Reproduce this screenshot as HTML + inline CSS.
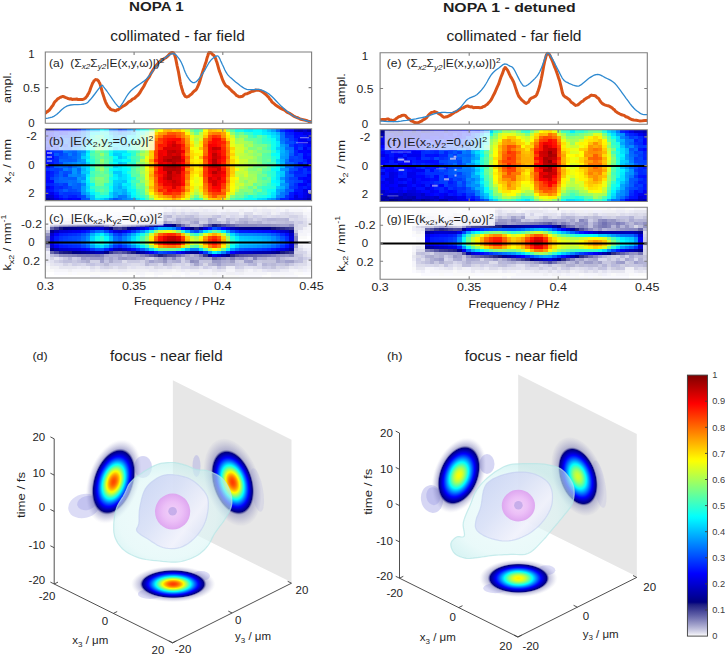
<!DOCTYPE html>
<html><head><meta charset="utf-8"><style>
html,body{margin:0;padding:0;background:#fff;width:725px;height:655px;overflow:hidden}
svg{display:block;font-family:"Liberation Sans", sans-serif}
</style></head><body>
<svg width="725" height="655" viewBox="0 0 725 655">
<defs><radialGradient id="pinkG" cx="0.5" cy="0.5" r="0.5"><stop offset="0" stop-color="#f2d2f9"/><stop offset="0.55" stop-color="#ecbdf7"/><stop offset="0.88" stop-color="#e2aaf2"/><stop offset="1" stop-color="#dca4ef"/></radialGradient><linearGradient id="midG" x1="0" y1="0.1" x2="1" y2="0.9"><stop offset="0" stop-color="#c6d0f3"/><stop offset="0.4" stop-color="#d9dff7"/><stop offset="0.72" stop-color="#f2f1fc"/><stop offset="1" stop-color="#d3daf4"/></linearGradient><radialGradient id="cloudG" cx="0.45" cy="0.55" r="0.55"><stop offset="0" stop-color="#e8fafa"/><stop offset="0.75" stop-color="#dcf6f6"/><stop offset="1" stop-color="#c4eeee"/></radialGradient><radialGradient id="bg1" cx="0.5" cy="0.5" r="0.5"><stop offset="0.000" stop-color="#ff4800" stop-opacity="1.00"/><stop offset="0.013" stop-color="#ff4800" stop-opacity="1.00"/><stop offset="0.025" stop-color="#ff4a00" stop-opacity="1.00"/><stop offset="0.037" stop-color="#ff4d00" stop-opacity="1.00"/><stop offset="0.050" stop-color="#ff5100" stop-opacity="1.00"/><stop offset="0.062" stop-color="#ff5700" stop-opacity="1.00"/><stop offset="0.075" stop-color="#ff5d00" stop-opacity="1.00"/><stop offset="0.087" stop-color="#ff6400" stop-opacity="1.00"/><stop offset="0.100" stop-color="#ff6d00" stop-opacity="1.00"/><stop offset="0.113" stop-color="#ff7700" stop-opacity="1.00"/><stop offset="0.125" stop-color="#ff8100" stop-opacity="1.00"/><stop offset="0.138" stop-color="#ff8d00" stop-opacity="1.00"/><stop offset="0.150" stop-color="#ff9a00" stop-opacity="1.00"/><stop offset="0.163" stop-color="#ffa700" stop-opacity="1.00"/><stop offset="0.175" stop-color="#ffb500" stop-opacity="1.00"/><stop offset="0.188" stop-color="#ffc400" stop-opacity="1.00"/><stop offset="0.200" stop-color="#ffd400" stop-opacity="1.00"/><stop offset="0.212" stop-color="#ffe500" stop-opacity="1.00"/><stop offset="0.225" stop-color="#fff600" stop-opacity="1.00"/><stop offset="0.237" stop-color="#f6ff09" stop-opacity="1.00"/><stop offset="0.250" stop-color="#e4ff1b" stop-opacity="1.00"/><stop offset="0.263" stop-color="#d1ff2e" stop-opacity="1.00"/><stop offset="0.275" stop-color="#beff41" stop-opacity="1.00"/><stop offset="0.287" stop-color="#aaff55" stop-opacity="1.00"/><stop offset="0.300" stop-color="#96ff69" stop-opacity="1.00"/><stop offset="0.312" stop-color="#82ff7d" stop-opacity="1.00"/><stop offset="0.325" stop-color="#6eff91" stop-opacity="1.00"/><stop offset="0.338" stop-color="#59ffa6" stop-opacity="1.00"/><stop offset="0.350" stop-color="#45ffba" stop-opacity="1.00"/><stop offset="0.362" stop-color="#30ffcf" stop-opacity="1.00"/><stop offset="0.375" stop-color="#1cffe3" stop-opacity="1.00"/><stop offset="0.388" stop-color="#07fff8" stop-opacity="1.00"/><stop offset="0.400" stop-color="#00f2ff" stop-opacity="1.00"/><stop offset="0.412" stop-color="#00ddff" stop-opacity="1.00"/><stop offset="0.425" stop-color="#00c9ff" stop-opacity="1.00"/><stop offset="0.438" stop-color="#00b6ff" stop-opacity="1.00"/><stop offset="0.450" stop-color="#00a2ff" stop-opacity="1.00"/><stop offset="0.463" stop-color="#008fff" stop-opacity="1.00"/><stop offset="0.475" stop-color="#007cff" stop-opacity="1.00"/><stop offset="0.487" stop-color="#0069ff" stop-opacity="1.00"/><stop offset="0.500" stop-color="#0057ff" stop-opacity="1.00"/><stop offset="0.512" stop-color="#0046ff" stop-opacity="1.00"/><stop offset="0.525" stop-color="#0034ff" stop-opacity="1.00"/><stop offset="0.537" stop-color="#0024ff" stop-opacity="1.00"/><stop offset="0.550" stop-color="#0013ff" stop-opacity="1.00"/><stop offset="0.562" stop-color="#0004ff" stop-opacity="1.00"/><stop offset="0.575" stop-color="#0000f3" stop-opacity="1.00"/><stop offset="0.588" stop-color="#0000e5" stop-opacity="1.00"/><stop offset="0.600" stop-color="#0000d6" stop-opacity="1.00"/><stop offset="0.613" stop-color="#0000c9" stop-opacity="1.00"/><stop offset="0.625" stop-color="#0000bb" stop-opacity="1.00"/><stop offset="0.637" stop-color="#0000af" stop-opacity="1.00"/><stop offset="0.650" stop-color="#0000a3" stop-opacity="1.00"/><stop offset="0.662" stop-color="#000097" stop-opacity="1.00"/><stop offset="0.675" stop-color="#00008c" stop-opacity="1.00"/><stop offset="0.688" stop-color="#000081" stop-opacity="1.00"/><stop offset="0.700" stop-color="#212184" stop-opacity="0.91"/><stop offset="0.713" stop-color="#373790" stop-opacity="0.79"/><stop offset="0.725" stop-color="#4d4d9d" stop-opacity="0.68"/><stop offset="0.738" stop-color="#6464a9" stop-opacity="0.57"/><stop offset="0.750" stop-color="#7171b1" stop-opacity="0.48"/><stop offset="0.762" stop-color="#7171b1" stop-opacity="0.45"/><stop offset="0.775" stop-color="#7171b1" stop-opacity="0.41"/><stop offset="0.787" stop-color="#7171b1" stop-opacity="0.37"/><stop offset="0.800" stop-color="#7171b1" stop-opacity="0.33"/><stop offset="0.812" stop-color="#7171b1" stop-opacity="0.30"/><stop offset="0.825" stop-color="#7171b1" stop-opacity="0.26"/><stop offset="0.838" stop-color="#7171b1" stop-opacity="0.23"/><stop offset="0.850" stop-color="#7171b1" stop-opacity="0.20"/><stop offset="0.863" stop-color="#7171b1" stop-opacity="0.17"/><stop offset="0.875" stop-color="#7171b1" stop-opacity="0.14"/><stop offset="0.887" stop-color="#7171b1" stop-opacity="0.11"/><stop offset="0.900" stop-color="#7171b1" stop-opacity="0.08"/><stop offset="0.912" stop-color="#7171b1" stop-opacity="0.06"/><stop offset="0.925" stop-color="#7171b1" stop-opacity="0.03"/><stop offset="0.938" stop-color="#7171b1" stop-opacity="0.02"/><stop offset="0.950" stop-color="#7171b1" stop-opacity="0.00"/><stop offset="0.963" stop-color="#7171b1" stop-opacity="0.00"/><stop offset="0.975" stop-color="#7171b1" stop-opacity="0.00"/><stop offset="0.988" stop-color="#7171b1" stop-opacity="0.00"/><stop offset="1.000" stop-color="#7171b1" stop-opacity="0.00"/></radialGradient><radialGradient id="bg2" cx="0.5" cy="0.5" r="0.5"><stop offset="0.000" stop-color="#ff3c00" stop-opacity="1.00"/><stop offset="0.013" stop-color="#ff3d00" stop-opacity="1.00"/><stop offset="0.025" stop-color="#ff3e00" stop-opacity="1.00"/><stop offset="0.037" stop-color="#ff4200" stop-opacity="1.00"/><stop offset="0.050" stop-color="#ff4600" stop-opacity="1.00"/><stop offset="0.062" stop-color="#ff4b00" stop-opacity="1.00"/><stop offset="0.075" stop-color="#ff5200" stop-opacity="1.00"/><stop offset="0.087" stop-color="#ff5900" stop-opacity="1.00"/><stop offset="0.100" stop-color="#ff6200" stop-opacity="1.00"/><stop offset="0.113" stop-color="#ff6c00" stop-opacity="1.00"/><stop offset="0.125" stop-color="#ff7700" stop-opacity="1.00"/><stop offset="0.138" stop-color="#ff8200" stop-opacity="1.00"/><stop offset="0.150" stop-color="#ff8f00" stop-opacity="1.00"/><stop offset="0.163" stop-color="#ff9d00" stop-opacity="1.00"/><stop offset="0.175" stop-color="#ffac00" stop-opacity="1.00"/><stop offset="0.188" stop-color="#ffbb00" stop-opacity="1.00"/><stop offset="0.200" stop-color="#ffcb00" stop-opacity="1.00"/><stop offset="0.212" stop-color="#ffdc00" stop-opacity="1.00"/><stop offset="0.225" stop-color="#ffed00" stop-opacity="1.00"/><stop offset="0.237" stop-color="#feff01" stop-opacity="1.00"/><stop offset="0.250" stop-color="#ecff13" stop-opacity="1.00"/><stop offset="0.263" stop-color="#d9ff26" stop-opacity="1.00"/><stop offset="0.275" stop-color="#c5ff3a" stop-opacity="1.00"/><stop offset="0.287" stop-color="#b1ff4e" stop-opacity="1.00"/><stop offset="0.300" stop-color="#9dff62" stop-opacity="1.00"/><stop offset="0.312" stop-color="#88ff77" stop-opacity="1.00"/><stop offset="0.325" stop-color="#74ff8b" stop-opacity="1.00"/><stop offset="0.338" stop-color="#5fffa0" stop-opacity="1.00"/><stop offset="0.350" stop-color="#4affb5" stop-opacity="1.00"/><stop offset="0.362" stop-color="#35ffca" stop-opacity="1.00"/><stop offset="0.375" stop-color="#20ffdf" stop-opacity="1.00"/><stop offset="0.388" stop-color="#0cfff3" stop-opacity="1.00"/><stop offset="0.400" stop-color="#00f6ff" stop-opacity="1.00"/><stop offset="0.412" stop-color="#00e1ff" stop-opacity="1.00"/><stop offset="0.425" stop-color="#00cdff" stop-opacity="1.00"/><stop offset="0.438" stop-color="#00b9ff" stop-opacity="1.00"/><stop offset="0.450" stop-color="#00a5ff" stop-opacity="1.00"/><stop offset="0.463" stop-color="#0092ff" stop-opacity="1.00"/><stop offset="0.475" stop-color="#007eff" stop-opacity="1.00"/><stop offset="0.487" stop-color="#006cff" stop-opacity="1.00"/><stop offset="0.500" stop-color="#0059ff" stop-opacity="1.00"/><stop offset="0.512" stop-color="#0048ff" stop-opacity="1.00"/><stop offset="0.525" stop-color="#0036ff" stop-opacity="1.00"/><stop offset="0.537" stop-color="#0025ff" stop-opacity="1.00"/><stop offset="0.550" stop-color="#0015ff" stop-opacity="1.00"/><stop offset="0.562" stop-color="#0005ff" stop-opacity="1.00"/><stop offset="0.575" stop-color="#0000f4" stop-opacity="1.00"/><stop offset="0.588" stop-color="#0000e5" stop-opacity="1.00"/><stop offset="0.600" stop-color="#0000d7" stop-opacity="1.00"/><stop offset="0.613" stop-color="#0000c9" stop-opacity="1.00"/><stop offset="0.625" stop-color="#0000bc" stop-opacity="1.00"/><stop offset="0.637" stop-color="#0000af" stop-opacity="1.00"/><stop offset="0.650" stop-color="#0000a3" stop-opacity="1.00"/><stop offset="0.662" stop-color="#000097" stop-opacity="1.00"/><stop offset="0.675" stop-color="#00008c" stop-opacity="1.00"/><stop offset="0.688" stop-color="#000081" stop-opacity="1.00"/><stop offset="0.700" stop-color="#212184" stop-opacity="0.90"/><stop offset="0.713" stop-color="#373790" stop-opacity="0.77"/><stop offset="0.725" stop-color="#4d4d9d" stop-opacity="0.65"/><stop offset="0.738" stop-color="#6464a9" stop-opacity="0.52"/><stop offset="0.750" stop-color="#7171b1" stop-opacity="0.44"/><stop offset="0.762" stop-color="#7171b1" stop-opacity="0.41"/><stop offset="0.775" stop-color="#7171b1" stop-opacity="0.39"/><stop offset="0.787" stop-color="#7171b1" stop-opacity="0.37"/><stop offset="0.800" stop-color="#7171b1" stop-opacity="0.34"/><stop offset="0.812" stop-color="#7171b1" stop-opacity="0.32"/><stop offset="0.825" stop-color="#7171b1" stop-opacity="0.30"/><stop offset="0.838" stop-color="#7171b1" stop-opacity="0.27"/><stop offset="0.850" stop-color="#7171b1" stop-opacity="0.25"/><stop offset="0.863" stop-color="#7171b1" stop-opacity="0.23"/><stop offset="0.875" stop-color="#7171b1" stop-opacity="0.21"/><stop offset="0.887" stop-color="#7171b1" stop-opacity="0.19"/><stop offset="0.900" stop-color="#7171b1" stop-opacity="0.17"/><stop offset="0.912" stop-color="#7171b1" stop-opacity="0.15"/><stop offset="0.925" stop-color="#7171b1" stop-opacity="0.13"/><stop offset="0.938" stop-color="#7171b1" stop-opacity="0.11"/><stop offset="0.950" stop-color="#7171b1" stop-opacity="0.09"/><stop offset="0.963" stop-color="#7171b1" stop-opacity="0.07"/><stop offset="0.975" stop-color="#7171b1" stop-opacity="0.06"/><stop offset="0.988" stop-color="#7171b1" stop-opacity="0.04"/><stop offset="1.000" stop-color="#7171b1" stop-opacity="0.03"/></radialGradient><radialGradient id="bg3" cx="0.5" cy="0.5" r="0.5"><stop offset="0.000" stop-color="#ff3c00" stop-opacity="1.00"/><stop offset="0.013" stop-color="#ff3d00" stop-opacity="1.00"/><stop offset="0.025" stop-color="#ff3e00" stop-opacity="1.00"/><stop offset="0.037" stop-color="#ff4200" stop-opacity="1.00"/><stop offset="0.050" stop-color="#ff4600" stop-opacity="1.00"/><stop offset="0.062" stop-color="#ff4b00" stop-opacity="1.00"/><stop offset="0.075" stop-color="#ff5200" stop-opacity="1.00"/><stop offset="0.087" stop-color="#ff5900" stop-opacity="1.00"/><stop offset="0.100" stop-color="#ff6200" stop-opacity="1.00"/><stop offset="0.113" stop-color="#ff6c00" stop-opacity="1.00"/><stop offset="0.125" stop-color="#ff7700" stop-opacity="1.00"/><stop offset="0.138" stop-color="#ff8200" stop-opacity="1.00"/><stop offset="0.150" stop-color="#ff8f00" stop-opacity="1.00"/><stop offset="0.163" stop-color="#ff9d00" stop-opacity="1.00"/><stop offset="0.175" stop-color="#ffac00" stop-opacity="1.00"/><stop offset="0.188" stop-color="#ffbb00" stop-opacity="1.00"/><stop offset="0.200" stop-color="#ffcb00" stop-opacity="1.00"/><stop offset="0.212" stop-color="#ffdc00" stop-opacity="1.00"/><stop offset="0.225" stop-color="#ffed00" stop-opacity="1.00"/><stop offset="0.237" stop-color="#feff01" stop-opacity="1.00"/><stop offset="0.250" stop-color="#ecff13" stop-opacity="1.00"/><stop offset="0.263" stop-color="#d9ff26" stop-opacity="1.00"/><stop offset="0.275" stop-color="#c5ff3a" stop-opacity="1.00"/><stop offset="0.287" stop-color="#b1ff4e" stop-opacity="1.00"/><stop offset="0.300" stop-color="#9dff62" stop-opacity="1.00"/><stop offset="0.312" stop-color="#88ff77" stop-opacity="1.00"/><stop offset="0.325" stop-color="#74ff8b" stop-opacity="1.00"/><stop offset="0.338" stop-color="#5fffa0" stop-opacity="1.00"/><stop offset="0.350" stop-color="#4affb5" stop-opacity="1.00"/><stop offset="0.362" stop-color="#35ffca" stop-opacity="1.00"/><stop offset="0.375" stop-color="#20ffdf" stop-opacity="1.00"/><stop offset="0.388" stop-color="#0cfff3" stop-opacity="1.00"/><stop offset="0.400" stop-color="#00f6ff" stop-opacity="1.00"/><stop offset="0.412" stop-color="#00e1ff" stop-opacity="1.00"/><stop offset="0.425" stop-color="#00cdff" stop-opacity="1.00"/><stop offset="0.438" stop-color="#00b9ff" stop-opacity="1.00"/><stop offset="0.450" stop-color="#00a5ff" stop-opacity="1.00"/><stop offset="0.463" stop-color="#0092ff" stop-opacity="1.00"/><stop offset="0.475" stop-color="#007eff" stop-opacity="1.00"/><stop offset="0.487" stop-color="#006cff" stop-opacity="1.00"/><stop offset="0.500" stop-color="#0059ff" stop-opacity="1.00"/><stop offset="0.512" stop-color="#0048ff" stop-opacity="1.00"/><stop offset="0.525" stop-color="#0036ff" stop-opacity="1.00"/><stop offset="0.537" stop-color="#0025ff" stop-opacity="1.00"/><stop offset="0.550" stop-color="#0015ff" stop-opacity="1.00"/><stop offset="0.562" stop-color="#0005ff" stop-opacity="1.00"/><stop offset="0.575" stop-color="#0000f4" stop-opacity="1.00"/><stop offset="0.588" stop-color="#0000e5" stop-opacity="1.00"/><stop offset="0.600" stop-color="#0000d7" stop-opacity="1.00"/><stop offset="0.613" stop-color="#0000c9" stop-opacity="1.00"/><stop offset="0.625" stop-color="#0000bc" stop-opacity="1.00"/><stop offset="0.637" stop-color="#0000af" stop-opacity="1.00"/><stop offset="0.650" stop-color="#0000a3" stop-opacity="1.00"/><stop offset="0.662" stop-color="#000097" stop-opacity="1.00"/><stop offset="0.675" stop-color="#00008c" stop-opacity="1.00"/><stop offset="0.688" stop-color="#000081" stop-opacity="1.00"/><stop offset="0.700" stop-color="#212184" stop-opacity="0.90"/><stop offset="0.713" stop-color="#373790" stop-opacity="0.77"/><stop offset="0.725" stop-color="#4d4d9d" stop-opacity="0.65"/><stop offset="0.738" stop-color="#6464a9" stop-opacity="0.52"/><stop offset="0.750" stop-color="#7171b1" stop-opacity="0.44"/><stop offset="0.762" stop-color="#7171b1" stop-opacity="0.40"/><stop offset="0.775" stop-color="#7171b1" stop-opacity="0.37"/><stop offset="0.787" stop-color="#7171b1" stop-opacity="0.33"/><stop offset="0.800" stop-color="#7171b1" stop-opacity="0.30"/><stop offset="0.812" stop-color="#7171b1" stop-opacity="0.27"/><stop offset="0.825" stop-color="#7171b1" stop-opacity="0.24"/><stop offset="0.838" stop-color="#7171b1" stop-opacity="0.21"/><stop offset="0.850" stop-color="#7171b1" stop-opacity="0.18"/><stop offset="0.863" stop-color="#7171b1" stop-opacity="0.15"/><stop offset="0.875" stop-color="#7171b1" stop-opacity="0.12"/><stop offset="0.887" stop-color="#7171b1" stop-opacity="0.10"/><stop offset="0.900" stop-color="#7171b1" stop-opacity="0.07"/><stop offset="0.912" stop-color="#7171b1" stop-opacity="0.05"/><stop offset="0.925" stop-color="#7171b1" stop-opacity="0.03"/><stop offset="0.938" stop-color="#7171b1" stop-opacity="0.01"/><stop offset="0.950" stop-color="#7171b1" stop-opacity="0.00"/><stop offset="0.963" stop-color="#7171b1" stop-opacity="0.00"/><stop offset="0.975" stop-color="#7171b1" stop-opacity="0.00"/><stop offset="0.988" stop-color="#7171b1" stop-opacity="0.00"/><stop offset="1.000" stop-color="#7171b1" stop-opacity="0.00"/></radialGradient><radialGradient id="bg4" cx="0.5" cy="0.5" r="0.5"><stop offset="0.000" stop-color="#fbff04" stop-opacity="1.00"/><stop offset="0.013" stop-color="#faff05" stop-opacity="1.00"/><stop offset="0.025" stop-color="#f9ff06" stop-opacity="1.00"/><stop offset="0.037" stop-color="#f7ff08" stop-opacity="1.00"/><stop offset="0.050" stop-color="#f4ff0b" stop-opacity="1.00"/><stop offset="0.062" stop-color="#f0ff0f" stop-opacity="1.00"/><stop offset="0.075" stop-color="#ecff13" stop-opacity="1.00"/><stop offset="0.087" stop-color="#e6ff19" stop-opacity="1.00"/><stop offset="0.100" stop-color="#e0ff1f" stop-opacity="1.00"/><stop offset="0.113" stop-color="#d9ff26" stop-opacity="1.00"/><stop offset="0.125" stop-color="#d1ff2e" stop-opacity="1.00"/><stop offset="0.138" stop-color="#c9ff36" stop-opacity="1.00"/><stop offset="0.150" stop-color="#c0ff3f" stop-opacity="1.00"/><stop offset="0.163" stop-color="#b6ff49" stop-opacity="1.00"/><stop offset="0.175" stop-color="#acff53" stop-opacity="1.00"/><stop offset="0.188" stop-color="#a1ff5e" stop-opacity="1.00"/><stop offset="0.200" stop-color="#95ff6a" stop-opacity="1.00"/><stop offset="0.212" stop-color="#89ff76" stop-opacity="1.00"/><stop offset="0.225" stop-color="#7dff82" stop-opacity="1.00"/><stop offset="0.237" stop-color="#70ff8f" stop-opacity="1.00"/><stop offset="0.250" stop-color="#62ff9d" stop-opacity="1.00"/><stop offset="0.263" stop-color="#55ffaa" stop-opacity="1.00"/><stop offset="0.275" stop-color="#46ffb9" stop-opacity="1.00"/><stop offset="0.287" stop-color="#38ffc7" stop-opacity="1.00"/><stop offset="0.300" stop-color="#29ffd6" stop-opacity="1.00"/><stop offset="0.312" stop-color="#1affe5" stop-opacity="1.00"/><stop offset="0.325" stop-color="#0bfff4" stop-opacity="1.00"/><stop offset="0.338" stop-color="#00faff" stop-opacity="1.00"/><stop offset="0.350" stop-color="#00ebff" stop-opacity="1.00"/><stop offset="0.362" stop-color="#00dbff" stop-opacity="1.00"/><stop offset="0.375" stop-color="#00ccff" stop-opacity="1.00"/><stop offset="0.388" stop-color="#00bcff" stop-opacity="1.00"/><stop offset="0.400" stop-color="#00adff" stop-opacity="1.00"/><stop offset="0.412" stop-color="#009dff" stop-opacity="1.00"/><stop offset="0.425" stop-color="#008eff" stop-opacity="1.00"/><stop offset="0.438" stop-color="#007eff" stop-opacity="1.00"/><stop offset="0.450" stop-color="#006fff" stop-opacity="1.00"/><stop offset="0.463" stop-color="#0060ff" stop-opacity="1.00"/><stop offset="0.475" stop-color="#0051ff" stop-opacity="1.00"/><stop offset="0.487" stop-color="#0042ff" stop-opacity="1.00"/><stop offset="0.500" stop-color="#0034ff" stop-opacity="1.00"/><stop offset="0.512" stop-color="#0026ff" stop-opacity="1.00"/><stop offset="0.525" stop-color="#0018ff" stop-opacity="1.00"/><stop offset="0.537" stop-color="#000aff" stop-opacity="1.00"/><stop offset="0.550" stop-color="#0000fc" stop-opacity="1.00"/><stop offset="0.562" stop-color="#0000ef" stop-opacity="1.00"/><stop offset="0.575" stop-color="#0000e2" stop-opacity="1.00"/><stop offset="0.588" stop-color="#0000d6" stop-opacity="1.00"/><stop offset="0.600" stop-color="#0000ca" stop-opacity="1.00"/><stop offset="0.613" stop-color="#0000bf" stop-opacity="1.00"/><stop offset="0.625" stop-color="#0000b3" stop-opacity="1.00"/><stop offset="0.637" stop-color="#0000a9" stop-opacity="1.00"/><stop offset="0.650" stop-color="#00009e" stop-opacity="1.00"/><stop offset="0.662" stop-color="#000094" stop-opacity="1.00"/><stop offset="0.675" stop-color="#00008a" stop-opacity="1.00"/><stop offset="0.688" stop-color="#000081" stop-opacity="1.00"/><stop offset="0.700" stop-color="#212184" stop-opacity="0.91"/><stop offset="0.713" stop-color="#373790" stop-opacity="0.79"/><stop offset="0.725" stop-color="#4d4d9d" stop-opacity="0.68"/><stop offset="0.738" stop-color="#6464a9" stop-opacity="0.57"/><stop offset="0.750" stop-color="#7171b1" stop-opacity="0.48"/><stop offset="0.762" stop-color="#7171b1" stop-opacity="0.45"/><stop offset="0.775" stop-color="#7171b1" stop-opacity="0.41"/><stop offset="0.787" stop-color="#7171b1" stop-opacity="0.37"/><stop offset="0.800" stop-color="#7171b1" stop-opacity="0.33"/><stop offset="0.812" stop-color="#7171b1" stop-opacity="0.30"/><stop offset="0.825" stop-color="#7171b1" stop-opacity="0.26"/><stop offset="0.838" stop-color="#7171b1" stop-opacity="0.23"/><stop offset="0.850" stop-color="#7171b1" stop-opacity="0.20"/><stop offset="0.863" stop-color="#7171b1" stop-opacity="0.17"/><stop offset="0.875" stop-color="#7171b1" stop-opacity="0.14"/><stop offset="0.887" stop-color="#7171b1" stop-opacity="0.11"/><stop offset="0.900" stop-color="#7171b1" stop-opacity="0.08"/><stop offset="0.912" stop-color="#7171b1" stop-opacity="0.06"/><stop offset="0.925" stop-color="#7171b1" stop-opacity="0.03"/><stop offset="0.938" stop-color="#7171b1" stop-opacity="0.02"/><stop offset="0.950" stop-color="#7171b1" stop-opacity="0.00"/><stop offset="0.963" stop-color="#7171b1" stop-opacity="0.00"/><stop offset="0.975" stop-color="#7171b1" stop-opacity="0.00"/><stop offset="0.988" stop-color="#7171b1" stop-opacity="0.00"/><stop offset="1.000" stop-color="#7171b1" stop-opacity="0.00"/></radialGradient><radialGradient id="bg5" cx="0.5" cy="0.5" r="0.5"><stop offset="0.000" stop-color="#d2ff2d" stop-opacity="1.00"/><stop offset="0.013" stop-color="#d1ff2e" stop-opacity="1.00"/><stop offset="0.025" stop-color="#d0ff2f" stop-opacity="1.00"/><stop offset="0.037" stop-color="#ceff31" stop-opacity="1.00"/><stop offset="0.050" stop-color="#cbff34" stop-opacity="1.00"/><stop offset="0.062" stop-color="#c8ff37" stop-opacity="1.00"/><stop offset="0.075" stop-color="#c4ff3b" stop-opacity="1.00"/><stop offset="0.087" stop-color="#bfff40" stop-opacity="1.00"/><stop offset="0.100" stop-color="#b9ff46" stop-opacity="1.00"/><stop offset="0.113" stop-color="#b3ff4c" stop-opacity="1.00"/><stop offset="0.125" stop-color="#acff53" stop-opacity="1.00"/><stop offset="0.138" stop-color="#a4ff5b" stop-opacity="1.00"/><stop offset="0.150" stop-color="#9cff63" stop-opacity="1.00"/><stop offset="0.163" stop-color="#93ff6c" stop-opacity="1.00"/><stop offset="0.175" stop-color="#89ff76" stop-opacity="1.00"/><stop offset="0.188" stop-color="#7fff80" stop-opacity="1.00"/><stop offset="0.200" stop-color="#75ff8a" stop-opacity="1.00"/><stop offset="0.212" stop-color="#69ff96" stop-opacity="1.00"/><stop offset="0.225" stop-color="#5effa1" stop-opacity="1.00"/><stop offset="0.237" stop-color="#52ffad" stop-opacity="1.00"/><stop offset="0.250" stop-color="#46ffb9" stop-opacity="1.00"/><stop offset="0.263" stop-color="#39ffc6" stop-opacity="1.00"/><stop offset="0.275" stop-color="#2cffd3" stop-opacity="1.00"/><stop offset="0.287" stop-color="#1effe1" stop-opacity="1.00"/><stop offset="0.300" stop-color="#11ffee" stop-opacity="1.00"/><stop offset="0.312" stop-color="#03fffc" stop-opacity="1.00"/><stop offset="0.325" stop-color="#00f4ff" stop-opacity="1.00"/><stop offset="0.338" stop-color="#00e5ff" stop-opacity="1.00"/><stop offset="0.350" stop-color="#00d7ff" stop-opacity="1.00"/><stop offset="0.362" stop-color="#00c8ff" stop-opacity="1.00"/><stop offset="0.375" stop-color="#00baff" stop-opacity="1.00"/><stop offset="0.388" stop-color="#00abff" stop-opacity="1.00"/><stop offset="0.400" stop-color="#009dff" stop-opacity="1.00"/><stop offset="0.412" stop-color="#008eff" stop-opacity="1.00"/><stop offset="0.425" stop-color="#0080ff" stop-opacity="1.00"/><stop offset="0.438" stop-color="#0071ff" stop-opacity="1.00"/><stop offset="0.450" stop-color="#0063ff" stop-opacity="1.00"/><stop offset="0.463" stop-color="#0055ff" stop-opacity="1.00"/><stop offset="0.475" stop-color="#0047ff" stop-opacity="1.00"/><stop offset="0.487" stop-color="#0039ff" stop-opacity="1.00"/><stop offset="0.500" stop-color="#002cff" stop-opacity="1.00"/><stop offset="0.512" stop-color="#001eff" stop-opacity="1.00"/><stop offset="0.525" stop-color="#0011ff" stop-opacity="1.00"/><stop offset="0.537" stop-color="#0004ff" stop-opacity="1.00"/><stop offset="0.550" stop-color="#0000f7" stop-opacity="1.00"/><stop offset="0.562" stop-color="#0000ea" stop-opacity="1.00"/><stop offset="0.575" stop-color="#0000de" stop-opacity="1.00"/><stop offset="0.588" stop-color="#0000d3" stop-opacity="1.00"/><stop offset="0.600" stop-color="#0000c7" stop-opacity="1.00"/><stop offset="0.613" stop-color="#0000bc" stop-opacity="1.00"/><stop offset="0.625" stop-color="#0000b1" stop-opacity="1.00"/><stop offset="0.637" stop-color="#0000a7" stop-opacity="1.00"/><stop offset="0.650" stop-color="#00009d" stop-opacity="1.00"/><stop offset="0.662" stop-color="#000093" stop-opacity="1.00"/><stop offset="0.675" stop-color="#00008a" stop-opacity="1.00"/><stop offset="0.688" stop-color="#000081" stop-opacity="1.00"/><stop offset="0.700" stop-color="#212184" stop-opacity="0.90"/><stop offset="0.713" stop-color="#373790" stop-opacity="0.77"/><stop offset="0.725" stop-color="#4d4d9d" stop-opacity="0.65"/><stop offset="0.738" stop-color="#6464a9" stop-opacity="0.52"/><stop offset="0.750" stop-color="#7171b1" stop-opacity="0.44"/><stop offset="0.762" stop-color="#7171b1" stop-opacity="0.41"/><stop offset="0.775" stop-color="#7171b1" stop-opacity="0.39"/><stop offset="0.787" stop-color="#7171b1" stop-opacity="0.37"/><stop offset="0.800" stop-color="#7171b1" stop-opacity="0.34"/><stop offset="0.812" stop-color="#7171b1" stop-opacity="0.32"/><stop offset="0.825" stop-color="#7171b1" stop-opacity="0.30"/><stop offset="0.838" stop-color="#7171b1" stop-opacity="0.27"/><stop offset="0.850" stop-color="#7171b1" stop-opacity="0.25"/><stop offset="0.863" stop-color="#7171b1" stop-opacity="0.23"/><stop offset="0.875" stop-color="#7171b1" stop-opacity="0.21"/><stop offset="0.887" stop-color="#7171b1" stop-opacity="0.19"/><stop offset="0.900" stop-color="#7171b1" stop-opacity="0.17"/><stop offset="0.912" stop-color="#7171b1" stop-opacity="0.15"/><stop offset="0.925" stop-color="#7171b1" stop-opacity="0.13"/><stop offset="0.938" stop-color="#7171b1" stop-opacity="0.11"/><stop offset="0.950" stop-color="#7171b1" stop-opacity="0.09"/><stop offset="0.963" stop-color="#7171b1" stop-opacity="0.07"/><stop offset="0.975" stop-color="#7171b1" stop-opacity="0.06"/><stop offset="0.988" stop-color="#7171b1" stop-opacity="0.04"/><stop offset="1.000" stop-color="#7171b1" stop-opacity="0.03"/></radialGradient><radialGradient id="bg6" cx="0.5" cy="0.5" r="0.5"><stop offset="0.000" stop-color="#fff200" stop-opacity="1.00"/><stop offset="0.013" stop-color="#fff200" stop-opacity="1.00"/><stop offset="0.025" stop-color="#fff400" stop-opacity="1.00"/><stop offset="0.037" stop-color="#fff600" stop-opacity="1.00"/><stop offset="0.050" stop-color="#fff900" stop-opacity="1.00"/><stop offset="0.062" stop-color="#fffd00" stop-opacity="1.00"/><stop offset="0.075" stop-color="#fdff02" stop-opacity="1.00"/><stop offset="0.087" stop-color="#f7ff08" stop-opacity="1.00"/><stop offset="0.100" stop-color="#f1ff0e" stop-opacity="1.00"/><stop offset="0.113" stop-color="#e9ff16" stop-opacity="1.00"/><stop offset="0.125" stop-color="#e2ff1d" stop-opacity="1.00"/><stop offset="0.138" stop-color="#d9ff26" stop-opacity="1.00"/><stop offset="0.150" stop-color="#cfff30" stop-opacity="1.00"/><stop offset="0.163" stop-color="#c5ff3a" stop-opacity="1.00"/><stop offset="0.175" stop-color="#bbff44" stop-opacity="1.00"/><stop offset="0.188" stop-color="#afff50" stop-opacity="1.00"/><stop offset="0.200" stop-color="#a3ff5c" stop-opacity="1.00"/><stop offset="0.212" stop-color="#97ff68" stop-opacity="1.00"/><stop offset="0.225" stop-color="#8aff75" stop-opacity="1.00"/><stop offset="0.237" stop-color="#7dff82" stop-opacity="1.00"/><stop offset="0.250" stop-color="#6fff90" stop-opacity="1.00"/><stop offset="0.263" stop-color="#60ff9f" stop-opacity="1.00"/><stop offset="0.275" stop-color="#52ffad" stop-opacity="1.00"/><stop offset="0.287" stop-color="#43ffbc" stop-opacity="1.00"/><stop offset="0.300" stop-color="#33ffcc" stop-opacity="1.00"/><stop offset="0.312" stop-color="#24ffdb" stop-opacity="1.00"/><stop offset="0.325" stop-color="#14ffeb" stop-opacity="1.00"/><stop offset="0.338" stop-color="#04fffb" stop-opacity="1.00"/><stop offset="0.350" stop-color="#00f4ff" stop-opacity="1.00"/><stop offset="0.362" stop-color="#00e4ff" stop-opacity="1.00"/><stop offset="0.375" stop-color="#00d3ff" stop-opacity="1.00"/><stop offset="0.388" stop-color="#00c3ff" stop-opacity="1.00"/><stop offset="0.400" stop-color="#00b3ff" stop-opacity="1.00"/><stop offset="0.412" stop-color="#00a3ff" stop-opacity="1.00"/><stop offset="0.425" stop-color="#0093ff" stop-opacity="1.00"/><stop offset="0.438" stop-color="#0084ff" stop-opacity="1.00"/><stop offset="0.450" stop-color="#0074ff" stop-opacity="1.00"/><stop offset="0.463" stop-color="#0064ff" stop-opacity="1.00"/><stop offset="0.475" stop-color="#0055ff" stop-opacity="1.00"/><stop offset="0.487" stop-color="#0046ff" stop-opacity="1.00"/><stop offset="0.500" stop-color="#0037ff" stop-opacity="1.00"/><stop offset="0.512" stop-color="#0029ff" stop-opacity="1.00"/><stop offset="0.525" stop-color="#001bff" stop-opacity="1.00"/><stop offset="0.537" stop-color="#000dff" stop-opacity="1.00"/><stop offset="0.550" stop-color="#0000fe" stop-opacity="1.00"/><stop offset="0.562" stop-color="#0000f1" stop-opacity="1.00"/><stop offset="0.575" stop-color="#0000e4" stop-opacity="1.00"/><stop offset="0.588" stop-color="#0000d8" stop-opacity="1.00"/><stop offset="0.600" stop-color="#0000cb" stop-opacity="1.00"/><stop offset="0.613" stop-color="#0000c0" stop-opacity="1.00"/><stop offset="0.625" stop-color="#0000b4" stop-opacity="1.00"/><stop offset="0.637" stop-color="#0000a9" stop-opacity="1.00"/><stop offset="0.650" stop-color="#00009f" stop-opacity="1.00"/><stop offset="0.662" stop-color="#000094" stop-opacity="1.00"/><stop offset="0.675" stop-color="#00008b" stop-opacity="1.00"/><stop offset="0.688" stop-color="#000081" stop-opacity="1.00"/><stop offset="0.700" stop-color="#212184" stop-opacity="0.90"/><stop offset="0.713" stop-color="#373790" stop-opacity="0.77"/><stop offset="0.725" stop-color="#4d4d9d" stop-opacity="0.65"/><stop offset="0.738" stop-color="#6464a9" stop-opacity="0.52"/><stop offset="0.750" stop-color="#7171b1" stop-opacity="0.44"/><stop offset="0.762" stop-color="#7171b1" stop-opacity="0.40"/><stop offset="0.775" stop-color="#7171b1" stop-opacity="0.37"/><stop offset="0.787" stop-color="#7171b1" stop-opacity="0.33"/><stop offset="0.800" stop-color="#7171b1" stop-opacity="0.30"/><stop offset="0.812" stop-color="#7171b1" stop-opacity="0.27"/><stop offset="0.825" stop-color="#7171b1" stop-opacity="0.24"/><stop offset="0.838" stop-color="#7171b1" stop-opacity="0.21"/><stop offset="0.850" stop-color="#7171b1" stop-opacity="0.18"/><stop offset="0.863" stop-color="#7171b1" stop-opacity="0.15"/><stop offset="0.875" stop-color="#7171b1" stop-opacity="0.12"/><stop offset="0.887" stop-color="#7171b1" stop-opacity="0.10"/><stop offset="0.900" stop-color="#7171b1" stop-opacity="0.07"/><stop offset="0.912" stop-color="#7171b1" stop-opacity="0.05"/><stop offset="0.925" stop-color="#7171b1" stop-opacity="0.03"/><stop offset="0.938" stop-color="#7171b1" stop-opacity="0.01"/><stop offset="0.950" stop-color="#7171b1" stop-opacity="0.00"/><stop offset="0.963" stop-color="#7171b1" stop-opacity="0.00"/><stop offset="0.975" stop-color="#7171b1" stop-opacity="0.00"/><stop offset="0.988" stop-color="#7171b1" stop-opacity="0.00"/><stop offset="1.000" stop-color="#7171b1" stop-opacity="0.00"/></radialGradient><linearGradient id="cbG" x1="0" y1="0" x2="0" y2="1"><stop offset="0.00" stop-color="#800000"/><stop offset="0.01" stop-color="#8b0000"/><stop offset="0.02" stop-color="#970000"/><stop offset="0.03" stop-color="#a30000"/><stop offset="0.04" stop-color="#ae0000"/><stop offset="0.05" stop-color="#ba0000"/><stop offset="0.06" stop-color="#c60000"/><stop offset="0.07" stop-color="#d20000"/><stop offset="0.08" stop-color="#dd0000"/><stop offset="0.09" stop-color="#e90000"/><stop offset="0.10" stop-color="#f50000"/><stop offset="0.11" stop-color="#ff0100"/><stop offset="0.12" stop-color="#ff0d00"/><stop offset="0.13" stop-color="#ff1900"/><stop offset="0.14" stop-color="#ff2500"/><stop offset="0.15" stop-color="#ff3000"/><stop offset="0.16" stop-color="#ff3c00"/><stop offset="0.17" stop-color="#ff4800"/><stop offset="0.18" stop-color="#ff5400"/><stop offset="0.19" stop-color="#ff5f00"/><stop offset="0.20" stop-color="#ff6b00"/><stop offset="0.21" stop-color="#ff7700"/><stop offset="0.22" stop-color="#ff8200"/><stop offset="0.23" stop-color="#ff8e00"/><stop offset="0.24" stop-color="#ff9a00"/><stop offset="0.25" stop-color="#ffa600"/><stop offset="0.26" stop-color="#ffb100"/><stop offset="0.27" stop-color="#ffbd00"/><stop offset="0.28" stop-color="#ffc900"/><stop offset="0.29" stop-color="#ffd500"/><stop offset="0.30" stop-color="#ffe000"/><stop offset="0.31" stop-color="#ffec00"/><stop offset="0.32" stop-color="#fff800"/><stop offset="0.33" stop-color="#fbff04"/><stop offset="0.34" stop-color="#efff10"/><stop offset="0.35" stop-color="#e3ff1c"/><stop offset="0.36" stop-color="#d7ff28"/><stop offset="0.37" stop-color="#ccff33"/><stop offset="0.38" stop-color="#c0ff3f"/><stop offset="0.39" stop-color="#b4ff4b"/><stop offset="0.40" stop-color="#a9ff56"/><stop offset="0.41" stop-color="#9dff62"/><stop offset="0.42" stop-color="#91ff6e"/><stop offset="0.43" stop-color="#85ff7a"/><stop offset="0.44" stop-color="#7aff85"/><stop offset="0.45" stop-color="#6eff91"/><stop offset="0.46" stop-color="#62ff9d"/><stop offset="0.47" stop-color="#56ffa9"/><stop offset="0.48" stop-color="#4bffb4"/><stop offset="0.49" stop-color="#3fffc0"/><stop offset="0.50" stop-color="#33ffcc"/><stop offset="0.51" stop-color="#28ffd7"/><stop offset="0.52" stop-color="#1cffe3"/><stop offset="0.53" stop-color="#10ffef"/><stop offset="0.54" stop-color="#04fffb"/><stop offset="0.55" stop-color="#00f8ff"/><stop offset="0.56" stop-color="#00ecff"/><stop offset="0.57" stop-color="#00e0ff"/><stop offset="0.58" stop-color="#00d5ff"/><stop offset="0.59" stop-color="#00c9ff"/><stop offset="0.60" stop-color="#00bdff"/><stop offset="0.61" stop-color="#00b1ff"/><stop offset="0.62" stop-color="#00a6ff"/><stop offset="0.63" stop-color="#009aff"/><stop offset="0.64" stop-color="#008eff"/><stop offset="0.65" stop-color="#0082ff"/><stop offset="0.66" stop-color="#0077ff"/><stop offset="0.67" stop-color="#006bff"/><stop offset="0.68" stop-color="#005fff"/><stop offset="0.69" stop-color="#0054ff"/><stop offset="0.70" stop-color="#0048ff"/><stop offset="0.71" stop-color="#003cff"/><stop offset="0.72" stop-color="#0030ff"/><stop offset="0.73" stop-color="#0025ff"/><stop offset="0.74" stop-color="#0019ff"/><stop offset="0.75" stop-color="#000dff"/><stop offset="0.76" stop-color="#0001ff"/><stop offset="0.77" stop-color="#0000f5"/><stop offset="0.78" stop-color="#0000e9"/><stop offset="0.79" stop-color="#0000dd"/><stop offset="0.80" stop-color="#0000d2"/><stop offset="0.81" stop-color="#0000c6"/><stop offset="0.82" stop-color="#0000ba"/><stop offset="0.83" stop-color="#0000ae"/><stop offset="0.84" stop-color="#0000a3"/><stop offset="0.85" stop-color="#000097"/><stop offset="0.86" stop-color="#00008b"/><stop offset="0.87" stop-color="#000080"/><stop offset="0.88" stop-color="#1f1f83"/><stop offset="0.89" stop-color="#2f2f8c"/><stop offset="0.90" stop-color="#3f3f95"/><stop offset="0.91" stop-color="#50509e"/><stop offset="0.92" stop-color="#6060a7"/><stop offset="0.93" stop-color="#7171b1"/><stop offset="0.94" stop-color="#8383ba"/><stop offset="0.95" stop-color="#9595c4"/><stop offset="0.96" stop-color="#a7a7ce"/><stop offset="0.97" stop-color="#babad9"/><stop offset="0.98" stop-color="#cecee4"/><stop offset="0.99" stop-color="#e4e4f0"/><stop offset="1.00" stop-color="#ffffff"/></linearGradient></defs>
<text x="156.4" y="10.8" font-size="13" text-anchor="middle" font-weight="bold" fill="#1e1e1e" textLength="54.7" lengthAdjust="spacingAndGlyphs" >NOPA 1</text>
<text x="177.5" y="41.3" font-size="14" text-anchor="middle" font-weight="normal" fill="#1e1e1e" textLength="134.6" lengthAdjust="spacingAndGlyphs" >collimated - far field</text>
<text x="509.3" y="12.0" font-size="13" text-anchor="middle" font-weight="bold" fill="#1e1e1e" textLength="132.8" lengthAdjust="spacingAndGlyphs" >NOPA 1 - detuned</text>
<text x="514.0" y="41.4" font-size="14" text-anchor="middle" font-weight="normal" fill="#1e1e1e" textLength="135.1" lengthAdjust="spacingAndGlyphs" >collimated - far field</text>
<clipPath id="clipA45"><rect x="45.3" y="51.0" width="266.3" height="72.2"/></clipPath>
<g clip-path="url(#clipA45)">
<path d="M45.0 113.1 L45.8 112.8 L46.8 111.9 L48.1 111.1 L49.4 110.0 L50.6 108.4 L51.7 106.8 L52.8 105.6 L53.9 103.3 L55.0 101.6 L56.2 100.6 L57.4 99.1 L58.7 98.4 L60.1 97.4 L61.4 97.0 L62.7 96.4 L64.0 96.8 L65.3 97.4 L66.5 97.8 L67.8 98.5 L69.2 98.9 L70.6 98.7 L72.1 99.4 L73.7 99.3 L75.2 99.2 L76.7 99.0 L78.2 99.6 L79.8 99.4 L81.3 99.6 L82.8 99.5 L84.1 98.9 L85.2 98.3 L86.2 97.0 L87.1 96.0 L87.9 94.4 L88.8 93.1 L89.7 91.0 L90.7 88.0 L91.7 85.5 L92.6 83.2 L93.4 82.0 L94.2 80.6 L94.9 80.1 L95.5 79.6 L96.2 79.7 L96.8 79.7 L97.4 79.9 L98.0 80.5 L98.6 81.1 L99.2 82.4 L99.9 83.6 L100.6 85.9 L101.3 88.5 L102.1 91.5 L102.9 94.1 L103.7 96.4 L104.6 99.2 L105.4 101.5 L106.3 103.6 L107.3 105.3 L108.3 106.9 L109.4 107.8 L110.5 109.2 L111.6 109.8 L112.8 110.1 L113.9 110.2 L115.0 110.8 L116.0 110.7 L117.0 109.7 L118.1 109.7 L119.5 108.6 L121.1 107.5 L123.0 106.3 L124.9 105.2 L126.9 103.8 L128.8 101.8 L130.7 100.9 L132.5 99.2 L134.4 98.4 L136.2 96.6 L138.1 95.0 L140.0 92.5 L141.8 89.3 L143.7 86.5 L145.5 82.8 L147.4 79.5 L149.3 76.8 L151.1 73.2 L153.0 70.1 L154.8 67.3 L156.7 65.0 L158.6 62.6 L160.5 60.9 L162.4 60.1 L164.3 58.5 L166.0 57.7 L167.7 56.2 L169.3 54.3 L170.8 53.0 L172.2 52.4 L173.5 52.9 L174.6 54.8 L175.5 57.8 L176.3 61.6 L177.1 65.7 L177.8 68.9 L178.5 72.0 L179.1 75.4 L179.6 78.2 L180.1 81.2 L180.7 84.3 L181.3 86.4 L181.8 88.5 L182.4 90.1 L182.9 92.0 L183.5 93.6 L184.1 94.3 L184.7 95.7 L185.2 96.4 L185.9 96.4 L186.7 97.0 L187.6 96.7 L188.6 96.3 L189.8 95.3 L190.9 94.6 L192.0 93.7 L193.1 92.2 L194.3 91.1 L195.5 90.3 L196.6 89.0 L197.7 86.6 L198.7 84.4 L199.7 81.6 L200.6 78.4 L201.5 75.4 L202.4 72.6 L203.2 70.1 L204.0 67.9 L204.8 65.4 L205.5 63.3 L206.2 61.5 L206.8 58.9 L207.3 57.2 L207.9 55.5 L208.4 53.7 L209.0 52.6 L209.7 52.7 L210.5 52.5 L211.3 53.1 L212.1 54.0 L212.8 54.8 L213.4 54.9 L213.9 55.6 L214.5 56.2 L215.0 57.4 L215.6 58.5 L216.3 60.7 L217.0 62.6 L217.8 65.4 L218.6 68.3 L219.4 71.1 L220.3 73.3 L221.2 75.8 L222.1 78.4 L223.1 81.1 L224.1 82.9 L225.2 84.9 L226.3 86.1 L227.5 86.6 L228.6 87.5 L229.8 88.9 L231.0 90.0 L232.1 91.3 L233.3 92.2 L234.4 93.2 L235.5 94.3 L236.5 95.4 L237.4 95.8 L238.2 96.4 L239.2 96.8 L240.2 96.8 L241.4 96.5 L242.7 96.2 L244.0 94.9 L245.4 93.9 L246.8 93.8 L248.3 93.1 L249.9 92.5 L251.5 91.5 L253.0 91.3 L254.4 90.9 L255.6 90.1 L256.7 90.3 L257.7 90.3 L258.8 90.3 L260.0 90.6 L261.4 91.2 L263.0 92.3 L264.6 93.5 L266.2 94.7 L267.6 96.4 L268.8 97.4 L269.7 99.0 L270.7 99.8 L271.8 101.8 L273.3 103.0 L275.2 104.7 L277.4 106.2 L279.8 107.8 L282.3 109.1 L284.6 110.2 L286.9 112.1 L289.1 113.1 L291.4 114.6 L293.6 116.1 L295.9 117.1 L298.3 118.0 L300.8 119.3 L303.2 119.8 L305.5 120.3 L307.3 120.7 L308.7 121.5 L309.7 121.5 L310.5 121.8 L311.1 121.6 L311.6 121.6" fill="none" stroke="#d95319" stroke-width="3.0" stroke-linejoin="round" stroke-linecap="round" />
<path d="M45.0 118.5 L46.2 118.3 L47.9 118.1 L49.9 117.7 L52.1 117.1 L54.3 116.1 L56.6 114.4 L59.1 112.2 L61.6 109.8 L64.4 107.5 L67.3 105.9 L70.6 105.0 L74.2 104.7 L77.9 104.6 L81.3 104.4 L84.1 104.0 L86.0 103.4 L87.3 102.7 L88.2 101.9 L89.2 100.8 L90.6 99.3 L92.5 97.0 L94.8 94.0 L97.1 90.8 L99.2 88.1 L100.9 86.3 L101.9 85.5 L102.4 85.2 L102.8 85.6 L103.4 86.6 L104.6 88.2 L106.8 91.0 L109.6 95.0 L112.6 99.4 L115.4 103.3 L117.6 105.9 L118.9 107.1 L119.5 107.5 L119.9 107.1 L120.4 106.2 L121.4 104.9 L122.8 102.9 L124.4 100.2 L126.2 97.0 L128.3 93.9 L130.7 91.0 L133.5 88.5 L136.8 86.1 L140.3 83.7 L143.6 81.4 L146.5 78.9 L148.9 76.3 L151.1 73.5 L153.1 70.7 L154.9 68.1 L156.7 65.8 L158.3 63.9 L159.8 62.3 L161.2 60.9 L162.6 59.6 L164.2 58.4 L166.0 57.1 L167.9 55.7 L169.8 54.6 L171.7 53.8 L173.5 53.7 L175.1 54.3 L176.6 55.6 L178.0 57.3 L179.4 59.2 L180.7 61.3 L181.9 63.7 L183.1 66.5 L184.1 69.4 L185.2 72.2 L186.3 74.6 L187.4 76.6 L188.6 78.4 L189.8 80.0 L190.9 81.2 L192.0 82.1 L193.0 82.6 L193.9 82.7 L194.7 82.5 L195.7 82.0 L196.7 81.2 L197.9 80.0 L199.2 78.5 L200.6 76.7 L201.9 74.7 L203.3 72.7 L204.7 70.5 L206.0 68.0 L207.4 65.5 L208.7 63.2 L210.0 61.3 L211.2 59.9 L212.4 58.7 L213.6 57.8 L214.7 57.1 L215.6 56.6 L216.3 56.2 L216.9 55.9 L217.4 55.8 L217.9 56.0 L218.5 56.6 L219.2 57.6 L219.9 59.0 L220.6 60.7 L221.4 62.4 L222.2 64.2 L223.1 66.0 L224.0 68.0 L224.9 70.0 L225.9 71.9 L227.0 73.6 L228.1 75.1 L229.3 76.4 L230.5 77.6 L232.0 78.8 L233.6 80.2 L235.6 81.9 L238.0 83.8 L240.4 85.7 L242.8 87.4 L244.9 88.7 L246.7 89.4 L248.2 89.7 L249.6 89.7 L251.0 89.7 L252.5 89.7 L254.0 89.7 L255.4 89.5 L256.9 89.4 L258.4 89.4 L260.0 89.7 L261.7 90.2 L263.6 90.9 L265.5 91.8 L267.5 93.0 L269.5 94.4 L271.6 96.3 L273.9 98.5 L276.2 101.0 L278.5 103.4 L280.8 105.7 L283.1 107.8 L285.4 109.9 L287.6 111.8 L289.9 113.6 L292.2 115.2 L294.5 116.5 L296.9 117.6 L299.2 118.5 L301.4 119.2 L303.5 119.9 L305.5 120.5 L307.4 121.0 L309.1 121.3 L310.5 121.6 L311.6 121.8" fill="none" stroke="#2d89d0" stroke-width="1.3" stroke-linejoin="round" stroke-linecap="round" />
</g>
<path d="M45.3 52.0H311.6V123.2H45.3ZM134.1 52.0v3M134.1 123.2v-3M222.8 52.0v3M222.8 123.2v-3M45.3 87.6h3M311.6 87.6h-3" fill="none" stroke="#7f7f7f" stroke-width="1.1"/>
<clipPath id="clipA380"><rect x="380.1" y="51.8" width="267.19999999999993" height="72.4"/></clipPath>
<g clip-path="url(#clipA380)">
<path d="M380.0 119.6 L381.0 119.7 L382.5 119.5 L384.2 119.5 L385.9 119.4 L387.4 119.0 L388.6 119.1 L389.8 120.1 L390.8 120.0 L391.9 120.3 L393.0 120.7 L394.1 120.0 L395.2 119.5 L396.4 118.4 L397.5 117.7 L398.6 116.8 L399.7 116.5 L400.8 116.1 L402.0 115.4 L403.1 115.3 L404.2 115.3 L405.3 115.4 L406.4 116.8 L407.4 117.8 L408.6 118.8 L409.8 119.5 L411.2 120.8 L412.6 121.3 L414.1 122.2 L415.7 122.7 L417.2 122.7 L418.7 122.6 L420.1 121.7 L421.6 121.1 L423.1 119.9 L424.7 119.2 L426.4 117.8 L428.1 115.6 L429.8 113.9 L431.5 112.5 L433.1 112.1 L434.5 111.6 L435.9 112.1 L437.2 112.6 L438.4 113.5 L439.6 114.1 L440.7 114.7 L441.7 115.7 L442.7 116.5 L443.9 117.2 L445.2 117.1 L446.9 116.8 L448.8 115.9 L450.9 114.8 L452.8 113.5 L454.5 112.2 L455.8 111.9 L456.9 111.3 L457.9 110.7 L458.9 109.9 L460.1 109.3 L461.5 108.3 L462.9 108.0 L464.4 107.1 L466.0 106.4 L467.5 105.9 L469.0 106.5 L470.4 106.9 L471.9 106.8 L473.4 107.7 L475.0 107.6 L476.7 107.5 L478.4 107.6 L480.1 107.8 L481.8 107.6 L483.4 106.5 L484.8 106.2 L486.1 105.0 L487.3 104.4 L488.6 102.8 L489.9 101.5 L491.4 99.3 L492.9 96.3 L494.4 93.6 L495.9 90.1 L497.3 86.9 L498.6 84.2 L499.8 80.5 L500.9 77.3 L502.0 74.6 L502.9 72.4 L503.6 70.3 L504.1 68.8 L504.6 68.4 L505.1 67.5 L505.7 68.0 L506.5 68.9 L507.5 70.1 L508.5 72.2 L509.5 74.4 L510.4 76.2 L511.1 77.4 L511.8 78.5 L512.4 79.6 L513.1 81.0 L513.8 82.4 L514.6 84.7 L515.5 87.6 L516.4 90.3 L517.4 93.2 L518.6 96.0 L520.0 97.8 L521.6 99.8 L523.2 101.1 L524.8 102.6 L526.2 103.4 L527.3 102.8 L528.2 102.3 L529.1 101.0 L529.9 99.3 L530.9 98.6 L532.0 97.8 L533.2 97.4 L534.4 96.7 L535.6 96.1 L536.6 94.9 L537.5 92.6 L538.3 90.4 L539.0 88.3 L539.8 85.8 L540.5 82.2 L541.3 78.8 L542.1 74.9 L542.9 70.4 L543.6 66.5 L544.3 63.2 L544.9 60.5 L545.5 58.3 L546.0 56.2 L546.5 54.7 L547.1 54.0 L547.6 53.0 L548.2 53.3 L548.7 53.9 L549.3 54.4 L550.0 55.5 L550.8 57.6 L551.7 59.3 L552.7 61.7 L553.7 64.5 L554.7 67.2 L555.7 69.4 L556.7 72.2 L557.6 74.9 L558.6 78.0 L559.5 80.5 L560.3 83.7 L561.0 86.3 L561.7 89.5 L562.4 92.6 L563.3 95.0 L564.3 96.2 L565.4 97.1 L566.6 97.7 L567.8 98.7 L569.0 99.3 L570.3 100.9 L571.6 102.4 L573.0 103.3 L574.4 104.5 L575.7 105.4 L577.1 105.1 L578.5 104.5 L579.9 103.2 L581.2 102.0 L582.3 101.3 L583.2 101.0 L583.9 100.0 L584.5 99.5 L585.2 99.0 L586.1 98.4 L587.3 97.7 L588.7 97.2 L590.1 95.8 L591.5 95.1 L592.8 95.4 L593.9 95.4 L594.8 95.8 L595.7 96.0 L596.6 97.1 L597.6 97.9 L598.7 98.5 L599.7 100.3 L600.8 101.9 L602.0 103.2 L603.3 104.2 L604.7 104.8 L606.3 105.4 L607.9 105.8 L609.5 106.2 L610.9 107.2 L612.1 107.8 L613.2 109.1 L614.3 109.6 L615.4 111.3 L616.6 112.0 L618.0 113.0 L619.4 113.7 L620.9 114.5 L622.5 115.0 L624.2 115.4 L625.9 116.8 L627.7 117.3 L629.5 118.4 L631.5 119.5 L633.7 120.0 L636.3 120.3 L639.4 120.9 L642.5 120.8 L645.1 120.6 L647.0 120.6" fill="none" stroke="#d95319" stroke-width="3.0" stroke-linejoin="round" stroke-linecap="round" />
<path d="M380.0 121.1 L382.0 121.2 L384.9 121.4 L388.2 121.6 L391.7 121.7 L394.9 121.7 L397.9 121.5 L400.9 121.2 L403.8 120.7 L406.8 120.3 L409.8 119.8 L412.8 119.3 L415.9 118.8 L419.0 118.2 L422.0 117.6 L424.7 117.0 L427.2 116.3 L429.6 115.5 L431.9 114.6 L434.0 113.9 L435.9 113.3 L437.6 112.9 L439.0 112.7 L440.4 112.6 L441.8 112.5 L443.3 112.4 L445.1 112.4 L447.0 112.6 L448.9 112.7 L450.8 112.7 L452.6 112.4 L454.2 111.8 L455.7 111.0 L457.2 110.1 L458.6 109.0 L460.1 107.7 L461.6 106.2 L463.0 104.4 L464.4 102.6 L465.9 100.8 L467.5 99.3 L469.3 98.2 L471.2 97.4 L473.1 96.6 L475.0 95.8 L476.8 94.7 L478.4 93.3 L479.9 91.8 L481.4 90.1 L482.8 88.3 L484.3 86.3 L485.8 84.0 L487.3 81.5 L488.7 78.8 L490.2 76.3 L491.7 74.2 L493.2 72.5 L494.8 71.1 L496.3 69.8 L497.8 68.7 L499.2 67.7 L500.4 66.7 L501.6 65.7 L502.7 64.9 L503.7 64.3 L504.8 64.0 L505.9 64.1 L507.0 64.4 L508.0 65.0 L509.1 65.6 L510.0 66.2 L510.8 66.5 L511.4 66.7 L512.1 67.0 L512.8 67.7 L513.8 69.0 L515.1 71.3 L516.7 74.5 L518.4 77.9 L520.0 81.0 L521.4 83.3 L522.4 84.7 L523.3 85.7 L524.0 86.2 L524.9 86.2 L526.2 85.8 L528.0 84.7 L530.2 82.9 L532.6 80.8 L534.8 78.6 L536.6 76.6 L537.9 74.9 L539.0 73.2 L539.8 71.6 L540.6 69.9 L541.4 68.1 L542.2 66.0 L543.0 63.8 L543.8 61.5 L544.5 59.4 L545.2 57.6 L545.8 56.1 L546.3 54.8 L546.9 53.7 L547.4 53.0 L548.1 52.9 L548.9 53.5 L549.8 54.6 L550.8 56.1 L551.8 57.8 L552.8 59.5 L553.7 61.2 L554.7 63.0 L555.6 65.0 L556.6 67.0 L557.6 69.0 L558.7 71.1 L559.8 73.4 L561.0 75.7 L562.1 77.8 L563.3 79.5 L564.4 80.7 L565.5 81.6 L566.6 82.2 L567.8 82.7 L569.0 83.3 L570.3 83.9 L571.7 84.5 L573.1 85.1 L574.5 85.5 L575.7 85.8 L576.7 86.0 L577.5 86.1 L578.3 86.1 L579.2 85.8 L580.4 85.2 L582.0 84.1 L583.9 82.5 L586.0 80.7 L588.0 79.0 L589.9 77.6 L591.6 76.6 L593.1 75.7 L594.6 75.0 L596.1 74.6 L597.6 74.4 L599.1 74.6 L600.6 75.1 L602.0 75.8 L603.6 76.7 L605.2 77.6 L607.0 78.5 L608.9 79.4 L610.8 80.4 L612.8 81.7 L614.7 83.3 L616.6 85.4 L618.5 87.8 L620.4 90.4 L622.3 93.1 L624.2 95.7 L626.1 98.3 L628.1 100.9 L630.0 103.6 L631.9 106.0 L633.7 108.0 L635.4 109.7 L637.0 111.0 L638.5 112.1 L639.9 113.1 L641.3 113.8 L642.7 114.3 L644.0 114.6 L645.2 114.6 L646.3 114.7 L647.0 114.7" fill="none" stroke="#2d89d0" stroke-width="1.3" stroke-linejoin="round" stroke-linecap="round" />
</g>
<path d="M380.1 52.8H647.3V124.2H380.1ZM469.2 52.8v3M469.2 124.2v-3M558.2 52.8v3M558.2 124.2v-3M380.1 88.5h3M647.3 88.5h-3" fill="none" stroke="#7f7f7f" stroke-width="1.1"/>
<g shape-rendering="crispEdges"><path d="M45.3 197.6H49.8V200.6H45.3Z" fill="#0000a0"/><path d="M45.3 128.8H49.8V131.8H45.3Z" fill="#0000a5"/><path d="M307.1 128.8H311.6V131.8H307.1Z" fill="#0000aa"/><path d="M49.8 128.8H54.3V131.8H49.8ZM298.1 128.8H302.6V131.8H298.1ZM307.1 197.6H311.6V200.6H307.1Z" fill="#0000af"/><path d="M293.5 128.8H298.1V131.8H293.5ZM49.8 197.6H54.3V200.6H49.8Z" fill="#0000be"/><path d="M45.3 194.6H49.8V197.6H45.3Z" fill="#0000c8"/><path d="M302.6 128.8H307.1V131.8H302.6ZM307.1 194.6H311.6V197.6H307.1Z" fill="#0000cd"/><path d="M49.8 194.6H54.3V197.6H49.8ZM302.6 197.6H307.1V200.6H302.6Z" fill="#0000d2"/><path d="M307.1 191.6H311.6V194.6H307.1Z" fill="#0000d7"/><path d="M293.5 194.6H298.1V197.6H293.5ZM54.3 197.6H58.8V200.6H54.3Z" fill="#0000dc"/><path d="M54.3 128.8H58.8V131.8H54.3ZM302.6 131.8H307.1V134.8H302.6ZM307.1 134.8H311.6V137.8H307.1ZM307.1 140.8H311.6V143.8H307.1ZM302.6 188.6H307.1V191.6H302.6ZM293.5 197.6H302.6V200.6H293.5Z" fill="#0000e1"/><path d="M45.3 131.8H49.8V134.8H45.3ZM302.6 194.6H307.1V197.6H302.6Z" fill="#0000e6"/><path d="M45.3 134.8H49.8V137.8H45.3ZM45.3 137.8H49.8V140.8H45.3ZM45.3 185.6H49.8V188.6H45.3ZM49.8 191.6H54.3V194.6H49.8ZM302.6 191.6H307.1V194.6H302.6Z" fill="#0000eb"/><path d="M72.4 128.8H76.9V131.8H72.4ZM307.1 131.8H311.6V134.8H307.1ZM49.8 137.8H54.3V140.8H49.8ZM298.1 137.8H307.1V140.8H298.1ZM302.6 140.8H307.1V143.8H302.6ZM307.1 179.7H311.6V182.7H307.1Z" fill="#0000f0"/><path d="M63.4 128.8H67.9V131.8H63.4ZM49.8 134.8H54.3V137.8H49.8ZM45.3 146.8H49.8V149.7H45.3ZM302.6 146.8H307.1V149.7H302.6ZM307.1 158.7H311.6V161.7H307.1ZM302.6 182.7H307.1V185.6H302.6ZM307.1 188.6H311.6V191.6H307.1ZM45.3 191.6H49.8V194.6H45.3Z" fill="#0000f5"/><path d="M49.8 131.8H54.3V134.8H49.8ZM302.6 164.7H307.1V167.7H302.6ZM307.1 173.7H311.6V176.7H307.1ZM293.5 191.6H298.1V194.6H293.5ZM58.8 197.6H63.4V200.6H58.8ZM67.9 197.6H72.4V200.6H67.9ZM289.0 197.6H293.5V200.6H289.0Z" fill="#0000fa"/><path d="M58.8 128.8H63.4V131.8H58.8ZM289.0 128.8H293.5V131.8H289.0ZM293.5 131.8H302.6V134.8H293.5ZM298.1 140.8H302.6V143.8H298.1ZM307.1 143.8H311.6V146.8H307.1ZM307.1 149.7H311.6V152.7H307.1ZM45.3 152.7H49.8V155.7H45.3ZM302.6 155.7H307.1V158.7H302.6ZM302.6 176.7H307.1V179.7H302.6ZM298.1 182.7H302.6V185.6H298.1ZM54.3 194.6H58.8V197.6H54.3ZM76.9 197.6H81.4V200.6H76.9Z" fill="#0000ff"/><path d="M67.9 128.8H72.4V131.8H67.9ZM293.5 134.8H298.1V137.8H293.5ZM298.1 149.7H307.1V152.7H298.1ZM302.6 152.7H307.1V155.7H302.6ZM307.1 155.7H311.6V158.7H307.1ZM307.1 161.7H311.6V164.7H307.1ZM45.3 164.7H49.8V167.7H45.3ZM307.1 164.7H311.6V167.7H307.1ZM307.1 176.7H311.6V179.7H307.1ZM45.3 179.7H54.3V182.7H45.3ZM298.1 194.6H302.6V197.6H298.1ZM72.4 197.6H76.9V200.6H72.4Z" fill="#0005ff"/><path d="M284.5 128.8H289.0V131.8H284.5ZM298.1 134.8H302.6V137.8H298.1ZM45.3 149.7H49.8V152.7H45.3ZM49.8 155.7H54.3V158.7H49.8ZM45.3 161.7H49.8V164.7H45.3ZM307.1 167.7H311.6V170.7H307.1ZM45.3 170.7H49.8V173.7H45.3ZM45.3 176.7H49.8V179.7H45.3ZM298.1 176.7H302.6V179.7H298.1ZM302.6 179.7H307.1V182.7H302.6ZM49.8 185.6H54.3V188.6H49.8ZM307.1 185.6H311.6V188.6H307.1ZM45.3 188.6H49.8V191.6H45.3ZM298.1 191.6H302.6V194.6H298.1Z" fill="#000aff"/><path d="M58.8 131.8H63.4V134.8H58.8ZM302.6 134.8H307.1V137.8H302.6ZM49.8 143.8H54.3V146.8H49.8ZM302.6 143.8H307.1V146.8H302.6ZM298.1 161.7H302.6V164.7H298.1ZM45.3 173.7H49.8V176.7H45.3ZM298.1 185.6H302.6V188.6H298.1ZM298.1 188.6H302.6V191.6H298.1ZM63.4 197.6H67.9V200.6H63.4Z" fill="#000fff"/><path d="M307.1 137.8H311.6V140.8H307.1ZM45.3 143.8H49.8V146.8H45.3ZM293.5 143.8H298.1V146.8H293.5ZM293.5 146.8H298.1V149.7H293.5ZM307.1 152.7H311.6V155.7H307.1ZM49.8 161.7H54.3V164.7H49.8ZM49.8 188.6H54.3V191.6H49.8ZM293.5 188.6H298.1V191.6H293.5ZM54.3 191.6H58.8V194.6H54.3ZM289.0 194.6H293.5V197.6H289.0Z" fill="#0014ff"/><path d="M76.9 128.8H81.4V131.8H76.9ZM63.4 131.8H67.9V134.8H63.4ZM293.5 137.8H298.1V140.8H293.5ZM307.1 146.8H311.6V149.7H307.1ZM298.1 167.7H302.6V170.7H298.1ZM45.3 182.7H49.8V185.6H45.3ZM307.1 182.7H311.6V185.6H307.1ZM289.0 191.6H293.5V194.6H289.0ZM72.4 194.6H76.9V197.6H72.4Z" fill="#0019ff"/><path d="M289.0 131.8H293.5V134.8H289.0ZM54.3 134.8H58.8V137.8H54.3ZM45.3 140.8H49.8V143.8H45.3ZM49.8 152.7H54.3V155.7H49.8ZM45.3 155.7H49.8V158.7H45.3ZM45.3 158.7H54.3V161.7H45.3ZM302.6 158.7H307.1V161.7H302.6ZM49.8 170.7H54.3V173.7H49.8ZM293.5 170.7H302.6V173.7H293.5ZM302.6 185.6H307.1V188.6H302.6ZM58.8 194.6H63.4V197.6H58.8ZM67.9 194.6H72.4V197.6H67.9Z" fill="#001eff"/><path d="M54.3 131.8H58.8V134.8H54.3ZM58.8 137.8H63.4V140.8H58.8ZM298.1 143.8H302.6V146.8H298.1ZM54.3 146.8H58.8V149.7H54.3ZM293.5 149.7H298.1V152.7H293.5ZM293.5 152.7H298.1V155.7H293.5ZM307.1 170.7H311.6V173.7H307.1ZM49.8 173.7H54.3V176.7H49.8ZM49.8 182.7H54.3V185.6H49.8ZM280.0 197.6H289.0V200.6H280.0Z" fill="#0023ff"/><path d="M280.0 128.8H284.5V131.8H280.0ZM284.5 131.8H289.0V134.8H284.5ZM54.3 143.8H58.8V146.8H54.3ZM54.3 158.7H58.8V161.7H54.3ZM293.5 173.7H307.1V176.7H293.5ZM293.5 182.7H298.1V185.6H293.5ZM58.8 185.6H63.4V188.6H58.8Z" fill="#0028ff"/><path d="M54.3 155.7H58.8V158.7H54.3ZM54.3 161.7H58.8V164.7H54.3ZM49.8 164.7H54.3V167.7H49.8ZM298.1 164.7H302.6V167.7H298.1ZM45.3 167.7H49.8V170.7H45.3ZM54.3 185.6H58.8V188.6H54.3ZM293.5 185.6H298.1V188.6H293.5Z" fill="#002dff"/><path d="M284.5 134.8H293.5V137.8H284.5ZM49.8 140.8H54.3V143.8H49.8ZM293.5 140.8H298.1V143.8H293.5ZM49.8 149.7H54.3V152.7H49.8ZM302.6 161.7H307.1V164.7H302.6ZM302.6 167.7H307.1V170.7H302.6ZM302.6 170.7H307.1V173.7H302.6ZM54.3 188.6H58.8V191.6H54.3ZM63.4 191.6H72.4V194.6H63.4ZM63.4 194.6H67.9V197.6H63.4ZM76.9 194.6H81.4V197.6H76.9ZM284.5 194.6H289.0V197.6H284.5Z" fill="#0032ff"/><path d="M289.0 137.8H293.5V140.8H289.0ZM289.0 143.8H293.5V146.8H289.0ZM298.1 146.8H302.6V149.7H298.1ZM298.1 155.7H302.6V158.7H298.1ZM289.0 158.7H293.5V161.7H289.0ZM293.5 164.7H298.1V167.7H293.5ZM54.3 170.7H58.8V173.7H54.3ZM54.3 182.7H58.8V185.6H54.3ZM63.4 182.7H67.9V185.6H63.4ZM72.4 191.6H76.9V194.6H72.4Z" fill="#0037ff"/><path d="M117.5 128.8H122.0V131.8H117.5ZM67.9 131.8H72.4V134.8H67.9ZM63.4 143.8H67.9V146.8H63.4ZM49.8 146.8H54.3V149.7H49.8ZM54.3 149.7H63.4V152.7H54.3ZM298.1 152.7H302.6V155.7H298.1ZM298.1 158.7H302.6V161.7H298.1ZM54.3 167.7H58.8V170.7H54.3ZM289.0 170.7H293.5V173.7H289.0ZM49.8 176.7H54.3V179.7H49.8ZM293.5 176.7H298.1V179.7H293.5ZM298.1 179.7H302.6V182.7H298.1ZM63.4 185.6H67.9V188.6H63.4ZM289.0 185.6H293.5V188.6H289.0ZM58.8 191.6H63.4V194.6H58.8ZM76.9 191.6H81.4V194.6H76.9Z" fill="#003cff"/><path d="M67.9 134.8H72.4V137.8H67.9ZM54.3 137.8H58.8V140.8H54.3ZM58.8 140.8H63.4V143.8H58.8ZM58.8 152.7H63.4V155.7H58.8ZM289.0 155.7H293.5V158.7H289.0ZM293.5 158.7H298.1V161.7H293.5ZM293.5 161.7H298.1V164.7H293.5ZM49.8 167.7H54.3V170.7H49.8ZM63.4 173.7H67.9V176.7H63.4ZM289.0 176.7H293.5V179.7H289.0ZM293.5 179.7H298.1V182.7H293.5Z" fill="#0041ff"/><path d="M72.4 131.8H76.9V134.8H72.4ZM58.8 134.8H67.9V137.8H58.8ZM54.3 140.8H58.8V143.8H54.3ZM293.5 155.7H298.1V158.7H293.5ZM58.8 161.7H63.4V164.7H58.8ZM58.8 167.7H63.4V170.7H58.8ZM293.5 167.7H298.1V170.7H293.5ZM54.3 173.7H58.8V176.7H54.3ZM58.8 182.7H63.4V185.6H58.8ZM58.8 188.6H63.4V191.6H58.8ZM67.9 188.6H72.4V191.6H67.9Z" fill="#0046ff"/><path d="M76.9 131.8H81.4V134.8H76.9ZM289.0 140.8H293.5V143.8H289.0ZM63.4 170.7H67.9V173.7H63.4ZM289.0 182.7H293.5V185.6H289.0ZM67.9 185.6H72.4V188.6H67.9ZM72.4 188.6H76.9V191.6H72.4ZM81.4 194.6H85.9V197.6H81.4Z" fill="#004bff"/><path d="M122.0 128.8H126.5V131.8H122.0ZM72.4 134.8H76.9V137.8H72.4ZM67.9 140.8H72.4V143.8H67.9ZM284.5 140.8H289.0V143.8H284.5ZM63.4 146.8H67.9V149.7H63.4ZM58.8 155.7H63.4V158.7H58.8ZM67.9 164.7H72.4V167.7H67.9ZM289.0 167.7H293.5V170.7H289.0ZM289.0 179.7H293.5V182.7H289.0ZM81.4 197.6H85.9V200.6H81.4Z" fill="#0050ff"/><path d="M81.4 128.8H85.9V131.8H81.4ZM58.8 143.8H63.4V146.8H58.8ZM72.4 143.8H76.9V146.8H72.4ZM67.9 146.8H72.4V149.7H67.9ZM63.4 152.7H67.9V155.7H63.4ZM63.4 155.7H67.9V158.7H63.4ZM67.9 170.7H72.4V173.7H67.9ZM54.3 176.7H58.8V179.7H54.3ZM289.0 188.6H293.5V191.6H289.0ZM113.0 197.6H117.5V200.6H113.0Z" fill="#0055ff"/><path d="M284.5 137.8H289.0V140.8H284.5ZM54.3 152.7H58.8V155.7H54.3ZM289.0 152.7H293.5V155.7H289.0ZM67.9 158.7H72.4V161.7H67.9ZM54.3 179.7H58.8V182.7H54.3ZM284.5 188.6H289.0V191.6H284.5ZM85.9 197.6H90.4V200.6H85.9Z" fill="#005aff"/><path d="M67.9 137.8H72.4V140.8H67.9ZM76.9 143.8H81.4V146.8H76.9ZM72.4 152.7H76.9V155.7H72.4ZM67.9 155.7H72.4V158.7H67.9ZM63.4 158.7H67.9V161.7H63.4ZM72.4 158.7H76.9V161.7H72.4ZM289.0 161.7H293.5V164.7H289.0ZM54.3 164.7H58.8V167.7H54.3ZM58.8 170.7H63.4V173.7H58.8ZM58.8 173.7H63.4V176.7H58.8ZM289.0 173.7H293.5V176.7H289.0ZM67.9 176.7H76.9V179.7H67.9ZM76.9 182.7H81.4V185.6H76.9ZM76.9 185.6H81.4V188.6H76.9ZM63.4 188.6H67.9V191.6H63.4ZM76.9 188.6H81.4V191.6H76.9ZM284.5 191.6H289.0V194.6H284.5ZM275.5 197.6H280.0V200.6H275.5Z" fill="#005fff"/><path d="M275.5 128.8H280.0V131.8H275.5ZM76.9 134.8H81.4V137.8H76.9ZM63.4 137.8H67.9V140.8H63.4ZM67.9 143.8H72.4V146.8H67.9ZM289.0 146.8H293.5V149.7H289.0ZM72.4 149.7H76.9V152.7H72.4ZM58.8 158.7H63.4V161.7H58.8ZM284.5 161.7H289.0V164.7H284.5ZM63.4 164.7H67.9V167.7H63.4ZM63.4 176.7H67.9V179.7H63.4ZM284.5 176.7H289.0V179.7H284.5ZM58.8 179.7H63.4V182.7H58.8ZM284.5 179.7H289.0V182.7H284.5ZM72.4 185.6H76.9V188.6H72.4Z" fill="#0064ff"/><path d="M280.0 131.8H284.5V134.8H280.0ZM63.4 140.8H67.9V143.8H63.4ZM58.8 146.8H63.4V149.7H58.8ZM289.0 149.7H293.5V152.7H289.0ZM72.4 155.7H76.9V158.7H72.4ZM58.8 164.7H63.4V167.7H58.8ZM289.0 164.7H293.5V167.7H289.0ZM67.9 167.7H72.4V170.7H67.9ZM76.9 167.7H81.4V170.7H76.9ZM58.8 176.7H63.4V179.7H58.8ZM63.4 179.7H67.9V182.7H63.4ZM72.4 182.7H76.9V185.6H72.4ZM117.5 197.6H122.0V200.6H117.5Z" fill="#0069ff"/><path d="M113.0 128.8H117.5V131.8H113.0ZM72.4 140.8H76.9V143.8H72.4ZM284.5 146.8H289.0V149.7H284.5ZM67.9 149.7H72.4V152.7H67.9ZM284.5 164.7H289.0V167.7H284.5ZM284.5 170.7H289.0V173.7H284.5ZM284.5 173.7H289.0V176.7H284.5ZM72.4 179.7H76.9V182.7H72.4Z" fill="#006eff"/><path d="M280.0 134.8H284.5V137.8H280.0ZM280.0 137.8H284.5V140.8H280.0ZM284.5 158.7H289.0V161.7H284.5ZM76.9 170.7H81.4V173.7H76.9ZM67.9 179.7H72.4V182.7H67.9Z" fill="#0073ff"/><path d="M81.4 131.8H85.9V134.8H81.4ZM72.4 137.8H76.9V140.8H72.4ZM76.9 140.8H81.4V143.8H76.9ZM63.4 149.7H67.9V152.7H63.4ZM63.4 161.7H67.9V164.7H63.4ZM72.4 164.7H76.9V167.7H72.4ZM67.9 182.7H72.4V185.6H67.9ZM280.0 191.6H284.5V194.6H280.0ZM117.5 194.6H122.0V197.6H117.5ZM280.0 194.6H284.5V197.6H280.0Z" fill="#0078ff"/><path d="M108.5 128.8H113.0V131.8H108.5ZM117.5 131.8H122.0V134.8H117.5ZM81.4 134.8H85.9V137.8H81.4ZM76.9 137.8H85.9V140.8H76.9ZM280.0 140.8H284.5V143.8H280.0ZM284.5 143.8H289.0V146.8H284.5ZM67.9 152.7H72.4V155.7H67.9ZM76.9 152.7H81.4V155.7H76.9ZM76.9 155.7H81.4V158.7H76.9ZM63.4 167.7H67.9V170.7H63.4ZM284.5 185.6H289.0V188.6H284.5ZM122.0 194.6H126.5V197.6H122.0ZM108.5 197.6H113.0V200.6H108.5Z" fill="#007dff"/><path d="M85.9 128.8H90.4V131.8H85.9ZM126.5 128.8H131.1V131.8H126.5ZM67.9 161.7H72.4V164.7H67.9ZM67.9 173.7H72.4V176.7H67.9ZM76.9 173.7H81.4V176.7H76.9Z" fill="#0082ff"/><path d="M76.9 149.7H81.4V152.7H76.9ZM76.9 158.7H81.4V161.7H76.9ZM81.4 182.7H85.9V185.6H81.4ZM284.5 182.7H289.0V185.6H284.5ZM122.0 197.6H126.5V200.6H122.0Z" fill="#0087ff"/><path d="M72.4 146.8H76.9V149.7H72.4ZM72.4 161.7H76.9V164.7H72.4ZM76.9 164.7H81.4V167.7H76.9ZM284.5 167.7H289.0V170.7H284.5ZM72.4 173.7H76.9V176.7H72.4ZM76.9 179.7H81.4V182.7H76.9ZM275.5 194.6H280.0V197.6H275.5Z" fill="#008cff"/><path d="M122.0 131.8H126.5V134.8H122.0ZM284.5 149.7H289.0V152.7H284.5ZM284.5 155.7H289.0V158.7H284.5ZM81.4 176.7H85.9V179.7H81.4ZM280.0 176.7H284.5V179.7H280.0ZM81.4 191.6H85.9V194.6H81.4Z" fill="#0091ff"/><path d="M81.4 140.8H85.9V143.8H81.4ZM81.4 149.7H85.9V152.7H81.4ZM284.5 152.7H289.0V155.7H284.5ZM81.4 161.7H85.9V164.7H81.4ZM72.4 167.7H76.9V170.7H72.4ZM72.4 170.7H76.9V173.7H72.4ZM280.0 188.6H284.5V191.6H280.0ZM85.9 194.6H90.4V197.6H85.9ZM126.5 197.6H131.1V200.6H126.5ZM271.0 197.6H275.5V200.6H271.0Z" fill="#0096ff"/><path d="M131.1 128.8H135.6V131.8H131.1ZM113.0 131.8H117.5V134.8H113.0ZM76.9 146.8H81.4V149.7H76.9ZM280.0 167.7H284.5V170.7H280.0ZM76.9 176.7H81.4V179.7H76.9ZM280.0 182.7H284.5V185.6H280.0Z" fill="#009bff"/><path d="M271.0 128.8H275.5V131.8H271.0ZM126.5 131.8H131.1V134.8H126.5ZM280.0 143.8H284.5V146.8H280.0ZM280.0 155.7H284.5V158.7H280.0ZM81.4 158.7H85.9V161.7H81.4ZM76.9 161.7H81.4V164.7H76.9ZM81.4 173.7H85.9V176.7H81.4ZM81.4 185.6H85.9V188.6H81.4ZM81.4 188.6H85.9V191.6H81.4ZM131.1 197.6H135.6V200.6H131.1Z" fill="#00a0ff"/><path d="M85.9 131.8H90.4V134.8H85.9ZM122.0 134.8H126.5V137.8H122.0ZM117.5 137.8H122.0V140.8H117.5ZM122.0 191.6H126.5V194.6H122.0Z" fill="#00a5ff"/><path d="M113.0 134.8H117.5V137.8H113.0ZM81.4 143.8H85.9V146.8H81.4ZM280.0 152.7H284.5V155.7H280.0ZM117.5 185.6H122.0V188.6H117.5ZM275.5 188.6H280.0V191.6H275.5ZM113.0 191.6H117.5V194.6H113.0ZM113.0 194.6H117.5V197.6H113.0ZM266.5 197.6H271.0V200.6H266.5Z" fill="#00aaff"/><path d="M280.0 146.8H284.5V149.7H280.0ZM81.4 152.7H85.9V155.7H81.4ZM280.0 158.7H284.5V161.7H280.0ZM122.0 188.6H126.5V191.6H122.0ZM275.5 191.6H280.0V194.6H275.5Z" fill="#00afff"/><path d="M275.5 131.8H280.0V134.8H275.5ZM81.4 146.8H85.9V149.7H81.4ZM280.0 149.7H284.5V152.7H280.0ZM81.4 167.7H85.9V170.7H81.4ZM280.0 185.6H284.5V188.6H280.0ZM85.9 191.6H90.4V194.6H85.9ZM126.5 194.6H131.1V197.6H126.5Z" fill="#00b4ff"/><path d="M90.4 128.8H94.9V131.8H90.4ZM108.5 131.8H113.0V134.8H108.5ZM85.9 134.8H90.4V137.8H85.9ZM117.5 134.8H122.0V137.8H117.5ZM85.9 137.8H90.4V140.8H85.9ZM280.0 161.7H284.5V164.7H280.0ZM81.4 179.7H85.9V182.7H81.4ZM280.0 179.7H284.5V182.7H280.0ZM117.5 182.7H122.0V185.6H117.5ZM104.0 197.6H108.5V200.6H104.0Z" fill="#00b9ff"/><path d="M94.9 128.8H99.5V131.8H94.9ZM122.0 143.8H126.5V146.8H122.0ZM117.5 188.6H122.0V191.6H117.5ZM117.5 191.6H122.0V194.6H117.5ZM90.4 197.6H94.9V200.6H90.4Z" fill="#00beff"/><path d="M266.5 128.8H271.0V131.8H266.5ZM131.1 131.8H135.6V134.8H131.1ZM113.0 140.8H117.5V143.8H113.0ZM113.0 146.8H117.5V149.7H113.0ZM117.5 155.7H122.0V158.7H117.5ZM81.4 164.7H85.9V167.7H81.4ZM81.4 170.7H85.9V173.7H81.4ZM280.0 173.7H284.5V176.7H280.0ZM122.0 179.7H126.5V182.7H122.0ZM113.0 185.6H117.5V188.6H113.0ZM113.0 188.6H117.5V191.6H113.0ZM90.4 194.6H94.9V197.6H90.4Z" fill="#00c3ff"/><path d="M275.5 137.8H280.0V140.8H275.5ZM85.9 140.8H90.4V143.8H85.9ZM117.5 161.7H122.0V164.7H117.5ZM280.0 164.7H284.5V167.7H280.0ZM113.0 170.7H122.0V173.7H113.0ZM280.0 170.7H284.5V173.7H280.0ZM117.5 173.7H122.0V176.7H117.5Z" fill="#00c8ff"/><path d="M275.5 134.8H280.0V137.8H275.5ZM113.0 137.8H117.5V140.8H113.0ZM275.5 146.8H280.0V149.7H275.5ZM113.0 152.7H117.5V155.7H113.0ZM81.4 155.7H85.9V158.7H81.4ZM117.5 179.7H122.0V182.7H117.5ZM113.0 182.7H117.5V185.6H113.0ZM275.5 185.6H280.0V188.6H275.5Z" fill="#00cdff"/><path d="M271.0 131.8H275.5V134.8H271.0ZM122.0 137.8H126.5V140.8H122.0ZM117.5 140.8H126.5V143.8H117.5ZM117.5 152.7H122.0V155.7H117.5ZM113.0 164.7H117.5V167.7H113.0ZM85.9 170.7H90.4V173.7H85.9ZM113.0 179.7H117.5V182.7H113.0ZM122.0 185.6H126.5V188.6H122.0ZM126.5 191.6H131.1V194.6H126.5Z" fill="#00d2ff"/><path d="M122.0 161.7H126.5V164.7H122.0ZM117.5 176.7H122.0V179.7H117.5ZM85.9 185.6H90.4V188.6H85.9ZM108.5 191.6H113.0V194.6H108.5ZM99.5 197.6H104.0V200.6H99.5ZM262.0 197.6H266.5V200.6H262.0Z" fill="#00d7ff"/><path d="M275.5 158.7H280.0V161.7H275.5ZM85.9 161.7H90.4V164.7H85.9ZM85.9 164.7H90.4V167.7H85.9ZM108.5 194.6H113.0V197.6H108.5Z" fill="#00dcff"/><path d="M104.0 128.8H108.5V131.8H104.0ZM135.6 128.8H140.1V131.8H135.6ZM126.5 140.8H131.1V143.8H126.5ZM117.5 146.8H122.0V149.7H117.5ZM85.9 149.7H90.4V152.7H85.9ZM113.0 149.7H117.5V152.7H113.0ZM122.0 155.7H126.5V158.7H122.0ZM85.9 167.7H90.4V170.7H85.9ZM275.5 170.7H280.0V173.7H275.5ZM122.0 173.7H126.5V176.7H122.0ZM122.0 176.7H126.5V179.7H122.0ZM275.5 176.7H280.0V179.7H275.5ZM85.9 188.6H90.4V191.6H85.9ZM271.0 194.6H275.5V197.6H271.0ZM135.6 197.6H140.1V200.6H135.6ZM257.4 197.6H262.0V200.6H257.4Z" fill="#00e1ff"/><path d="M262.0 128.8H266.5V131.8H262.0ZM266.5 131.8H271.0V134.8H266.5ZM108.5 134.8H113.0V137.8H108.5ZM271.0 134.8H275.5V137.8H271.0ZM117.5 143.8H122.0V146.8H117.5ZM126.5 143.8H131.1V146.8H126.5ZM122.0 146.8H126.5V149.7H122.0ZM117.5 149.7H126.5V152.7H117.5ZM275.5 173.7H280.0V176.7H275.5ZM85.9 182.7H90.4V185.6H85.9ZM94.9 197.6H99.5V200.6H94.9Z" fill="#00e6ff"/><path d="M108.5 137.8H113.0V140.8H108.5ZM275.5 140.8H280.0V143.8H275.5ZM275.5 143.8H280.0V146.8H275.5ZM85.9 155.7H90.4V158.7H85.9ZM113.0 158.7H117.5V161.7H113.0ZM275.5 161.7H280.0V164.7H275.5ZM117.5 164.7H122.0V167.7H117.5ZM117.5 167.7H122.0V170.7H117.5ZM113.0 173.7H117.5V176.7H113.0ZM126.5 182.7H131.1V185.6H126.5ZM271.0 191.6H275.5V194.6H271.0Z" fill="#00ebff"/><path d="M248.4 128.8H252.9V131.8H248.4ZM262.0 131.8H266.5V134.8H262.0ZM131.1 134.8H135.6V137.8H131.1ZM85.9 143.8H90.4V146.8H85.9ZM113.0 143.8H117.5V146.8H113.0ZM275.5 149.7H280.0V152.7H275.5ZM117.5 158.7H122.0V161.7H117.5ZM85.9 173.7H90.4V176.7H85.9ZM275.5 179.7H280.0V182.7H275.5ZM122.0 182.7H126.5V185.6H122.0ZM126.5 188.6H131.1V191.6H126.5ZM90.4 191.6H94.9V194.6H90.4Z" fill="#00f0ff"/><path d="M243.9 128.8H248.4V131.8H243.9ZM126.5 134.8H131.1V137.8H126.5ZM126.5 146.8H131.1V149.7H126.5ZM113.0 167.7H117.5V170.7H113.0ZM122.0 170.7H126.5V173.7H122.0ZM113.0 176.7H117.5V179.7H113.0ZM85.9 179.7H90.4V182.7H85.9ZM126.5 185.6H131.1V188.6H126.5ZM131.1 194.6H135.6V197.6H131.1Z" fill="#00f5ff"/><path d="M99.5 128.8H104.0V131.8H99.5ZM90.4 131.8H94.9V134.8H90.4ZM108.5 140.8H113.0V143.8H108.5ZM85.9 152.7H90.4V155.7H85.9ZM122.0 152.7H131.1V155.7H122.0ZM126.5 158.7H131.1V161.7H126.5ZM122.0 167.7H126.5V170.7H122.0ZM126.5 176.7H131.1V179.7H126.5ZM275.5 182.7H280.0V185.6H275.5ZM131.1 188.6H135.6V191.6H131.1Z" fill="#00faff"/><path d="M257.4 128.8H262.0V131.8H257.4ZM108.5 143.8H113.0V146.8H108.5ZM85.9 146.8H90.4V149.7H85.9ZM275.5 152.7H280.0V155.7H275.5ZM113.0 155.7H117.5V158.7H113.0ZM113.0 161.7H117.5V164.7H113.0ZM122.0 164.7H126.5V167.7H122.0ZM275.5 167.7H280.0V170.7H275.5ZM126.5 173.7H131.1V176.7H126.5ZM271.0 179.7H275.5V182.7H271.0ZM108.5 185.6H113.0V188.6H108.5ZM131.1 191.6H135.6V194.6H131.1ZM266.5 194.6H271.0V197.6H266.5ZM140.1 197.6H144.6V200.6H140.1Z" fill="#00ffff"/><path d="M252.9 128.8H257.4V131.8H252.9ZM94.9 131.8H99.5V134.8H94.9ZM126.5 137.8H131.1V140.8H126.5ZM108.5 152.7H113.0V155.7H108.5ZM85.9 158.7H90.4V161.7H85.9ZM122.0 158.7H126.5V161.7H122.0ZM275.5 164.7H280.0V167.7H275.5ZM126.5 167.7H131.1V170.7H126.5ZM85.9 176.7H90.4V179.7H85.9ZM126.5 179.7H131.1V182.7H126.5ZM271.0 188.6H275.5V191.6H271.0ZM252.9 197.6H257.4V200.6H252.9Z" fill="#05fffa"/><path d="M104.0 134.8H108.5V137.8H104.0ZM271.0 137.8H275.5V140.8H271.0ZM271.0 152.7H275.5V155.7H271.0ZM275.5 155.7H280.0V158.7H275.5ZM108.5 188.6H113.0V191.6H108.5ZM248.4 197.6H252.9V200.6H248.4Z" fill="#0afff5"/><path d="M140.1 128.8H144.6V131.8H140.1ZM252.9 131.8H262.0V134.8H252.9ZM266.5 134.8H271.0V137.8H266.5ZM131.1 137.8H135.6V140.8H131.1ZM271.0 140.8H275.5V143.8H271.0ZM271.0 146.8H275.5V149.7H271.0ZM108.5 167.7H113.0V170.7H108.5ZM271.0 167.7H275.5V170.7H271.0ZM90.4 182.7H94.9V185.6H90.4ZM90.4 188.6H94.9V191.6H90.4ZM104.0 194.6H108.5V197.6H104.0ZM243.9 197.6H248.4V200.6H243.9Z" fill="#0ffff0"/><path d="M234.9 128.8H243.9V131.8H234.9ZM135.6 131.8H140.1V134.8H135.6ZM271.0 143.8H275.5V146.8H271.0ZM108.5 149.7H113.0V152.7H108.5ZM108.5 176.7H113.0V179.7H108.5ZM271.0 176.7H275.5V179.7H271.0ZM271.0 182.7H275.5V185.6H271.0ZM266.5 188.6H271.0V191.6H266.5Z" fill="#14ffeb"/><path d="M104.0 131.8H108.5V134.8H104.0ZM90.4 140.8H94.9V143.8H90.4ZM108.5 146.8H113.0V149.7H108.5ZM126.5 155.7H131.1V158.7H126.5ZM108.5 182.7H113.0V185.6H108.5ZM94.9 191.6H99.5V194.6H94.9ZM266.5 191.6H271.0V194.6H266.5ZM99.5 194.6H104.0V197.6H99.5ZM248.4 194.6H252.9V197.6H248.4ZM262.0 194.6H266.5V197.6H262.0Z" fill="#19ffe6"/><path d="M90.4 134.8H94.9V137.8H90.4ZM90.4 146.8H94.9V149.7H90.4ZM126.5 164.7H131.1V167.7H126.5ZM131.1 185.6H135.6V188.6H131.1ZM94.9 194.6H99.5V197.6H94.9ZM135.6 194.6H140.1V197.6H135.6Z" fill="#1effe1"/><path d="M99.5 131.8H104.0V134.8H99.5ZM135.6 134.8H140.1V137.8H135.6ZM104.0 137.8H108.5V140.8H104.0ZM266.5 137.8H271.0V140.8H266.5ZM126.5 149.7H131.1V152.7H126.5ZM271.0 155.7H275.5V158.7H271.0ZM90.4 161.7H94.9V164.7H90.4ZM108.5 161.7H113.0V164.7H108.5ZM90.4 167.7H94.9V170.7H90.4ZM108.5 170.7H113.0V173.7H108.5ZM126.5 170.7H131.1V173.7H126.5ZM271.0 170.7H275.5V173.7H271.0ZM271.0 173.7H275.5V176.7H271.0ZM131.1 176.7H135.6V179.7H131.1ZM271.0 185.6H275.5V188.6H271.0ZM257.4 194.6H262.0V197.6H257.4Z" fill="#23ffdc"/><path d="M144.6 128.8H149.1V131.8H144.6ZM131.1 146.8H135.6V149.7H131.1ZM271.0 149.7H275.5V152.7H271.0ZM131.1 161.7H135.6V164.7H131.1ZM108.5 179.7H113.0V182.7H108.5Z" fill="#28ffd7"/><path d="M140.1 131.8H144.6V134.8H140.1ZM90.4 143.8H94.9V146.8H90.4ZM131.1 152.7H135.6V155.7H131.1ZM90.4 158.7H94.9V161.7H90.4ZM271.0 158.7H275.5V161.7H271.0ZM126.5 161.7H131.1V164.7H126.5ZM271.0 164.7H275.5V167.7H271.0ZM131.1 182.7H135.6V185.6H131.1ZM266.5 185.6H271.0V188.6H266.5ZM135.6 191.6H140.1V194.6H135.6Z" fill="#2dffd2"/><path d="M248.4 131.8H252.9V134.8H248.4ZM252.9 134.8H257.4V137.8H252.9ZM90.4 137.8H94.9V140.8H90.4ZM135.6 137.8H140.1V140.8H135.6ZM262.0 137.8H266.5V140.8H262.0ZM266.5 140.8H271.0V143.8H266.5ZM131.1 149.7H135.6V152.7H131.1ZM108.5 173.7H113.0V176.7H108.5ZM104.0 182.7H108.5V185.6H104.0ZM90.4 185.6H94.9V188.6H90.4ZM262.0 185.6H266.5V188.6H262.0ZM194.2 197.6H198.8V200.6H194.2ZM239.4 197.6H243.9V200.6H239.4Z" fill="#32ffcd"/><path d="M131.1 140.8H135.6V143.8H131.1ZM262.0 140.8H266.5V143.8H262.0ZM104.0 143.8H108.5V146.8H104.0ZM108.5 155.7H113.0V158.7H108.5ZM108.5 158.7H113.0V161.7H108.5ZM131.1 158.7H135.6V161.7H131.1ZM108.5 164.7H113.0V167.7H108.5ZM266.5 170.7H271.0V173.7H266.5ZM266.5 182.7H271.0V185.6H266.5ZM262.0 188.6H266.5V191.6H262.0ZM104.0 191.6H108.5V194.6H104.0ZM257.4 191.6H262.0V194.6H257.4ZM140.1 194.6H144.6V197.6H140.1ZM252.9 194.6H257.4V197.6H252.9Z" fill="#37ffc8"/><path d="M243.9 131.8H248.4V134.8H243.9ZM262.0 134.8H266.5V137.8H262.0ZM94.9 137.8H99.5V140.8H94.9ZM104.0 140.8H108.5V143.8H104.0ZM90.4 149.7H94.9V152.7H90.4ZM90.4 155.7H94.9V158.7H90.4ZM90.4 164.7H94.9V167.7H90.4ZM90.4 173.7H94.9V176.7H90.4ZM135.6 188.6H140.1V191.6H135.6ZM243.9 194.6H248.4V197.6H243.9ZM234.9 197.6H239.4V200.6H234.9Z" fill="#3cffc3"/><path d="M131.1 143.8H135.6V146.8H131.1ZM266.5 173.7H271.0V176.7H266.5ZM131.1 179.7H135.6V182.7H131.1ZM104.0 185.6H108.5V188.6H104.0ZM262.0 191.6H266.5V194.6H262.0Z" fill="#41ffbe"/><path d="M266.5 146.8H271.0V149.7H266.5ZM104.0 149.7H108.5V152.7H104.0ZM131.1 155.7H135.6V158.7H131.1ZM271.0 161.7H275.5V164.7H271.0ZM104.0 164.7H108.5V167.7H104.0ZM131.1 164.7H135.6V167.7H131.1ZM90.4 170.7H94.9V173.7H90.4ZM94.9 185.6H99.5V188.6H94.9ZM104.0 188.6H108.5V191.6H104.0ZM99.5 191.6H104.0V194.6H99.5ZM144.6 197.6H149.1V200.6H144.6Z" fill="#46ffb9"/><path d="M194.2 128.8H198.8V131.8H194.2ZM94.9 134.8H104.0V137.8H94.9ZM248.4 134.8H252.9V137.8H248.4ZM135.6 140.8H140.1V143.8H135.6ZM104.0 146.8H108.5V149.7H104.0ZM266.5 161.7H271.0V164.7H266.5ZM262.0 176.7H266.5V179.7H262.0ZM90.4 179.7H94.9V182.7H90.4ZM135.6 179.7H140.1V182.7H135.6ZM257.4 185.6H262.0V188.6H257.4ZM94.9 188.6H99.5V191.6H94.9Z" fill="#4bffb4"/><path d="M140.1 137.8H144.6V140.8H140.1ZM99.5 140.8H104.0V143.8H99.5ZM266.5 143.8H271.0V146.8H266.5ZM135.6 146.8H140.1V149.7H135.6ZM135.6 149.7H140.1V152.7H135.6ZM90.4 152.7H94.9V155.7H90.4ZM266.5 152.7H271.0V155.7H266.5ZM104.0 155.7H108.5V158.7H104.0ZM262.0 170.7H266.5V173.7H262.0ZM99.5 185.6H104.0V188.6H99.5ZM252.9 188.6H257.4V191.6H252.9ZM140.1 191.6H144.6V194.6H140.1ZM198.8 197.6H203.3V200.6H198.8Z" fill="#50ffaf"/><path d="M230.4 128.8H234.9V131.8H230.4ZM234.9 131.8H239.4V134.8H234.9ZM257.4 137.8H262.0V140.8H257.4ZM257.4 140.8H262.0V143.8H257.4ZM135.6 143.8H140.1V146.8H135.6ZM135.6 155.7H140.1V158.7H135.6ZM266.5 164.7H271.0V167.7H266.5ZM131.1 167.7H135.6V170.7H131.1ZM266.5 167.7H271.0V170.7H266.5ZM104.0 170.7H108.5V173.7H104.0ZM131.1 170.7H135.6V173.7H131.1ZM90.4 176.7H94.9V179.7H90.4ZM140.1 188.6H144.6V191.6H140.1ZM230.4 197.6H234.9V200.6H230.4Z" fill="#55ffaa"/><path d="M94.9 143.8H99.5V146.8H94.9ZM104.0 152.7H108.5V155.7H104.0ZM262.0 152.7H266.5V155.7H262.0ZM266.5 155.7H271.0V158.7H266.5ZM94.9 158.7H99.5V161.7H94.9ZM135.6 158.7H140.1V161.7H135.6ZM94.9 161.7H99.5V164.7H94.9ZM94.9 170.7H99.5V173.7H94.9ZM131.1 173.7H140.1V176.7H131.1ZM266.5 179.7H271.0V182.7H266.5ZM262.0 182.7H266.5V185.6H262.0ZM252.9 191.6H257.4V194.6H252.9Z" fill="#5affa5"/><path d="M257.4 134.8H262.0V137.8H257.4ZM94.9 140.8H99.5V143.8H94.9ZM99.5 149.7H104.0V152.7H99.5ZM262.0 155.7H266.5V158.7H262.0ZM104.0 158.7H108.5V161.7H104.0ZM262.0 158.7H266.5V161.7H262.0ZM104.0 161.7H108.5V164.7H104.0ZM262.0 161.7H266.5V164.7H262.0ZM104.0 167.7H108.5V170.7H104.0ZM262.0 167.7H266.5V170.7H262.0ZM135.6 185.6H140.1V188.6H135.6ZM243.9 191.6H248.4V194.6H243.9ZM144.6 194.6H149.1V197.6H144.6ZM234.9 194.6H239.4V197.6H234.9Z" fill="#5fffa0"/><path d="M99.5 137.8H104.0V140.8H99.5ZM248.4 137.8H257.4V140.8H248.4ZM262.0 146.8H266.5V149.7H262.0ZM94.9 152.7H99.5V155.7H94.9ZM94.9 155.7H99.5V158.7H94.9ZM135.6 164.7H140.1V167.7H135.6ZM94.9 173.7H104.0V176.7H94.9ZM104.0 176.7H108.5V179.7H104.0ZM266.5 176.7H271.0V179.7H266.5ZM252.9 182.7H257.4V185.6H252.9ZM140.1 185.6H144.6V188.6H140.1ZM99.5 188.6H104.0V191.6H99.5Z" fill="#64ff9b"/><path d="M252.9 140.8H257.4V143.8H252.9ZM266.5 149.7H271.0V152.7H266.5ZM99.5 155.7H104.0V158.7H99.5ZM262.0 179.7H266.5V182.7H262.0ZM248.4 185.6H252.9V188.6H248.4ZM239.4 194.6H243.9V197.6H239.4ZM189.7 197.6H194.2V200.6H189.7Z" fill="#69ff96"/><path d="M198.8 128.8H203.3V131.8H198.8ZM194.2 131.8H198.8V134.8H194.2ZM239.4 131.8H243.9V134.8H239.4ZM266.5 158.7H271.0V161.7H266.5ZM135.6 170.7H140.1V173.7H135.6ZM104.0 173.7H108.5V176.7H104.0ZM257.4 173.7H262.0V176.7H257.4ZM135.6 176.7H140.1V179.7H135.6ZM257.4 176.7H262.0V179.7H257.4ZM104.0 179.7H108.5V182.7H104.0ZM140.1 182.7H144.6V185.6H140.1ZM194.2 194.6H198.8V197.6H194.2Z" fill="#6eff91"/><path d="M144.6 131.8H149.1V134.8H144.6ZM140.1 134.8H144.6V137.8H140.1ZM234.9 134.8H239.4V137.8H234.9ZM243.9 137.8H248.4V140.8H243.9ZM257.4 143.8H262.0V146.8H257.4ZM94.9 149.7H99.5V152.7H94.9ZM262.0 149.7H266.5V152.7H262.0ZM257.4 164.7H262.0V167.7H257.4ZM94.9 167.7H99.5V170.7H94.9ZM99.5 170.7H104.0V173.7H99.5ZM262.0 173.7H266.5V176.7H262.0ZM94.9 182.7H99.5V185.6H94.9ZM135.6 182.7H140.1V185.6H135.6ZM257.4 188.6H262.0V191.6H257.4Z" fill="#73ff8c"/><path d="M149.1 128.8H153.6V131.8H149.1ZM189.7 128.8H194.2V131.8H189.7ZM99.5 143.8H104.0V146.8H99.5ZM262.0 143.8H266.5V146.8H262.0ZM99.5 146.8H104.0V149.7H99.5ZM257.4 149.7H262.0V152.7H257.4ZM135.6 152.7H140.1V155.7H135.6ZM94.9 179.7H99.5V182.7H94.9ZM257.4 179.7H262.0V182.7H257.4ZM99.5 182.7H104.0V185.6H99.5ZM257.4 182.7H262.0V185.6H257.4ZM248.4 191.6H252.9V194.6H248.4Z" fill="#78ff87"/><path d="M252.9 143.8H257.4V146.8H252.9ZM94.9 146.8H99.5V149.7H94.9ZM248.4 146.8H257.4V149.7H248.4ZM257.4 155.7H262.0V158.7H257.4ZM257.4 158.7H262.0V161.7H257.4ZM94.9 164.7H99.5V167.7H94.9ZM252.9 164.7H257.4V167.7H252.9ZM262.0 164.7H266.5V167.7H262.0ZM135.6 167.7H140.1V170.7H135.6ZM252.9 167.7H257.4V170.7H252.9ZM239.4 191.6H243.9V194.6H239.4Z" fill="#7dff82"/><path d="M140.1 155.7H144.6V158.7H140.1ZM257.4 170.7H262.0V173.7H257.4ZM140.1 176.7H144.6V179.7H140.1ZM99.5 179.7H104.0V182.7H99.5ZM239.4 188.6H243.9V191.6H239.4ZM234.9 191.6H239.4V194.6H234.9Z" fill="#82ff7d"/><path d="M140.1 149.7H144.6V152.7H140.1ZM99.5 161.7H104.0V164.7H99.5ZM135.6 161.7H140.1V164.7H135.6ZM248.4 167.7H252.9V170.7H248.4ZM94.9 176.7H104.0V179.7H94.9ZM248.4 188.6H252.9V191.6H248.4ZM230.4 194.6H234.9V197.6H230.4ZM149.1 197.6H153.6V200.6H149.1Z" fill="#87ff78"/><path d="M243.9 134.8H248.4V137.8H243.9ZM252.9 152.7H257.4V155.7H252.9ZM257.4 161.7H262.0V164.7H257.4ZM99.5 164.7H104.0V167.7H99.5ZM243.9 179.7H248.4V182.7H243.9ZM243.9 188.6H248.4V191.6H243.9Z" fill="#8cff73"/><path d="M230.4 131.8H234.9V134.8H230.4ZM239.4 134.8H243.9V137.8H239.4ZM140.1 140.8H144.6V143.8H140.1ZM140.1 146.8H144.6V149.7H140.1ZM257.4 146.8H262.0V149.7H257.4ZM140.1 173.7H144.6V176.7H140.1ZM243.9 185.6H248.4V188.6H243.9ZM252.9 185.6H257.4V188.6H252.9Z" fill="#91ff6e"/><path d="M225.8 128.8H230.4V131.8H225.8ZM144.6 134.8H149.1V137.8H144.6ZM248.4 140.8H252.9V143.8H248.4ZM243.9 143.8H248.4V146.8H243.9ZM243.9 149.7H248.4V152.7H243.9ZM252.9 149.7H257.4V152.7H252.9ZM99.5 152.7H104.0V155.7H99.5ZM257.4 152.7H262.0V155.7H257.4ZM99.5 158.7H104.0V161.7H99.5ZM252.9 158.7H257.4V161.7H252.9ZM140.1 161.7H144.6V164.7H140.1ZM140.1 164.7H144.6V167.7H140.1ZM257.4 167.7H262.0V170.7H257.4ZM248.4 170.7H257.4V173.7H248.4ZM140.1 179.7H144.6V182.7H140.1Z" fill="#96ff69"/><path d="M140.1 143.8H144.6V146.8H140.1ZM99.5 167.7H104.0V170.7H99.5ZM140.1 167.7H144.6V170.7H140.1Z" fill="#9bff64"/><path d="M171.7 164.7H176.2V167.7H171.7Z" fill="#a00000"/><path d="M234.9 137.8H239.4V140.8H234.9ZM248.4 152.7H252.9V155.7H248.4ZM252.9 155.7H257.4V158.7H252.9ZM248.4 158.7H252.9V161.7H248.4ZM252.9 173.7H257.4V176.7H252.9ZM248.4 176.7H252.9V179.7H248.4ZM243.9 182.7H248.4V185.6H243.9Z" fill="#a0ff5f"/><path d="M167.2 158.7H171.7V161.7H167.2ZM167.2 164.7H171.7V167.7H167.2ZM167.2 170.7H171.7V173.7H167.2Z" fill="#a50000"/><path d="M144.6 137.8H149.1V140.8H144.6ZM243.9 140.8H248.4V143.8H243.9ZM248.4 161.7H257.4V164.7H248.4ZM248.4 164.7H252.9V167.7H248.4ZM248.4 173.7H252.9V176.7H248.4ZM252.9 179.7H257.4V182.7H252.9Z" fill="#a5ff5a"/><path d="M234.9 140.8H239.4V143.8H234.9ZM248.4 143.8H252.9V146.8H248.4ZM140.1 170.7H144.6V173.7H140.1ZM239.4 176.7H243.9V179.7H239.4ZM252.9 176.7H257.4V179.7H252.9ZM239.4 179.7H243.9V182.7H239.4ZM248.4 182.7H252.9V185.6H248.4ZM144.6 185.6H149.1V188.6H144.6ZM239.4 185.6H243.9V188.6H239.4ZM144.6 191.6H149.1V194.6H144.6Z" fill="#aaff55"/><path d="M171.7 155.7H176.2V158.7H171.7ZM176.2 164.7H180.7V167.7H176.2ZM171.7 167.7H176.2V170.7H171.7ZM167.2 176.7H171.7V179.7H167.2Z" fill="#af0000"/><path d="M194.2 137.8H198.8V140.8H194.2ZM239.4 137.8H243.9V140.8H239.4ZM140.1 152.7H144.6V155.7H140.1ZM248.4 179.7H252.9V182.7H248.4ZM194.2 191.6H198.8V194.6H194.2ZM189.7 194.6H194.2V197.6H189.7Z" fill="#afff50"/><path d="M176.2 155.7H180.7V158.7H176.2ZM171.7 158.7H176.2V161.7H171.7ZM212.3 158.7H216.8V161.7H212.3ZM171.7 161.7H176.2V164.7H171.7ZM212.3 161.7H216.8V164.7H212.3ZM162.7 164.7H167.2V167.7H162.7ZM167.2 167.7H171.7V170.7H167.2ZM212.3 170.7H216.8V173.7H212.3ZM167.2 173.7H171.7V176.7H167.2Z" fill="#b40000"/><path d="M189.7 131.8H194.2V134.8H189.7ZM239.4 140.8H243.9V143.8H239.4ZM243.9 146.8H248.4V149.7H243.9ZM248.4 149.7H252.9V152.7H248.4ZM243.9 152.7H248.4V155.7H243.9ZM243.9 155.7H248.4V158.7H243.9ZM243.9 167.7H248.4V170.7H243.9ZM239.4 173.7H243.9V176.7H239.4ZM243.9 176.7H248.4V179.7H243.9ZM225.8 197.6H230.4V200.6H225.8Z" fill="#b4ff4b"/><path d="M171.7 149.7H176.2V152.7H171.7ZM176.2 158.7H180.7V161.7H176.2ZM162.7 167.7H167.2V170.7H162.7ZM176.2 167.7H180.7V170.7H176.2Z" fill="#b90000"/><path d="M144.6 149.7H149.1V152.7H144.6ZM239.4 155.7H243.9V158.7H239.4ZM248.4 155.7H252.9V158.7H248.4ZM140.1 158.7H144.6V161.7H140.1ZM234.9 188.6H239.4V191.6H234.9ZM198.8 194.6H203.3V197.6H198.8Z" fill="#b9ff46"/><path d="M212.3 152.7H216.8V155.7H212.3ZM162.7 158.7H167.2V161.7H162.7ZM176.2 170.7H180.7V173.7H176.2Z" fill="#be0000"/><path d="M198.8 131.8H203.3V134.8H198.8ZM144.6 140.8H149.1V143.8H144.6ZM243.9 161.7H248.4V164.7H243.9Z" fill="#beff41"/><path d="M212.3 146.8H216.8V149.7H212.3ZM167.2 149.7H171.7V152.7H167.2ZM212.3 164.7H216.8V167.7H212.3ZM216.8 167.7H221.3V170.7H216.8ZM171.7 179.7H176.2V182.7H171.7Z" fill="#c30000"/><path d="M194.2 140.8H198.8V143.8H194.2ZM144.6 146.8H149.1V149.7H144.6ZM239.4 152.7H243.9V155.7H239.4ZM239.4 164.7H248.4V167.7H239.4ZM234.9 170.7H243.9V173.7H234.9ZM144.6 188.6H149.1V191.6H144.6ZM203.3 197.6H207.8V200.6H203.3Z" fill="#c3ff3c"/><path d="M171.7 143.8H176.2V146.8H171.7ZM167.2 152.7H171.7V155.7H167.2ZM167.2 155.7H171.7V158.7H167.2ZM212.3 155.7H216.8V158.7H212.3ZM216.8 164.7H221.3V167.7H216.8Z" fill="#c80000"/><path d="M194.2 134.8H198.8V137.8H194.2ZM144.6 152.7H149.1V155.7H144.6ZM144.6 161.7H149.1V164.7H144.6ZM234.9 164.7H239.4V167.7H234.9ZM234.9 173.7H239.4V176.7H234.9ZM144.6 179.7H149.1V182.7H144.6ZM234.9 182.7H239.4V185.6H234.9ZM194.2 188.6H198.8V191.6H194.2ZM149.1 194.6H153.6V197.6H149.1Z" fill="#c8ff37"/><path d="M216.8 146.8H221.3V149.7H216.8ZM176.2 152.7H180.7V155.7H176.2ZM162.7 155.7H167.2V158.7H162.7Z" fill="#cd0000"/><path d="M153.6 128.8H158.1V131.8H153.6ZM198.8 134.8H203.3V137.8H198.8ZM234.9 143.8H243.9V146.8H234.9ZM234.9 152.7H239.4V155.7H234.9ZM239.4 158.7H248.4V161.7H239.4ZM239.4 161.7H243.9V164.7H239.4ZM239.4 167.7H243.9V170.7H239.4ZM243.9 170.7H248.4V173.7H243.9ZM239.4 182.7H243.9V185.6H239.4Z" fill="#cdff32"/><path d="M176.2 149.7H180.7V152.7H176.2ZM207.8 164.7H212.3V167.7H207.8ZM171.7 173.7H176.2V176.7H171.7ZM162.7 176.7H167.2V179.7H162.7ZM216.8 176.7H221.3V179.7H216.8ZM212.3 179.7H216.8V182.7H212.3ZM171.7 182.7H176.2V185.6H171.7ZM212.3 182.7H216.8V185.6H212.3Z" fill="#d20000"/><path d="M185.2 128.8H189.7V131.8H185.2ZM149.1 131.8H153.6V134.8H149.1ZM230.4 134.8H234.9V137.8H230.4ZM144.6 143.8H149.1V146.8H144.6ZM239.4 146.8H243.9V149.7H239.4ZM234.9 149.7H243.9V152.7H234.9ZM243.9 173.7H248.4V176.7H243.9ZM144.6 182.7H149.1V185.6H144.6ZM185.2 197.6H189.7V200.6H185.2Z" fill="#d2ff2d"/><path d="M171.7 170.7H176.2V173.7H171.7ZM207.8 176.7H212.3V179.7H207.8ZM176.2 182.7H180.7V185.6H176.2ZM171.7 185.6H176.2V188.6H171.7Z" fill="#d70000"/><path d="M194.2 143.8H198.8V146.8H194.2ZM234.9 146.8H239.4V149.7H234.9ZM234.9 179.7H239.4V182.7H234.9ZM234.9 185.6H239.4V188.6H234.9Z" fill="#d7ff28"/><path d="M171.7 140.8H176.2V143.8H171.7ZM162.7 146.8H176.2V149.7H162.7ZM171.7 152.7H176.2V155.7H171.7ZM216.8 155.7H221.3V158.7H216.8ZM167.2 161.7H171.7V164.7H167.2ZM176.2 161.7H180.7V164.7H176.2ZM216.8 170.7H221.3V173.7H216.8ZM176.2 173.7H180.7V176.7H176.2ZM171.7 176.7H176.2V179.7H171.7ZM167.2 179.7H171.7V182.7H167.2ZM176.2 179.7H180.7V182.7H176.2Z" fill="#dc0000"/><path d="M144.6 170.7H149.1V173.7H144.6ZM194.2 185.6H198.8V188.6H194.2ZM198.8 191.6H203.3V194.6H198.8Z" fill="#dcff23"/><path d="M176.2 143.8H180.7V146.8H176.2ZM176.2 146.8H180.7V149.7H176.2ZM212.3 149.7H216.8V152.7H212.3ZM180.7 158.7H185.2V161.7H180.7ZM158.1 161.7H162.7V164.7H158.1ZM162.7 173.7H167.2V176.7H162.7ZM212.3 173.7H216.8V176.7H212.3ZM176.2 176.7H180.7V179.7H176.2Z" fill="#e10000"/><path d="M198.8 137.8H203.3V140.8H198.8ZM230.4 140.8H234.9V143.8H230.4ZM189.7 191.6H194.2V194.6H189.7ZM230.4 191.6H234.9V194.6H230.4ZM225.8 194.6H230.4V197.6H225.8Z" fill="#e1ff1e"/><path d="M167.2 143.8H171.7V146.8H167.2ZM158.1 158.7H162.7V161.7H158.1ZM212.3 167.7H216.8V170.7H212.3ZM216.8 173.7H221.3V176.7H216.8ZM207.8 179.7H212.3V182.7H207.8Z" fill="#e60000"/><path d="M189.7 137.8H194.2V140.8H189.7ZM234.9 155.7H239.4V158.7H234.9ZM144.6 173.7H149.1V176.7H144.6ZM144.6 176.7H149.1V179.7H144.6ZM194.2 179.7H198.8V182.7H194.2Z" fill="#e6ff19"/><path d="M158.1 152.7H162.7V155.7H158.1ZM216.8 152.7H221.3V155.7H216.8ZM158.1 155.7H162.7V158.7H158.1ZM216.8 161.7H221.3V164.7H216.8ZM207.8 167.7H212.3V170.7H207.8ZM207.8 170.7H212.3V173.7H207.8ZM162.7 182.7H171.7V185.6H162.7Z" fill="#eb0000"/><path d="M230.4 137.8H234.9V140.8H230.4ZM230.4 143.8H234.9V146.8H230.4ZM144.6 158.7H149.1V161.7H144.6ZM234.9 161.7H239.4V164.7H234.9ZM194.2 176.7H198.8V179.7H194.2Z" fill="#ebff14"/><path d="M207.8 146.8H212.3V149.7H207.8ZM158.1 149.7H162.7V152.7H158.1ZM180.7 149.7H185.2V152.7H180.7ZM207.8 158.7H212.3V161.7H207.8ZM216.8 158.7H221.3V161.7H216.8ZM162.7 161.7H167.2V164.7H162.7ZM180.7 167.7H185.2V170.7H180.7ZM162.7 170.7H167.2V173.7H162.7ZM221.3 170.7H225.8V173.7H221.3ZM212.3 176.7H216.8V179.7H212.3ZM162.7 179.7H167.2V182.7H162.7ZM216.8 179.7H221.3V182.7H216.8Z" fill="#f00000"/><path d="M189.7 134.8H194.2V137.8H189.7ZM194.2 146.8H198.8V149.7H194.2ZM144.6 155.7H149.1V158.7H144.6ZM144.6 167.7H149.1V170.7H144.6ZM194.2 182.7H198.8V185.6H194.2ZM153.6 197.6H158.1V200.6H153.6Z" fill="#f0ff0f"/><path d="M167.2 140.8H171.7V143.8H167.2ZM207.8 143.8H212.3V146.8H207.8ZM162.7 149.7H167.2V152.7H162.7ZM207.8 149.7H212.3V152.7H207.8ZM216.8 182.7H221.3V185.6H216.8Z" fill="#f50000"/><path d="M149.1 137.8H153.6V140.8H149.1ZM194.2 149.7H198.8V152.7H194.2ZM194.2 155.7H198.8V158.7H194.2ZM234.9 158.7H239.4V161.7H234.9ZM234.9 176.7H239.4V179.7H234.9Z" fill="#f5ff0a"/><path d="M212.3 143.8H216.8V146.8H212.3ZM216.8 149.7H221.3V152.7H216.8ZM162.7 152.7H167.2V155.7H162.7Z" fill="#fa0000"/><path d="M203.3 128.8H207.8V131.8H203.3ZM225.8 131.8H230.4V134.8H225.8ZM144.6 164.7H149.1V167.7H144.6ZM234.9 167.7H239.4V170.7H234.9ZM194.2 173.7H198.8V176.7H194.2ZM198.8 182.7H203.3V185.6H198.8ZM230.4 185.6H234.9V188.6H230.4ZM230.4 188.6H234.9V191.6H230.4Z" fill="#faff05"/><path d="M207.8 152.7H212.3V155.7H207.8ZM180.7 155.7H185.2V158.7H180.7ZM207.8 155.7H212.3V158.7H207.8ZM207.8 161.7H212.3V164.7H207.8ZM158.1 164.7H162.7V167.7H158.1ZM158.1 167.7H162.7V170.7H158.1ZM158.1 170.7H162.7V173.7H158.1ZM212.3 185.6H221.3V188.6H212.3Z" fill="#ff0000"/><path d="M171.7 137.8H180.7V140.8H171.7ZM212.3 137.8H216.8V140.8H212.3ZM212.3 140.8H216.8V143.8H212.3ZM180.7 161.7H185.2V164.7H180.7ZM180.7 164.7H185.2V167.7H180.7ZM207.8 173.7H212.3V176.7H207.8ZM221.3 173.7H225.8V176.7H221.3ZM158.1 176.7H162.7V179.7H158.1ZM180.7 182.7H185.2V185.6H180.7ZM167.2 188.6H171.7V191.6H167.2Z" fill="#ff0500"/><path d="M167.2 137.8H171.7V140.8H167.2ZM216.8 137.8H221.3V140.8H216.8ZM221.3 155.7H225.8V158.7H221.3ZM158.1 179.7H162.7V182.7H158.1ZM221.3 179.7H225.8V182.7H221.3ZM216.8 188.6H221.3V191.6H216.8Z" fill="#ff0a00"/><path d="M216.8 143.8H221.3V146.8H216.8ZM180.7 176.7H185.2V179.7H180.7ZM180.7 179.7H185.2V182.7H180.7ZM167.2 185.6H171.7V188.6H167.2ZM176.2 185.6H180.7V188.6H176.2ZM176.2 188.6H180.7V191.6H176.2Z" fill="#ff0f00"/><path d="M216.8 140.8H221.3V143.8H216.8ZM158.1 143.8H162.7V146.8H158.1ZM221.3 158.7H225.8V161.7H221.3ZM221.3 167.7H225.8V170.7H221.3ZM180.7 170.7H185.2V173.7H180.7ZM158.1 173.7H162.7V176.7H158.1ZM180.7 173.7H185.2V176.7H180.7ZM221.3 176.7H225.8V179.7H221.3ZM171.7 188.6H176.2V191.6H171.7ZM212.3 188.6H216.8V191.6H212.3Z" fill="#ff1400"/><path d="M162.7 140.8H167.2V143.8H162.7ZM176.2 140.8H180.7V143.8H176.2ZM207.8 140.8H212.3V143.8H207.8ZM162.7 143.8H167.2V146.8H162.7ZM180.7 143.8H185.2V146.8H180.7ZM207.8 182.7H212.3V185.6H207.8ZM162.7 185.6H167.2V188.6H162.7Z" fill="#ff1900"/><path d="M162.7 137.8H167.2V140.8H162.7ZM221.3 149.7H225.8V152.7H221.3ZM180.7 152.7H185.2V155.7H180.7ZM221.3 152.7H225.8V155.7H221.3ZM153.6 158.7H158.1V161.7H153.6Z" fill="#ff1e00"/><path d="M221.3 140.8H225.8V143.8H221.3ZM158.1 146.8H162.7V149.7H158.1ZM221.3 161.7H225.8V164.7H221.3ZM221.3 164.7H225.8V167.7H221.3ZM158.1 182.7H162.7V185.6H158.1ZM207.8 185.6H212.3V188.6H207.8Z" fill="#ff2300"/><path d="M180.7 146.8H185.2V149.7H180.7ZM221.3 146.8H225.8V149.7H221.3ZM158.1 188.6H162.7V191.6H158.1ZM207.8 188.6H212.3V191.6H207.8ZM167.2 191.6H171.7V194.6H167.2Z" fill="#ff2800"/><path d="M212.3 134.8H216.8V137.8H212.3ZM203.3 164.7H207.8V167.7H203.3ZM153.6 170.7H158.1V173.7H153.6ZM162.7 191.6H167.2V194.6H162.7Z" fill="#ff2d00"/><path d="M167.2 134.8H176.2V137.8H167.2ZM203.3 170.7H207.8V173.7H203.3ZM221.3 182.7H225.8V185.6H221.3Z" fill="#ff3200"/><path d="M158.1 137.8H162.7V140.8H158.1ZM221.3 143.8H225.8V146.8H221.3ZM203.3 155.7H207.8V158.7H203.3ZM203.3 173.7H207.8V176.7H203.3ZM180.7 188.6H185.2V191.6H180.7ZM176.2 191.6H180.7V194.6H176.2Z" fill="#ff3700"/><path d="M162.7 134.8H167.2V137.8H162.7ZM216.8 134.8H221.3V137.8H216.8ZM180.7 140.8H185.2V143.8H180.7ZM153.6 152.7H158.1V155.7H153.6ZM153.6 164.7H158.1V167.7H153.6ZM203.3 167.7H207.8V170.7H203.3ZM221.3 185.6H225.8V188.6H221.3ZM162.7 188.6H167.2V191.6H162.7ZM171.7 191.6H176.2V194.6H171.7ZM212.3 191.6H221.3V194.6H212.3Z" fill="#ff3c00"/><path d="M158.1 140.8H162.7V143.8H158.1ZM153.6 149.7H158.1V152.7H153.6Z" fill="#ff4100"/><path d="M180.7 137.8H185.2V140.8H180.7ZM207.8 137.8H212.3V140.8H207.8ZM153.6 155.7H158.1V158.7H153.6ZM153.6 173.7H158.1V176.7H153.6ZM158.1 185.6H162.7V188.6H158.1ZM180.7 185.6H185.2V188.6H180.7Z" fill="#ff4600"/><path d="M203.3 176.7H207.8V179.7H203.3Z" fill="#ff4b00"/><path d="M221.3 137.8H225.8V140.8H221.3ZM153.6 143.8H158.1V146.8H153.6ZM153.6 146.8H158.1V149.7H153.6ZM203.3 158.7H207.8V161.7H203.3ZM153.6 167.7H158.1V170.7H153.6ZM203.3 179.7H207.8V182.7H203.3ZM171.7 194.6H176.2V197.6H171.7Z" fill="#ff5000"/><path d="M171.7 131.8H176.2V134.8H171.7ZM176.2 134.8H180.7V137.8H176.2ZM207.8 134.8H212.3V137.8H207.8ZM153.6 140.8H158.1V143.8H153.6ZM153.6 161.7H158.1V164.7H153.6ZM185.2 164.7H189.7V167.7H185.2ZM221.3 191.6H225.8V194.6H221.3ZM212.3 194.6H216.8V197.6H212.3Z" fill="#ff5500"/><path d="M167.2 131.8H171.7V134.8H167.2ZM203.3 143.8H207.8V146.8H203.3ZM185.2 155.7H189.7V158.7H185.2ZM185.2 161.7H189.7V164.7H185.2ZM203.3 161.7H207.8V164.7H203.3ZM185.2 170.7H189.7V173.7H185.2ZM153.6 179.7H158.1V182.7H153.6Z" fill="#ff5a00"/><path d="M153.6 176.7H158.1V179.7H153.6ZM207.8 191.6H212.3V194.6H207.8Z" fill="#ff5f00"/><path d="M203.3 152.7H207.8V155.7H203.3Z" fill="#ff6400"/><path d="M176.2 131.8H180.7V134.8H176.2ZM185.2 146.8H189.7V149.7H185.2ZM221.3 188.6H225.8V191.6H221.3Z" fill="#ff6900"/><path d="M203.3 140.8H207.8V143.8H203.3ZM203.3 146.8H207.8V149.7H203.3ZM203.3 149.7H207.8V152.7H203.3ZM225.8 155.7H230.4V158.7H225.8ZM185.2 158.7H189.7V161.7H185.2ZM153.6 182.7H158.1V185.6H153.6ZM203.3 182.7H207.8V185.6H203.3Z" fill="#ff6e00"/><path d="M185.2 149.7H189.7V152.7H185.2ZM225.8 167.7H230.4V170.7H225.8ZM225.8 170.7H230.4V173.7H225.8ZM225.8 173.7H230.4V176.7H225.8ZM153.6 185.6H158.1V188.6H153.6ZM176.2 194.6H180.7V197.6H176.2Z" fill="#ff7300"/><path d="M216.8 131.8H221.3V134.8H216.8ZM158.1 134.8H162.7V137.8H158.1ZM203.3 137.8H207.8V140.8H203.3ZM185.2 176.7H189.7V179.7H185.2ZM203.3 185.6H207.8V188.6H203.3Z" fill="#ff7800"/><path d="M212.3 131.8H216.8V134.8H212.3ZM153.6 137.8H158.1V140.8H153.6ZM225.8 149.7H230.4V152.7H225.8ZM185.2 173.7H189.7V176.7H185.2ZM153.6 188.6H158.1V191.6H153.6Z" fill="#ff7d00"/><path d="M180.7 134.8H185.2V137.8H180.7ZM185.2 143.8H189.7V146.8H185.2ZM225.8 164.7H230.4V167.7H225.8ZM225.8 179.7H230.4V182.7H225.8ZM158.1 191.6H162.7V194.6H158.1ZM180.7 191.6H185.2V194.6H180.7Z" fill="#ff8200"/><path d="M180.7 131.8H185.2V134.8H180.7ZM225.8 140.8H230.4V143.8H225.8ZM225.8 146.8H230.4V149.7H225.8ZM225.8 152.7H230.4V155.7H225.8ZM225.8 158.7H230.4V161.7H225.8ZM185.2 167.7H189.7V170.7H185.2ZM185.2 182.7H189.7V185.6H185.2ZM167.2 194.6H171.7V197.6H167.2ZM207.8 194.6H212.3V197.6H207.8Z" fill="#ff8700"/><path d="M185.2 152.7H189.7V155.7H185.2ZM225.8 161.7H230.4V164.7H225.8ZM203.3 188.6H207.8V191.6H203.3ZM221.3 194.6H225.8V197.6H221.3Z" fill="#ff8c00"/><path d="M162.7 131.8H167.2V134.8H162.7ZM207.8 131.8H212.3V134.8H207.8ZM221.3 134.8H225.8V137.8H221.3ZM225.8 176.7H230.4V179.7H225.8Z" fill="#ff9100"/><path d="M185.2 140.8H189.7V143.8H185.2ZM185.2 188.6H189.7V191.6H185.2ZM216.8 194.6H221.3V197.6H216.8Z" fill="#ff9600"/><path d="M185.2 137.8H189.7V140.8H185.2ZM225.8 143.8H230.4V146.8H225.8ZM149.1 158.7H153.6V161.7H149.1ZM185.2 179.7H189.7V182.7H185.2ZM162.7 194.6H167.2V197.6H162.7Z" fill="#ff9b00"/><path d="M158.1 131.8H162.7V134.8H158.1ZM221.3 131.8H225.8V134.8H221.3ZM153.6 134.8H158.1V137.8H153.6ZM171.7 197.6H176.2V200.6H171.7Z" fill="#ffa000"/><path d="M225.8 182.7H230.4V185.6H225.8ZM203.3 191.6H207.8V194.6H203.3ZM180.7 194.6H185.2V197.6H180.7Z" fill="#ffa500"/><path d="M149.1 164.7H153.6V167.7H149.1ZM149.1 173.7H153.6V176.7H149.1ZM225.8 188.6H230.4V191.6H225.8Z" fill="#ffaa00"/><path d="M153.6 191.6H158.1V194.6H153.6Z" fill="#ffaf00"/><path d="M167.2 128.8H171.7V131.8H167.2ZM185.2 134.8H189.7V137.8H185.2ZM198.8 155.7H203.3V158.7H198.8ZM185.2 185.6H189.7V188.6H185.2ZM225.8 185.6H230.4V188.6H225.8ZM158.1 194.6H162.7V197.6H158.1ZM216.8 197.6H221.3V200.6H216.8Z" fill="#ffb400"/><path d="M207.8 128.8H212.3V131.8H207.8ZM189.7 167.7H194.2V170.7H189.7Z" fill="#ffb900"/><path d="M162.7 128.8H167.2V131.8H162.7ZM198.8 164.7H203.3V167.7H198.8ZM149.1 170.7H153.6V173.7H149.1ZM149.1 185.6H153.6V188.6H149.1Z" fill="#ffbe00"/><path d="M176.2 128.8H180.7V131.8H176.2ZM198.8 146.8H203.3V149.7H198.8ZM149.1 161.7H153.6V164.7H149.1ZM198.8 173.7H203.3V176.7H198.8ZM149.1 176.7H153.6V179.7H149.1ZM176.2 197.6H180.7V200.6H176.2Z" fill="#ffc300"/><path d="M212.3 128.8H216.8V131.8H212.3ZM203.3 134.8H207.8V137.8H203.3ZM149.1 149.7H153.6V152.7H149.1ZM189.7 164.7H194.2V167.7H189.7ZM230.4 170.7H234.9V173.7H230.4ZM212.3 197.6H216.8V200.6H212.3Z" fill="#ffc800"/><path d="M149.1 155.7H153.6V158.7H149.1ZM230.4 164.7H234.9V167.7H230.4ZM149.1 167.7H153.6V170.7H149.1ZM230.4 167.7H234.9V170.7H230.4ZM189.7 170.7H194.2V173.7H189.7ZM198.8 170.7H203.3V173.7H198.8Z" fill="#ffcd00"/><path d="M171.7 128.8H176.2V131.8H171.7ZM225.8 137.8H230.4V140.8H225.8ZM149.1 143.8H153.6V146.8H149.1ZM149.1 146.8H153.6V149.7H149.1ZM149.1 152.7H153.6V155.7H149.1ZM230.4 152.7H234.9V155.7H230.4ZM189.7 155.7H194.2V158.7H189.7ZM167.2 197.6H171.7V200.6H167.2ZM207.8 197.6H212.3V200.6H207.8Z" fill="#ffd200"/><path d="M216.8 128.8H221.3V131.8H216.8ZM153.6 131.8H158.1V134.8H153.6ZM230.4 146.8H234.9V149.7H230.4ZM189.7 152.7H194.2V155.7H189.7ZM230.4 158.7H234.9V161.7H230.4ZM189.7 161.7H194.2V164.7H189.7ZM230.4 173.7H234.9V176.7H230.4ZM149.1 179.7H153.6V182.7H149.1ZM185.2 191.6H189.7V194.6H185.2Z" fill="#ffd700"/><path d="M189.7 143.8H194.2V146.8H189.7ZM198.8 161.7H203.3V164.7H198.8ZM230.4 161.7H234.9V164.7H230.4ZM149.1 182.7H153.6V185.6H149.1ZM149.1 188.6H153.6V191.6H149.1ZM203.3 194.6H207.8V197.6H203.3ZM162.7 197.6H167.2V200.6H162.7Z" fill="#ffdc00"/><path d="M221.3 128.8H225.8V131.8H221.3ZM189.7 149.7H194.2V152.7H189.7ZM198.8 167.7H203.3V170.7H198.8ZM189.7 173.7H194.2V176.7H189.7ZM198.8 185.6H203.3V188.6H198.8ZM221.3 197.6H225.8V200.6H221.3Z" fill="#ffe100"/><path d="M203.3 131.8H207.8V134.8H203.3ZM149.1 140.8H153.6V143.8H149.1ZM198.8 140.8H203.3V143.8H198.8ZM189.7 158.7H194.2V161.7H189.7ZM194.2 164.7H198.8V167.7H194.2ZM194.2 170.7H198.8V173.7H194.2ZM189.7 185.6H194.2V188.6H189.7ZM153.6 194.6H158.1V197.6H153.6Z" fill="#ffe600"/><path d="M225.8 134.8H230.4V137.8H225.8ZM230.4 149.7H234.9V152.7H230.4ZM194.2 152.7H198.8V155.7H194.2ZM230.4 155.7H234.9V158.7H230.4ZM198.8 158.7H203.3V161.7H198.8ZM189.7 176.7H194.2V179.7H189.7ZM225.8 191.6H230.4V194.6H225.8ZM185.2 194.6H189.7V197.6H185.2Z" fill="#ffeb00"/><path d="M180.7 128.8H185.2V131.8H180.7ZM189.7 140.8H194.2V143.8H189.7ZM198.8 143.8H203.3V146.8H198.8ZM198.8 152.7H203.3V155.7H198.8ZM194.2 161.7H198.8V164.7H194.2ZM194.2 167.7H198.8V170.7H194.2ZM230.4 179.7H234.9V182.7H230.4ZM189.7 188.6H194.2V191.6H189.7ZM198.8 188.6H203.3V191.6H198.8Z" fill="#fff000"/><path d="M185.2 131.8H189.7V134.8H185.2ZM149.1 134.8H153.6V137.8H149.1ZM194.2 158.7H198.8V161.7H194.2ZM198.8 176.7H203.3V179.7H198.8ZM230.4 176.7H234.9V179.7H230.4Z" fill="#fff500"/><path d="M189.7 146.8H194.2V149.7H189.7ZM198.8 149.7H203.3V152.7H198.8ZM198.8 179.7H203.3V182.7H198.8ZM189.7 182.7H194.2V185.6H189.7ZM230.4 182.7H234.9V185.6H230.4ZM158.1 197.6H162.7V200.6H158.1Z" fill="#fffa00"/><path d="M158.1 128.8H162.7V131.8H158.1ZM189.7 179.7H194.2V182.7H189.7ZM149.1 191.6H153.6V194.6H149.1ZM180.7 197.6H185.2V200.6H180.7Z" fill="#ffff00"/></g>
<g shape-rendering="crispEdges"><path d="M389.2 198.5H393.7V201.5H389.2Z" fill="#000082"/><path d="M380.1 129.7H384.6V132.7H380.1ZM398.2 129.7H402.7V132.7H398.2Z" fill="#000087"/><path d="M411.8 129.7H416.3V132.7H411.8ZM393.7 198.5H398.2V201.5H393.7Z" fill="#00008c"/><path d="M389.2 129.7H393.7V132.7H389.2ZM420.9 198.5H425.4V201.5H420.9Z" fill="#000091"/><path d="M420.9 129.7H425.4V132.7H420.9ZM407.3 198.5H411.8V201.5H407.3Z" fill="#000096"/><path d="M380.1 198.5H384.6V201.5H380.1ZM402.7 198.5H407.3V201.5H402.7Z" fill="#00009b"/><path d="M384.6 195.5H389.2V198.5H384.6ZM398.2 198.5H402.7V201.5H398.2Z" fill="#0000a0"/><path d="M393.7 129.7H398.2V132.7H393.7ZM425.4 129.7H429.9V132.7H425.4ZM380.1 132.7H384.6V135.7H380.1ZM425.4 198.5H429.9V201.5H425.4Z" fill="#0000a5"/><path d="M443.5 129.7H448.0V132.7H443.5ZM380.1 195.5H384.6V198.5H380.1ZM411.8 195.5H416.3V198.5H411.8ZM384.6 198.5H389.2V201.5H384.6ZM439.0 198.5H443.5V201.5H439.0Z" fill="#0000aa"/><path d="M384.6 129.7H389.2V132.7H384.6ZM393.7 132.7H398.2V135.7H393.7ZM393.7 195.5H402.7V198.5H393.7ZM411.8 198.5H420.9V201.5H411.8ZM642.8 198.5H647.3V201.5H642.8Z" fill="#0000af"/><path d="M642.8 129.7H647.3V132.7H642.8ZM443.5 198.5H448.0V201.5H443.5Z" fill="#0000b4"/><path d="M398.2 132.7H402.7V135.7H398.2ZM402.7 192.5H407.3V195.5H402.7ZM407.3 195.5H411.8V198.5H407.3ZM429.9 198.5H434.4V201.5H429.9ZM638.2 198.5H642.8V201.5H638.2Z" fill="#0000b9"/><path d="M429.9 129.7H434.4V132.7H429.9Z" fill="#0000be"/><path d="M402.7 129.7H411.8V132.7H402.7ZM633.7 129.7H638.2V132.7H633.7ZM384.6 135.7H389.2V138.7H384.6ZM393.7 192.5H398.2V195.5H393.7ZM389.2 195.5H393.7V198.5H389.2ZM402.7 195.5H407.3V198.5H402.7ZM434.4 195.5H439.0V198.5H434.4Z" fill="#0000c3"/><path d="M416.3 129.7H420.9V132.7H416.3ZM638.2 129.7H642.8V132.7H638.2ZM384.6 132.7H389.2V135.7H384.6ZM389.2 135.7H393.7V138.7H389.2ZM407.3 135.7H411.8V138.7H407.3ZM380.1 189.5H384.6V192.5H380.1ZM389.2 192.5H393.7V195.5H389.2ZM420.9 192.5H425.4V195.5H420.9ZM425.4 195.5H429.9V198.5H425.4Z" fill="#0000c8"/><path d="M407.3 132.7H420.9V135.7H407.3ZM416.3 135.7H420.9V138.7H416.3ZM407.3 192.5H411.8V195.5H407.3ZM434.4 198.5H439.0V201.5H434.4Z" fill="#0000cd"/><path d="M448.0 129.7H452.6V132.7H448.0ZM402.7 132.7H407.3V135.7H402.7ZM402.7 135.7H407.3V138.7H402.7ZM384.6 138.7H389.2V141.7H384.6ZM402.7 138.7H407.3V141.7H402.7ZM398.2 192.5H402.7V195.5H398.2ZM411.8 192.5H416.3V195.5H411.8ZM420.9 195.5H425.4V198.5H420.9ZM429.9 195.5H434.4V198.5H429.9ZM448.0 195.5H452.6V198.5H448.0ZM638.2 195.5H642.8V198.5H638.2ZM452.6 198.5H457.1V201.5H452.6ZM629.2 198.5H633.7V201.5H629.2Z" fill="#0000d2"/><path d="M389.2 132.7H393.7V135.7H389.2ZM642.8 132.7H647.3V135.7H642.8ZM393.7 135.7H398.2V138.7H393.7ZM380.1 141.7H384.6V144.7H380.1ZM389.2 141.7H393.7V144.7H389.2ZM398.2 183.6H402.7V186.5H398.2ZM380.1 192.5H389.2V195.5H380.1ZM443.5 195.5H448.0V198.5H443.5ZM633.7 198.5H638.2V201.5H633.7Z" fill="#0000d7"/><path d="M434.4 129.7H443.5V132.7H434.4ZM452.6 129.7H457.1V132.7H452.6ZM411.8 138.7H416.3V141.7H411.8ZM380.1 165.6H384.6V168.6H380.1ZM380.1 171.6H384.6V174.6H380.1ZM402.7 183.6H407.3V186.5H402.7ZM407.3 189.5H416.3V192.5H407.3ZM416.3 192.5H420.9V195.5H416.3ZM416.3 195.5H420.9V198.5H416.3ZM452.6 195.5H457.1V198.5H452.6ZM448.0 198.5H452.6V201.5H448.0Z" fill="#0000dc"/><path d="M457.1 129.7H461.6V132.7H457.1ZM425.4 132.7H429.9V135.7H425.4ZM434.4 132.7H439.0V135.7H434.4ZM425.4 135.7H429.9V138.7H425.4ZM407.3 141.7H411.8V144.7H407.3ZM380.1 153.6H384.6V156.6H380.1ZM389.2 171.6H393.7V174.6H389.2ZM389.2 174.6H393.7V177.6H389.2ZM389.2 177.6H393.7V180.6H389.2ZM389.2 180.6H393.7V183.6H389.2ZM398.2 189.5H402.7V192.5H398.2ZM457.1 198.5H461.6V201.5H457.1Z" fill="#0000e1"/><path d="M466.1 129.7H470.7V132.7H466.1ZM629.2 129.7H633.7V132.7H629.2ZM429.9 132.7H434.4V135.7H429.9ZM448.0 132.7H452.6V135.7H448.0ZM439.0 135.7H443.5V138.7H439.0ZM380.1 138.7H384.6V141.7H380.1ZM398.2 144.7H402.7V147.6H398.2ZM393.7 156.6H398.2V159.6H393.7ZM384.6 177.6H389.2V180.6H384.6ZM398.2 177.6H402.7V180.6H398.2ZM411.8 177.6H416.3V180.6H411.8ZM411.8 180.6H416.3V183.6H411.8ZM389.2 186.5H393.7V189.5H389.2ZM411.8 186.5H416.3V189.5H411.8ZM425.4 186.5H429.9V189.5H425.4ZM384.6 189.5H389.2V192.5H384.6ZM642.8 195.5H647.3V198.5H642.8Z" fill="#0000e6"/><path d="M420.9 132.7H425.4V135.7H420.9ZM439.0 132.7H443.5V135.7H439.0ZM380.1 135.7H384.6V138.7H380.1ZM411.8 141.7H416.3V144.7H411.8ZM420.9 141.7H425.4V144.7H420.9ZM393.7 144.7H398.2V147.6H393.7ZM416.3 144.7H420.9V147.6H416.3ZM402.7 156.6H407.3V159.6H402.7ZM398.2 162.6H402.7V165.6H398.2ZM393.7 171.6H398.2V174.6H393.7ZM407.3 171.6H416.3V174.6H407.3ZM407.3 174.6H411.8V177.6H407.3ZM380.1 180.6H384.6V183.6H380.1ZM420.9 183.6H425.4V186.5H420.9ZM443.5 192.5H448.0V195.5H443.5ZM642.8 192.5H647.3V195.5H642.8ZM461.6 195.5H466.1V198.5H461.6ZM461.6 198.5H466.1V201.5H461.6Z" fill="#0000eb"/><path d="M457.1 132.7H461.6V135.7H457.1ZM638.2 132.7H642.8V135.7H638.2ZM398.2 135.7H402.7V138.7H398.2ZM420.9 135.7H425.4V138.7H420.9ZM384.6 141.7H389.2V144.7H384.6ZM398.2 141.7H407.3V144.7H398.2ZM407.3 144.7H411.8V147.6H407.3ZM393.7 147.6H398.2V150.6H393.7ZM398.2 153.6H402.7V156.6H398.2ZM407.3 153.6H420.9V156.6H407.3ZM407.3 165.6H416.3V168.6H407.3ZM416.3 168.6H420.9V171.6H416.3ZM393.7 174.6H398.2V177.6H393.7ZM411.8 174.6H416.3V177.6H411.8ZM402.7 177.6H407.3V180.6H402.7ZM384.6 183.6H389.2V186.5H384.6ZM416.3 189.5H420.9V192.5H416.3ZM429.9 189.5H434.4V192.5H429.9ZM425.4 192.5H429.9V195.5H425.4ZM638.2 192.5H642.8V195.5H638.2ZM439.0 195.5H443.5V198.5H439.0ZM457.1 195.5H461.6V198.5H457.1ZM624.7 198.5H629.2V201.5H624.7Z" fill="#0000f0"/><path d="M389.2 147.6H393.7V150.6H389.2ZM402.7 150.6H407.3V153.6H402.7ZM411.8 150.6H416.3V153.6H411.8ZM393.7 159.6H398.2V162.6H393.7ZM402.7 159.6H407.3V162.6H402.7ZM407.3 162.6H411.8V165.6H407.3ZM389.2 168.6H393.7V171.6H389.2ZM411.8 168.6H416.3V171.6H411.8ZM420.9 168.6H425.4V171.6H420.9ZM429.9 183.6H434.4V186.5H429.9ZM393.7 186.5H402.7V189.5H393.7ZM407.3 186.5H411.8V189.5H407.3ZM389.2 189.5H393.7V192.5H389.2ZM642.8 189.5H647.3V192.5H642.8Z" fill="#0000f5"/><path d="M384.6 144.7H389.2V147.6H384.6ZM380.1 150.6H384.6V153.6H380.1ZM416.3 150.6H420.9V153.6H416.3ZM384.6 153.6H389.2V156.6H384.6ZM393.7 153.6H398.2V156.6H393.7ZM380.1 159.6H389.2V162.6H380.1ZM389.2 165.6H393.7V168.6H389.2ZM420.9 174.6H425.4V177.6H420.9ZM420.9 177.6H425.4V180.6H420.9ZM384.6 180.6H389.2V183.6H384.6ZM393.7 180.6H398.2V183.6H393.7ZM380.1 183.6H384.6V186.5H380.1ZM389.2 183.6H393.7V186.5H389.2ZM407.3 183.6H411.8V186.5H407.3ZM416.3 183.6H420.9V186.5H416.3ZM380.1 186.5H384.6V189.5H380.1ZM393.7 189.5H398.2V192.5H393.7ZM402.7 189.5H407.3V192.5H402.7ZM439.0 192.5H443.5V195.5H439.0ZM470.7 198.5H475.2V201.5H470.7Z" fill="#0000fa"/><path d="M461.6 129.7H466.1V132.7H461.6ZM411.8 135.7H416.3V138.7H411.8ZM429.9 135.7H434.4V138.7H429.9ZM420.9 138.7H425.4V141.7H420.9ZM429.9 138.7H434.4V141.7H429.9ZM642.8 138.7H647.3V141.7H642.8ZM416.3 141.7H420.9V144.7H416.3ZM642.8 141.7H647.3V144.7H642.8ZM380.1 144.7H384.6V147.6H380.1ZM402.7 144.7H407.3V147.6H402.7ZM411.8 144.7H416.3V147.6H411.8ZM398.2 147.6H402.7V150.6H398.2ZM411.8 147.6H416.3V150.6H411.8ZM384.6 156.6H389.2V159.6H384.6ZM416.3 156.6H420.9V159.6H416.3ZM407.3 159.6H411.8V162.6H407.3ZM380.1 162.6H384.6V165.6H380.1ZM402.7 162.6H407.3V165.6H402.7ZM402.7 165.6H407.3V168.6H402.7ZM384.6 168.6H389.2V171.6H384.6ZM416.3 174.6H420.9V177.6H416.3ZM393.7 177.6H398.2V180.6H393.7ZM425.4 177.6H429.9V180.6H425.4ZM407.3 180.6H411.8V183.6H407.3ZM393.7 183.6H398.2V186.5H393.7ZM439.0 183.6H443.5V186.5H439.0ZM384.6 186.5H389.2V189.5H384.6ZM434.4 189.5H439.0V192.5H434.4ZM448.0 189.5H452.6V192.5H448.0ZM429.9 192.5H434.4V195.5H429.9ZM466.1 198.5H470.7V201.5H466.1Z" fill="#0000ff"/><path d="M434.4 135.7H439.0V138.7H434.4ZM443.5 135.7H448.0V138.7H443.5ZM398.2 138.7H402.7V141.7H398.2ZM407.3 138.7H411.8V141.7H407.3ZM393.7 141.7H398.2V144.7H393.7ZM407.3 147.6H411.8V150.6H407.3ZM642.8 147.6H647.3V150.6H642.8ZM393.7 150.6H398.2V153.6H393.7ZM429.9 159.6H434.4V162.6H429.9ZM393.7 168.6H398.2V171.6H393.7ZM407.3 168.6H411.8V171.6H407.3ZM434.4 174.6H439.0V177.6H434.4ZM416.3 180.6H420.9V183.6H416.3ZM429.9 186.5H434.4V189.5H429.9ZM420.9 189.5H429.9V192.5H420.9Z" fill="#0005ff"/><path d="M443.5 132.7H448.0V135.7H443.5ZM448.0 135.7H461.6V138.7H448.0ZM642.8 135.7H647.3V138.7H642.8ZM389.2 138.7H398.2V141.7H389.2ZM425.4 141.7H429.9V144.7H425.4ZM439.0 141.7H443.5V144.7H439.0ZM434.4 153.6H439.0V156.6H434.4ZM389.2 156.6H393.7V159.6H389.2ZM425.4 159.6H429.9V162.6H425.4ZM434.4 159.6H439.0V162.6H434.4ZM384.6 165.6H389.2V168.6H384.6ZM398.2 165.6H402.7V168.6H398.2ZM429.9 168.6H434.4V171.6H429.9ZM384.6 171.6H389.2V174.6H384.6ZM380.1 174.6H389.2V177.6H380.1ZM407.3 177.6H411.8V180.6H407.3ZM416.3 177.6H420.9V180.6H416.3ZM434.4 177.6H439.0V180.6H434.4ZM398.2 180.6H402.7V183.6H398.2ZM402.7 186.5H407.3V189.5H402.7ZM443.5 186.5H448.0V189.5H443.5ZM452.6 189.5H457.1V192.5H452.6ZM434.4 192.5H439.0V195.5H434.4ZM452.6 192.5H457.1V195.5H452.6Z" fill="#000aff"/><path d="M624.7 129.7H629.2V132.7H624.7ZM466.1 132.7H470.7V135.7H466.1ZM416.3 138.7H420.9V141.7H416.3ZM443.5 138.7H448.0V141.7H443.5ZM434.4 141.7H439.0V144.7H434.4ZM389.2 144.7H393.7V147.6H389.2ZM416.3 147.6H420.9V150.6H416.3ZM407.3 150.6H411.8V153.6H407.3ZM425.4 153.6H434.4V156.6H425.4ZM380.1 156.6H384.6V159.6H380.1ZM398.2 159.6H402.7V162.6H398.2ZM416.3 159.6H425.4V162.6H416.3ZM434.4 162.6H439.0V165.6H434.4ZM434.4 165.6H439.0V168.6H434.4ZM398.2 171.6H402.7V174.6H398.2ZM416.3 171.6H420.9V174.6H416.3ZM642.8 174.6H647.3V177.6H642.8ZM380.1 177.6H384.6V180.6H380.1ZM429.9 177.6H434.4V180.6H429.9ZM420.9 180.6H425.4V183.6H420.9ZM411.8 183.6H416.3V186.5H411.8ZM416.3 186.5H425.4V189.5H416.3ZM443.5 189.5H448.0V192.5H443.5ZM633.7 189.5H638.2V192.5H633.7ZM461.6 192.5H466.1V195.5H461.6ZM633.7 192.5H638.2V195.5H633.7ZM633.7 195.5H638.2V198.5H633.7Z" fill="#000fff"/><path d="M475.2 129.7H479.7V132.7H475.2ZM633.7 132.7H638.2V135.7H633.7ZM434.4 138.7H439.0V141.7H434.4ZM420.9 144.7H425.4V147.6H420.9ZM380.1 147.6H389.2V150.6H380.1ZM402.7 147.6H407.3V150.6H402.7ZM389.2 153.6H393.7V156.6H389.2ZM407.3 156.6H416.3V159.6H407.3ZM384.6 162.6H389.2V165.6H384.6ZM429.9 162.6H434.4V165.6H429.9ZM425.4 165.6H434.4V168.6H425.4ZM420.9 171.6H425.4V174.6H420.9ZM638.2 174.6H642.8V177.6H638.2ZM402.7 180.6H407.3V183.6H402.7ZM425.4 180.6H429.9V183.6H425.4ZM642.8 183.6H647.3V186.5H642.8ZM448.0 192.5H452.6V195.5H448.0ZM470.7 195.5H475.2V198.5H470.7ZM629.2 195.5H633.7V198.5H629.2Z" fill="#0014ff"/><path d="M461.6 135.7H466.1V138.7H461.6ZM420.9 147.6H425.4V150.6H420.9ZM638.2 147.6H642.8V150.6H638.2ZM384.6 150.6H393.7V153.6H384.6ZM398.2 150.6H402.7V153.6H398.2ZM402.7 153.6H407.3V156.6H402.7ZM389.2 159.6H393.7V162.6H389.2ZM411.8 159.6H416.3V162.6H411.8ZM389.2 162.6H398.2V165.6H389.2ZM416.3 162.6H420.9V165.6H416.3ZM393.7 165.6H398.2V168.6H393.7ZM416.3 165.6H420.9V168.6H416.3ZM642.8 165.6H647.3V168.6H642.8ZM380.1 168.6H384.6V171.6H380.1ZM402.7 168.6H407.3V171.6H402.7ZM398.2 174.6H407.3V177.6H398.2ZM425.4 174.6H429.9V177.6H425.4ZM443.5 174.6H448.0V177.6H443.5ZM448.0 180.6H452.6V183.6H448.0ZM425.4 183.6H429.9V186.5H425.4ZM434.4 183.6H439.0V186.5H434.4ZM434.4 186.5H439.0V189.5H434.4ZM642.8 186.5H647.3V189.5H642.8Z" fill="#0019ff"/><path d="M452.6 132.7H457.1V135.7H452.6ZM461.6 132.7H466.1V135.7H461.6ZM633.7 138.7H638.2V141.7H633.7ZM434.4 147.6H439.0V150.6H434.4ZM642.8 150.6H647.3V153.6H642.8ZM398.2 156.6H402.7V159.6H398.2ZM429.9 156.6H434.4V159.6H429.9ZM642.8 156.6H647.3V159.6H642.8ZM425.4 162.6H429.9V165.6H425.4ZM398.2 168.6H402.7V171.6H398.2ZM402.7 171.6H407.3V174.6H402.7ZM642.8 177.6H647.3V180.6H642.8ZM429.9 180.6H434.4V183.6H429.9ZM638.2 180.6H642.8V183.6H638.2ZM439.0 189.5H443.5V192.5H439.0ZM638.2 189.5H642.8V192.5H638.2ZM475.2 198.5H479.7V201.5H475.2Z" fill="#001eff"/><path d="M470.7 129.7H475.2V132.7H470.7ZM620.1 129.7H624.7V132.7H620.1ZM629.2 132.7H633.7V135.7H629.2ZM425.4 138.7H429.9V141.7H425.4ZM429.9 147.6H434.4V150.6H429.9ZM434.4 150.6H439.0V153.6H434.4ZM443.5 150.6H448.0V153.6H443.5ZM439.0 153.6H448.0V156.6H439.0ZM642.8 153.6H647.3V156.6H642.8ZM443.5 165.6H448.0V168.6H443.5ZM642.8 180.6H647.3V183.6H642.8ZM439.0 186.5H443.5V189.5H439.0ZM452.6 186.5H457.1V189.5H452.6ZM457.1 192.5H461.6V195.5H457.1Z" fill="#0023ff"/><path d="M638.2 135.7H642.8V138.7H638.2ZM439.0 138.7H443.5V141.7H439.0ZM638.2 141.7H642.8V144.7H638.2ZM425.4 144.7H429.9V147.6H425.4ZM420.9 153.6H425.4V156.6H420.9ZM411.8 162.6H416.3V165.6H411.8ZM638.2 168.6H642.8V171.6H638.2ZM638.2 171.6H642.8V174.6H638.2ZM443.5 177.6H452.6V180.6H443.5ZM448.0 183.6H452.6V186.5H448.0ZM629.2 192.5H633.7V195.5H629.2ZM466.1 195.5H470.7V198.5H466.1Z" fill="#0028ff"/><path d="M448.0 138.7H452.6V141.7H448.0ZM429.9 141.7H434.4V144.7H429.9ZM457.1 141.7H461.6V144.7H457.1ZM439.0 144.7H443.5V147.6H439.0ZM420.9 150.6H425.4V153.6H420.9ZM429.9 150.6H434.4V153.6H429.9ZM439.0 156.6H443.5V159.6H439.0ZM420.9 162.6H425.4V165.6H420.9ZM439.0 162.6H443.5V165.6H439.0ZM420.9 165.6H425.4V168.6H420.9ZM638.2 165.6H642.8V168.6H638.2ZM425.4 171.6H429.9V174.6H425.4ZM642.8 171.6H647.3V174.6H642.8ZM429.9 174.6H434.4V177.6H429.9ZM434.4 180.6H439.0V183.6H434.4ZM452.6 180.6H457.1V183.6H452.6ZM452.6 183.6H457.1V186.5H452.6ZM461.6 186.5H466.1V189.5H461.6ZM638.2 186.5H642.8V189.5H638.2Z" fill="#002dff"/><path d="M638.2 138.7H642.8V141.7H638.2ZM633.7 141.7H638.2V144.7H633.7ZM429.9 144.7H434.4V147.6H429.9ZM443.5 144.7H448.0V147.6H443.5ZM425.4 147.6H429.9V150.6H425.4ZM425.4 150.6H429.9V153.6H425.4ZM420.9 156.6H429.9V159.6H420.9ZM425.4 168.6H429.9V171.6H425.4ZM434.4 168.6H439.0V171.6H434.4ZM642.8 168.6H647.3V171.6H642.8ZM429.9 171.6H439.0V174.6H429.9ZM638.2 177.6H642.8V180.6H638.2ZM633.7 183.6H638.2V186.5H633.7ZM448.0 186.5H452.6V189.5H448.0ZM457.1 186.5H461.6V189.5H457.1ZM457.1 189.5H461.6V192.5H457.1ZM629.2 189.5H633.7V192.5H629.2ZM620.1 198.5H624.7V201.5H620.1Z" fill="#0032ff"/><path d="M624.7 132.7H629.2V135.7H624.7ZM638.2 144.7H647.3V147.6H638.2ZM448.0 147.6H452.6V150.6H448.0ZM452.6 153.6H457.1V156.6H452.6ZM443.5 156.6H448.0V159.6H443.5ZM439.0 171.6H443.5V174.6H439.0ZM633.7 174.6H638.2V177.6H633.7ZM461.6 189.5H466.1V192.5H461.6ZM470.7 192.5H475.2V195.5H470.7ZM475.2 195.5H479.7V198.5H475.2Z" fill="#0037ff"/><path d="M629.2 135.7H633.7V138.7H629.2ZM457.1 138.7H461.6V141.7H457.1ZM443.5 141.7H452.6V144.7H443.5ZM434.4 144.7H439.0V147.6H434.4ZM457.1 144.7H461.6V147.6H457.1ZM457.1 150.6H461.6V153.6H457.1ZM638.2 153.6H642.8V156.6H638.2ZM633.7 156.6H638.2V159.6H633.7ZM642.8 159.6H647.3V162.6H642.8ZM443.5 168.6H448.0V171.6H443.5ZM633.7 168.6H638.2V171.6H633.7ZM457.1 177.6H461.6V180.6H457.1ZM439.0 180.6H443.5V183.6H439.0ZM461.6 180.6H466.1V183.6H461.6ZM443.5 183.6H448.0V186.5H443.5ZM638.2 183.6H642.8V186.5H638.2ZM466.1 192.5H470.7V195.5H466.1ZM624.7 195.5H629.2V198.5H624.7ZM479.7 198.5H484.3V201.5H479.7Z" fill="#003cff"/><path d="M443.5 147.6H448.0V150.6H443.5ZM448.0 150.6H452.6V153.6H448.0ZM633.7 150.6H638.2V153.6H633.7ZM452.6 156.6H457.1V159.6H452.6ZM457.1 159.6H461.6V162.6H457.1ZM633.7 159.6H642.8V162.6H633.7ZM443.5 162.6H448.0V165.6H443.5ZM457.1 162.6H461.6V165.6H457.1ZM642.8 162.6H647.3V165.6H642.8ZM439.0 165.6H443.5V168.6H439.0ZM457.1 171.6H461.6V174.6H457.1ZM439.0 174.6H443.5V177.6H439.0ZM452.6 174.6H457.1V177.6H452.6ZM439.0 177.6H443.5V180.6H439.0ZM443.5 180.6H448.0V183.6H443.5ZM633.7 180.6H638.2V183.6H633.7ZM461.6 183.6H466.1V186.5H461.6Z" fill="#0041ff"/><path d="M470.7 135.7H475.2V138.7H470.7ZM633.7 135.7H638.2V138.7H633.7ZM452.6 138.7H457.1V141.7H452.6ZM461.6 138.7H466.1V141.7H461.6ZM452.6 141.7H457.1V144.7H452.6ZM439.0 147.6H443.5V150.6H439.0ZM452.6 147.6H457.1V150.6H452.6ZM439.0 150.6H443.5V153.6H439.0ZM638.2 150.6H642.8V153.6H638.2ZM434.4 156.6H439.0V159.6H434.4ZM638.2 156.6H642.8V159.6H638.2ZM439.0 159.6H448.0V162.6H439.0ZM448.0 165.6H452.6V168.6H448.0ZM443.5 171.6H448.0V174.6H443.5ZM452.6 177.6H457.1V180.6H452.6ZM633.7 186.5H638.2V189.5H633.7Z" fill="#0046ff"/><path d="M479.7 129.7H484.3V132.7H479.7ZM461.6 141.7H466.1V144.7H461.6ZM448.0 144.7H452.6V147.6H448.0ZM638.2 162.6H642.8V165.6H638.2ZM457.1 165.6H461.6V168.6H457.1ZM439.0 168.6H443.5V171.6H439.0ZM448.0 174.6H452.6V177.6H448.0ZM629.2 186.5H633.7V189.5H629.2Z" fill="#004bff"/><path d="M470.7 132.7H475.2V135.7H470.7ZM466.1 135.7H470.7V138.7H466.1ZM452.6 144.7H457.1V147.6H452.6ZM448.0 156.6H452.6V159.6H448.0ZM448.0 162.6H452.6V165.6H448.0ZM452.6 165.6H457.1V168.6H452.6ZM633.7 165.6H638.2V168.6H633.7ZM457.1 174.6H461.6V177.6H457.1ZM461.6 177.6H466.1V180.6H461.6ZM466.1 186.5H470.7V189.5H466.1ZM466.1 189.5H470.7V192.5H466.1Z" fill="#0050ff"/><path d="M633.7 144.7H638.2V147.6H633.7ZM452.6 150.6H457.1V153.6H452.6ZM457.1 156.6H461.6V159.6H457.1ZM448.0 159.6H457.1V162.6H448.0ZM448.0 168.6H452.6V171.6H448.0ZM448.0 171.6H452.6V174.6H448.0ZM633.7 171.6H638.2V174.6H633.7ZM633.7 177.6H638.2V180.6H633.7ZM457.1 183.6H461.6V186.5H457.1ZM470.7 189.5H475.2V192.5H470.7Z" fill="#0055ff"/><path d="M461.6 144.7H466.1V147.6H461.6ZM466.1 147.6H470.7V150.6H466.1ZM629.2 147.6H633.7V150.6H629.2ZM448.0 153.6H452.6V156.6H448.0ZM633.7 153.6H638.2V156.6H633.7ZM452.6 171.6H457.1V174.6H452.6ZM461.6 174.6H466.1V177.6H461.6ZM629.2 177.6H633.7V180.6H629.2ZM629.2 180.6H633.7V183.6H629.2ZM484.3 198.5H488.8V201.5H484.3Z" fill="#005aff"/><path d="M466.1 138.7H470.7V141.7H466.1ZM629.2 141.7H633.7V144.7H629.2ZM466.1 144.7H470.7V147.6H466.1ZM633.7 162.6H638.2V165.6H633.7ZM452.6 168.6H457.1V171.6H452.6ZM457.1 180.6H461.6V183.6H457.1ZM629.2 183.6H633.7V186.5H629.2Z" fill="#005fff"/><path d="M624.7 135.7H629.2V138.7H624.7ZM466.1 153.6H470.7V156.6H466.1ZM461.6 162.6H466.1V165.6H461.6Z" fill="#0064ff"/><path d="M466.1 141.7H470.7V144.7H466.1ZM633.7 147.6H638.2V150.6H633.7ZM629.2 150.6H633.7V153.6H629.2ZM457.1 153.6H466.1V156.6H457.1ZM629.2 165.6H633.7V168.6H629.2ZM461.6 171.6H466.1V174.6H461.6ZM624.7 186.5H629.2V189.5H624.7ZM624.7 192.5H629.2V195.5H624.7Z" fill="#0069ff"/><path d="M475.2 132.7H479.7V135.7H475.2ZM629.2 138.7H633.7V141.7H629.2ZM629.2 153.6H633.7V156.6H629.2ZM466.1 159.6H470.7V162.6H466.1ZM452.6 162.6H457.1V165.6H452.6ZM624.7 189.5H629.2V192.5H624.7ZM620.1 195.5H624.7V198.5H620.1ZM611.1 198.5H620.1V201.5H611.1Z" fill="#006eff"/><path d="M624.7 138.7H629.2V141.7H624.7ZM457.1 147.6H461.6V150.6H457.1ZM466.1 150.6H470.7V153.6H466.1ZM466.1 156.6H470.7V159.6H466.1ZM457.1 168.6H461.6V171.6H457.1ZM466.1 171.6H470.7V174.6H466.1ZM466.1 174.6H470.7V177.6H466.1ZM466.1 180.6H470.7V183.6H466.1Z" fill="#0073ff"/><path d="M624.7 141.7H629.2V144.7H624.7ZM461.6 156.6H466.1V159.6H461.6ZM629.2 156.6H633.7V159.6H629.2ZM461.6 159.6H466.1V162.6H461.6ZM461.6 168.6H470.7V171.6H461.6ZM629.2 174.6H633.7V177.6H629.2Z" fill="#0078ff"/><path d="M615.6 129.7H620.1V132.7H615.6ZM475.2 135.7H479.7V138.7H475.2ZM470.7 141.7H475.2V144.7H470.7ZM461.6 150.6H466.1V153.6H461.6ZM629.2 159.6H633.7V162.6H629.2ZM466.1 165.6H470.7V168.6H466.1ZM470.7 177.6H475.2V180.6H470.7ZM470.7 186.5H475.2V189.5H470.7ZM475.2 189.5H479.7V192.5H475.2ZM475.2 192.5H479.7V195.5H475.2Z" fill="#007dff"/><path d="M484.3 129.7H488.8V132.7H484.3ZM620.1 135.7H624.7V138.7H620.1ZM624.7 144.7H629.2V147.6H624.7ZM461.6 147.6H466.1V150.6H461.6ZM461.6 165.6H466.1V168.6H461.6ZM466.1 183.6H470.7V186.5H466.1ZM624.7 183.6H629.2V186.5H624.7Z" fill="#0082ff"/><path d="M466.1 177.6H470.7V180.6H466.1ZM479.7 195.5H484.3V198.5H479.7Z" fill="#0087ff"/><path d="M629.2 144.7H633.7V147.6H629.2ZM470.7 153.6H475.2V156.6H470.7ZM470.7 168.6H475.2V171.6H470.7ZM620.1 189.5H624.7V192.5H620.1ZM620.1 192.5H624.7V195.5H620.1Z" fill="#008cff"/><path d="M620.1 132.7H624.7V135.7H620.1ZM629.2 168.6H633.7V171.6H629.2ZM629.2 171.6H633.7V174.6H629.2ZM470.7 180.6H475.2V183.6H470.7ZM624.7 180.6H629.2V183.6H624.7ZM475.2 183.6H479.7V186.5H475.2ZM615.6 195.5H620.1V198.5H615.6Z" fill="#0091ff"/><path d="M470.7 138.7H475.2V141.7H470.7ZM470.7 144.7H475.2V147.6H470.7ZM629.2 162.6H633.7V165.6H629.2ZM470.7 183.6H475.2V186.5H470.7Z" fill="#0096ff"/><path d="M475.2 141.7H479.7V144.7H475.2ZM624.7 153.6H629.2V156.6H624.7ZM470.7 156.6H475.2V159.6H470.7ZM466.1 162.6H470.7V165.6H466.1ZM470.7 165.6H475.2V168.6H470.7ZM624.7 165.6H629.2V168.6H624.7ZM624.7 174.6H629.2V177.6H624.7ZM615.6 192.5H620.1V195.5H615.6Z" fill="#009bff"/><path d="M624.7 156.6H629.2V159.6H624.7ZM470.7 162.6H475.2V165.6H470.7ZM470.7 171.6H475.2V174.6H470.7ZM624.7 171.6H629.2V174.6H624.7ZM475.2 177.6H479.7V180.6H475.2Z" fill="#00a0ff"/><path d="M615.6 132.7H620.1V135.7H615.6ZM620.1 141.7H624.7V144.7H620.1ZM624.7 177.6H629.2V180.6H624.7ZM620.1 183.6H624.7V186.5H620.1Z" fill="#00a5ff"/><path d="M470.7 147.6H475.2V150.6H470.7ZM624.7 162.6H629.2V165.6H624.7ZM470.7 174.6H475.2V177.6H470.7ZM620.1 186.5H624.7V189.5H620.1ZM479.7 192.5H484.3V195.5H479.7Z" fill="#00aaff"/><path d="M479.7 132.7H484.3V135.7H479.7ZM475.2 156.6H479.7V159.6H475.2ZM475.2 174.6H479.7V177.6H475.2ZM475.2 186.5H479.7V189.5H475.2ZM606.5 198.5H611.1V201.5H606.5Z" fill="#00afff"/><path d="M620.1 138.7H624.7V141.7H620.1ZM624.7 147.6H629.2V150.6H624.7ZM470.7 150.6H475.2V153.6H470.7ZM475.2 180.6H479.7V183.6H475.2ZM615.6 189.5H620.1V192.5H615.6Z" fill="#00b4ff"/><path d="M611.1 129.7H615.6V132.7H611.1ZM475.2 144.7H479.7V147.6H475.2ZM475.2 147.6H479.7V150.6H475.2ZM624.7 150.6H629.2V153.6H624.7ZM479.7 189.5H484.3V192.5H479.7ZM484.3 195.5H488.8V198.5H484.3ZM488.8 198.5H493.3V201.5H488.8Z" fill="#00b9ff"/><path d="M475.2 138.7H479.7V141.7H475.2ZM475.2 153.6H479.7V156.6H475.2ZM470.7 159.6H475.2V162.6H470.7Z" fill="#00beff"/><path d="M624.7 159.6H629.2V162.6H624.7ZM620.1 165.6H624.7V168.6H620.1ZM475.2 168.6H479.7V171.6H475.2ZM624.7 168.6H629.2V171.6H624.7ZM620.1 180.6H624.7V183.6H620.1ZM479.7 186.5H484.3V189.5H479.7Z" fill="#00c3ff"/><path d="M620.1 144.7H624.7V147.6H620.1Z" fill="#00c8ff"/><path d="M620.1 162.6H624.7V165.6H620.1ZM484.3 192.5H488.8V195.5H484.3ZM611.1 195.5H615.6V198.5H611.1Z" fill="#00cdff"/><path d="M488.8 129.7H493.3V132.7H488.8ZM620.1 159.6H624.7V162.6H620.1ZM475.2 162.6H479.7V165.6H475.2Z" fill="#00d2ff"/><path d="M606.5 129.7H611.1V132.7H606.5ZM615.6 138.7H620.1V141.7H615.6ZM479.7 183.6H484.3V186.5H479.7Z" fill="#00d7ff"/><path d="M479.7 135.7H484.3V138.7H479.7ZM615.6 135.7H620.1V138.7H615.6ZM479.7 141.7H484.3V144.7H479.7ZM475.2 165.6H479.7V168.6H475.2ZM475.2 171.6H479.7V174.6H475.2ZM565.8 198.5H574.8V201.5H565.8Z" fill="#00dcff"/><path d="M611.1 132.7H615.6V135.7H611.1ZM620.1 147.6H624.7V150.6H620.1ZM475.2 150.6H479.7V153.6H475.2ZM620.1 150.6H624.7V153.6H620.1ZM620.1 174.6H624.7V177.6H620.1ZM479.7 177.6H484.3V180.6H479.7ZM620.1 177.6H624.7V180.6H620.1ZM615.6 186.5H620.1V189.5H615.6ZM611.1 192.5H615.6V195.5H611.1ZM493.3 198.5H497.8V201.5H493.3Z" fill="#00e1ff"/><path d="M479.7 138.7H484.3V141.7H479.7ZM620.1 156.6H624.7V159.6H620.1ZM475.2 159.6H479.7V162.6H475.2ZM525.0 198.5H529.6V201.5H525.0Z" fill="#00e6ff"/><path d="M620.1 171.6H624.7V174.6H620.1ZM615.6 177.6H620.1V180.6H615.6ZM574.8 198.5H579.4V201.5H574.8Z" fill="#00ebff"/><path d="M570.3 129.7H574.8V132.7H570.3ZM579.4 198.5H583.9V201.5H579.4Z" fill="#00f0ff"/><path d="M484.3 132.7H488.8V135.7H484.3ZM479.7 144.7H484.3V147.6H479.7ZM620.1 153.6H624.7V156.6H620.1ZM620.1 168.6H624.7V171.6H620.1ZM479.7 180.6H484.3V183.6H479.7ZM615.6 180.6H620.1V183.6H615.6ZM611.1 189.5H615.6V192.5H611.1Z" fill="#00f5ff"/><path d="M479.7 147.6H484.3V150.6H479.7ZM479.7 168.6H484.3V171.6H479.7ZM488.8 195.5H493.3V198.5H488.8ZM520.5 198.5H525.0V201.5H520.5Z" fill="#00faff"/><path d="M479.7 153.6H484.3V156.6H479.7ZM615.6 183.6H620.1V186.5H615.6ZM484.3 186.5H488.8V189.5H484.3Z" fill="#00ffff"/><path d="M615.6 147.6H620.1V150.6H615.6ZM479.7 174.6H484.3V177.6H479.7Z" fill="#05fffa"/><path d="M611.1 135.7H615.6V138.7H611.1ZM611.1 186.5H615.6V189.5H611.1ZM484.3 189.5H488.8V192.5H484.3ZM561.3 198.5H565.8V201.5H561.3Z" fill="#0ffff0"/><path d="M615.6 153.6H620.1V156.6H615.6ZM479.7 171.6H484.3V174.6H479.7ZM606.5 195.5H611.1V198.5H606.5ZM588.4 198.5H593.0V201.5H588.4Z" fill="#14ffeb"/><path d="M484.3 135.7H488.8V138.7H484.3ZM615.6 141.7H620.1V144.7H615.6ZM479.7 150.6H484.3V153.6H479.7ZM615.6 174.6H620.1V177.6H615.6ZM611.1 183.6H615.6V186.5H611.1ZM516.0 198.5H520.5V201.5H516.0Z" fill="#19ffe6"/><path d="M488.8 132.7H493.3V135.7H488.8ZM484.3 141.7H488.8V144.7H484.3ZM615.6 156.6H620.1V159.6H615.6ZM479.7 165.6H484.3V168.6H479.7ZM615.6 168.6H620.1V171.6H615.6ZM615.6 171.6H620.1V174.6H615.6ZM574.8 195.5H579.4V198.5H574.8ZM602.0 198.5H606.5V201.5H602.0Z" fill="#1effe1"/><path d="M602.0 129.7H606.5V132.7H602.0ZM606.5 132.7H611.1V135.7H606.5ZM615.6 144.7H620.1V147.6H615.6ZM615.6 150.6H620.1V153.6H615.6ZM479.7 162.6H484.3V165.6H479.7ZM615.6 162.6H620.1V165.6H615.6ZM615.6 165.6H620.1V168.6H615.6ZM529.6 198.5H534.1V201.5H529.6Z" fill="#23ffdc"/><path d="M579.4 129.7H583.9V132.7H579.4ZM479.7 156.6H484.3V159.6H479.7ZM479.7 159.6H484.3V162.6H479.7ZM488.8 189.5H493.3V192.5H488.8Z" fill="#28ffd7"/><path d="M525.0 129.7H529.6V132.7H525.0ZM615.6 159.6H620.1V162.6H615.6ZM488.8 192.5H493.3V195.5H488.8ZM606.5 192.5H611.1V195.5H606.5ZM579.4 195.5H583.9V198.5H579.4ZM497.8 198.5H502.4V201.5H497.8ZM583.9 198.5H588.4V201.5H583.9Z" fill="#2dffd2"/><path d="M493.3 129.7H497.8V132.7H493.3ZM574.8 129.7H579.4V132.7H574.8ZM484.3 138.7H488.8V141.7H484.3ZM611.1 141.7H615.6V144.7H611.1ZM484.3 180.6H488.8V183.6H484.3ZM611.1 180.6H615.6V183.6H611.1ZM484.3 183.6H488.8V186.5H484.3ZM570.3 195.5H574.8V198.5H570.3Z" fill="#32ffcd"/><path d="M520.5 129.7H525.0V132.7H520.5ZM565.8 129.7H570.3V132.7H565.8Z" fill="#37ffc8"/><path d="M611.1 138.7H615.6V141.7H611.1ZM520.5 195.5H525.0V198.5H520.5ZM565.8 195.5H570.3V198.5H565.8Z" fill="#3cffc3"/><path d="M561.3 129.7H565.8V132.7H561.3ZM484.3 147.6H488.8V150.6H484.3ZM570.3 192.5H574.8V195.5H570.3ZM511.4 198.5H516.0V201.5H511.4Z" fill="#41ffbe"/><path d="M583.9 129.7H588.4V132.7H583.9ZM611.1 144.7H615.6V147.6H611.1ZM611.1 171.6H615.6V174.6H611.1ZM606.5 189.5H611.1V192.5H606.5ZM493.3 195.5H497.8V198.5H493.3ZM525.0 195.5H529.6V198.5H525.0ZM593.0 198.5H602.0V201.5H593.0Z" fill="#46ffb9"/><path d="M611.1 150.6H615.6V153.6H611.1ZM484.3 153.6H488.8V156.6H484.3ZM484.3 177.6H488.8V180.6H484.3ZM561.3 195.5H565.8V198.5H561.3ZM502.4 198.5H506.9V201.5H502.4Z" fill="#4bffb4"/><path d="M484.3 165.6H488.8V168.6H484.3ZM484.3 174.6H488.8V177.6H484.3ZM602.0 195.5H606.5V198.5H602.0Z" fill="#50ffaf"/><path d="M570.3 132.7H574.8V135.7H570.3ZM484.3 159.6H488.8V162.6H484.3ZM611.1 165.6H615.6V168.6H611.1ZM611.1 168.6H615.6V171.6H611.1ZM611.1 174.6H615.6V177.6H611.1ZM506.9 198.5H511.4V201.5H506.9Z" fill="#55ffaa"/><path d="M497.8 129.7H502.4V132.7H497.8ZM565.8 132.7H570.3V135.7H565.8ZM606.5 135.7H611.1V138.7H606.5ZM484.3 162.6H488.8V165.6H484.3ZM611.1 177.6H615.6V180.6H611.1ZM529.6 195.5H534.1V198.5H529.6ZM583.9 195.5H588.4V198.5H583.9Z" fill="#5affa5"/><path d="M484.3 144.7H488.8V147.6H484.3ZM484.3 156.6H488.8V159.6H484.3Z" fill="#5fffa0"/><path d="M574.8 132.7H579.4V135.7H574.8ZM484.3 171.6H488.8V174.6H484.3ZM488.8 186.5H493.3V189.5H488.8ZM606.5 186.5H611.1V189.5H606.5ZM574.8 192.5H579.4V195.5H574.8ZM588.4 195.5H593.0V198.5H588.4Z" fill="#64ff9b"/><path d="M588.4 129.7H593.0V132.7H588.4ZM597.5 129.7H602.0V132.7H597.5ZM484.3 150.6H488.8V153.6H484.3ZM570.3 189.5H574.8V192.5H570.3ZM565.8 192.5H570.3V195.5H565.8ZM556.7 198.5H561.3V201.5H556.7Z" fill="#69ff96"/><path d="M593.0 129.7H597.5V132.7H593.0ZM488.8 135.7H493.3V138.7H488.8ZM606.5 138.7H611.1V141.7H606.5ZM611.1 162.6H615.6V165.6H611.1ZM484.3 168.6H488.8V171.6H484.3Z" fill="#6eff91"/><path d="M611.1 153.6H615.6V156.6H611.1ZM534.1 198.5H538.6V201.5H534.1Z" fill="#73ff8c"/><path d="M529.6 129.7H534.1V132.7H529.6ZM611.1 147.6H615.6V150.6H611.1ZM488.8 180.6H493.3V183.6H488.8ZM488.8 183.6H493.3V186.5H488.8ZM574.8 189.5H579.4V192.5H574.8ZM520.5 192.5H525.0V195.5H520.5ZM497.8 195.5H502.4V198.5H497.8ZM516.0 195.5H520.5V198.5H516.0Z" fill="#78ff87"/><path d="M516.0 129.7H520.5V132.7H516.0ZM493.3 132.7H497.8V135.7H493.3ZM525.0 132.7H529.6V135.7H525.0ZM579.4 132.7H583.9V135.7H579.4ZM602.0 132.7H606.5V135.7H602.0ZM488.8 177.6H493.3V180.6H488.8ZM606.5 183.6H611.1V186.5H606.5ZM565.8 189.5H570.3V192.5H565.8Z" fill="#7dff82"/><path d="M611.1 159.6H615.6V162.6H611.1ZM493.3 192.5H497.8V195.5H493.3ZM561.3 192.5H565.8V195.5H561.3Z" fill="#82ff7d"/><path d="M611.1 156.6H615.6V159.6H611.1ZM579.4 192.5H583.9V195.5H579.4ZM597.5 195.5H602.0V198.5H597.5Z" fill="#87ff78"/><path d="M547.7 159.6H552.2V162.6H547.7Z" fill="#8c0000"/><path d="M565.8 135.7H574.8V138.7H565.8ZM552.2 198.5H556.7V201.5H552.2Z" fill="#8cff73"/><path d="M506.9 129.7H511.4V132.7H506.9ZM583.9 132.7H588.4V135.7H583.9ZM579.4 135.7H583.9V138.7H579.4ZM488.8 138.7H493.3V141.7H488.8ZM488.8 174.6H493.3V177.6H488.8ZM606.5 180.6H611.1V183.6H606.5ZM570.3 186.5H574.8V189.5H570.3ZM497.8 192.5H502.4V195.5H497.8ZM583.9 192.5H588.4V195.5H583.9Z" fill="#91ff6e"/><path d="M547.7 150.6H552.2V153.6H547.7Z" fill="#960000"/><path d="M556.7 129.7H561.3V132.7H556.7ZM493.3 135.7H497.8V138.7H493.3ZM606.5 144.7H611.1V147.6H606.5ZM488.8 168.6H493.3V171.6H488.8ZM493.3 189.5H497.8V192.5H493.3ZM525.0 192.5H529.6V195.5H525.0Z" fill="#96ff69"/><path d="M547.7 165.6H552.2V168.6H547.7Z" fill="#9b0000"/><path d="M502.4 129.7H506.9V132.7H502.4ZM574.8 135.7H579.4V138.7H574.8ZM488.8 141.7H493.3V144.7H488.8ZM493.3 186.5H497.8V189.5H493.3ZM565.8 186.5H570.3V189.5H565.8ZM529.6 192.5H534.1V195.5H529.6ZM588.4 192.5H593.0V195.5H588.4ZM511.4 195.5H516.0V198.5H511.4Z" fill="#9bff64"/><path d="M588.4 132.7H593.0V135.7H588.4ZM570.3 141.7H574.8V144.7H570.3ZM488.8 150.6H493.3V153.6H488.8ZM488.8 156.6H493.3V159.6H488.8ZM488.8 171.6H493.3V174.6H488.8Z" fill="#a0ff5f"/><path d="M547.7 153.6H552.2V156.6H547.7ZM547.7 168.6H552.2V171.6H547.7Z" fill="#a50000"/><path d="M511.4 129.7H516.0V132.7H511.4ZM561.3 132.7H565.8V135.7H561.3ZM570.3 138.7H574.8V141.7H570.3ZM488.8 165.6H493.3V168.6H488.8ZM606.5 174.6H611.1V177.6H606.5ZM606.5 177.6H611.1V180.6H606.5ZM602.0 192.5H606.5V195.5H602.0ZM593.0 195.5H597.5V198.5H593.0Z" fill="#a5ff5a"/><path d="M543.1 156.6H547.7V159.6H543.1ZM543.1 168.6H547.7V171.6H543.1Z" fill="#aa0000"/><path d="M574.8 138.7H579.4V141.7H574.8ZM570.3 177.6H574.8V180.6H570.3ZM579.4 189.5H583.9V192.5H579.4ZM538.6 198.5H543.1V201.5H538.6Z" fill="#aaff55"/><path d="M547.7 162.6H556.7V165.6H547.7Z" fill="#af0000"/><path d="M488.8 147.6H493.3V150.6H488.8ZM525.0 189.5H529.6V192.5H525.0ZM597.5 192.5H602.0V195.5H597.5ZM502.4 195.5H506.9V198.5H502.4Z" fill="#afff50"/><path d="M552.2 153.6H556.7V156.6H552.2ZM543.1 159.6H547.7V162.6H543.1Z" fill="#b40000"/><path d="M534.1 129.7H538.6V132.7H534.1ZM520.5 132.7H525.0V135.7H520.5ZM602.0 135.7H606.5V138.7H602.0ZM565.8 138.7H570.3V141.7H565.8ZM606.5 141.7H611.1V144.7H606.5ZM488.8 144.7H493.3V147.6H488.8ZM574.8 186.5H579.4V189.5H574.8ZM583.9 189.5H588.4V192.5H583.9ZM593.0 192.5H597.5V195.5H593.0ZM556.7 195.5H561.3V198.5H556.7Z" fill="#b4ff4b"/><path d="M547.7 156.6H552.2V159.6H547.7ZM543.1 162.6H547.7V165.6H543.1Z" fill="#b90000"/><path d="M516.0 132.7H520.5V135.7H516.0ZM493.3 138.7H497.8V141.7H493.3ZM570.3 180.6H574.8V183.6H570.3ZM570.3 183.6H574.8V186.5H570.3ZM561.3 189.5H565.8V192.5H561.3ZM516.0 192.5H520.5V195.5H516.0ZM506.9 195.5H511.4V198.5H506.9Z" fill="#b9ff46"/><path d="M547.7 147.6H552.2V150.6H547.7Z" fill="#be0000"/><path d="M488.8 153.6H493.3V156.6H488.8ZM488.8 159.6H493.3V162.6H488.8ZM574.8 183.6H579.4V186.5H574.8ZM579.4 186.5H583.9V189.5H579.4ZM529.6 189.5H534.1V192.5H529.6ZM534.1 195.5H538.6V198.5H534.1ZM547.7 198.5H552.2V201.5H547.7Z" fill="#beff41"/><path d="M547.7 171.6H552.2V174.6H547.7ZM543.1 174.6H552.2V177.6H543.1Z" fill="#c30000"/><path d="M606.5 147.6H611.1V150.6H606.5ZM606.5 171.6H611.1V174.6H606.5ZM565.8 183.6H570.3V186.5H565.8Z" fill="#c3ff3c"/><path d="M552.2 147.6H556.7V150.6H552.2ZM543.1 150.6H547.7V153.6H543.1ZM552.2 150.6H556.7V153.6H552.2ZM552.2 156.6H556.7V159.6H552.2ZM543.1 165.6H547.7V168.6H543.1Z" fill="#c80000"/><path d="M529.6 132.7H534.1V135.7H529.6ZM525.0 135.7H529.6V138.7H525.0ZM561.3 135.7H565.8V138.7H561.3ZM488.8 162.6H493.3V165.6H488.8ZM606.5 162.6H611.1V165.6H606.5ZM493.3 183.6H497.8V186.5H493.3ZM602.0 186.5H606.5V189.5H602.0ZM602.0 189.5H606.5V192.5H602.0ZM543.1 198.5H547.7V201.5H543.1Z" fill="#c8ff37"/><path d="M543.1 144.7H547.7V147.6H543.1ZM543.1 153.6H547.7V156.6H543.1ZM552.2 171.6H556.7V174.6H552.2Z" fill="#cd0000"/><path d="M497.8 132.7H502.4V135.7H497.8ZM570.3 144.7H574.8V147.6H570.3Z" fill="#cdff32"/><path d="M543.1 147.6H547.7V150.6H543.1ZM538.6 150.6H543.1V153.6H538.6ZM547.7 177.6H552.2V180.6H547.7Z" fill="#d20000"/><path d="M556.7 132.7H561.3V135.7H556.7ZM493.3 141.7H497.8V144.7H493.3ZM574.8 144.7H579.4V147.6H574.8ZM561.3 186.5H565.8V189.5H561.3ZM520.5 189.5H525.0V192.5H520.5Z" fill="#d2ff2d"/><path d="M538.6 153.6H543.1V156.6H538.6ZM552.2 168.6H556.7V171.6H552.2Z" fill="#d70000"/><path d="M525.0 138.7H529.6V141.7H525.0ZM579.4 138.7H583.9V141.7H579.4ZM606.5 150.6H611.1V153.6H606.5ZM606.5 159.6H611.1V162.6H606.5ZM565.8 180.6H570.3V183.6H565.8ZM579.4 180.6H583.9V183.6H579.4ZM579.4 183.6H583.9V186.5H579.4Z" fill="#d7ff28"/><path d="M597.5 132.7H602.0V135.7H597.5ZM497.8 135.7H502.4V138.7H497.8ZM520.5 135.7H525.0V138.7H520.5ZM583.9 135.7H588.4V138.7H583.9ZM565.8 141.7H570.3V144.7H565.8ZM565.8 144.7H570.3V147.6H565.8ZM570.3 150.6H574.8V153.6H570.3ZM570.3 162.6H574.8V165.6H570.3ZM570.3 165.6H574.8V168.6H570.3ZM606.5 168.6H611.1V171.6H606.5ZM570.3 174.6H574.8V177.6H570.3ZM525.0 186.5H529.6V189.5H525.0ZM502.4 192.5H506.9V195.5H502.4Z" fill="#dcff23"/><path d="M538.6 165.6H543.1V168.6H538.6ZM538.6 171.6H543.1V174.6H538.6Z" fill="#e10000"/><path d="M511.4 132.7H516.0V135.7H511.4ZM593.0 132.7H597.5V135.7H593.0ZM574.8 150.6H579.4V153.6H574.8ZM574.8 162.6H579.4V165.6H574.8ZM606.5 165.6H611.1V168.6H606.5ZM574.8 180.6H579.4V183.6H574.8ZM520.5 186.5H525.0V189.5H520.5ZM497.8 189.5H502.4V192.5H497.8Z" fill="#e1ff1e"/><path d="M547.7 144.7H552.2V147.6H547.7ZM552.2 159.6H556.7V162.6H552.2ZM543.1 171.6H547.7V174.6H543.1Z" fill="#e60000"/><path d="M502.4 132.7H506.9V135.7H502.4ZM493.3 144.7H497.8V147.6H493.3ZM606.5 153.6H611.1V156.6H606.5ZM574.8 156.6H579.4V159.6H574.8ZM583.9 186.5H588.4V189.5H583.9Z" fill="#e6ff19"/><path d="M552.2 165.6H556.7V168.6H552.2ZM538.6 174.6H543.1V177.6H538.6Z" fill="#eb0000"/><path d="M552.2 129.7H556.7V132.7H552.2ZM506.9 132.7H511.4V135.7H506.9ZM561.3 138.7H565.8V141.7H561.3ZM574.8 141.7H579.4V144.7H574.8ZM570.3 147.6H574.8V150.6H570.3ZM565.8 174.6H570.3V177.6H565.8ZM574.8 177.6H579.4V180.6H574.8ZM602.0 180.6H606.5V183.6H602.0ZM520.5 183.6H525.0V186.5H520.5Z" fill="#ebff14"/><path d="M543.1 141.7H547.7V144.7H543.1ZM538.6 156.6H543.1V159.6H538.6Z" fill="#f00000"/><path d="M529.6 135.7H534.1V138.7H529.6ZM525.0 141.7H529.6V144.7H525.0ZM574.8 147.6H579.4V150.6H574.8ZM570.3 156.6H574.8V159.6H570.3ZM606.5 156.6H611.1V159.6H606.5ZM565.8 165.6H570.3V168.6H565.8ZM574.8 165.6H579.4V168.6H574.8ZM570.3 168.6H574.8V171.6H570.3ZM570.3 171.6H574.8V174.6H570.3ZM565.8 177.6H570.3V180.6H565.8ZM493.3 180.6H497.8V183.6H493.3ZM602.0 183.6H606.5V186.5H602.0ZM588.4 189.5H593.0V192.5H588.4ZM538.6 195.5H543.1V198.5H538.6Z" fill="#f0ff0f"/><path d="M552.2 174.6H556.7V177.6H552.2ZM543.1 177.6H547.7V180.6H543.1ZM547.7 180.6H552.2V183.6H547.7Z" fill="#f50000"/><path d="M497.8 138.7H502.4V141.7H497.8ZM520.5 138.7H525.0V141.7H520.5ZM579.4 144.7H583.9V147.6H579.4ZM493.3 147.6H497.8V150.6H493.3ZM570.3 159.6H574.8V162.6H570.3ZM525.0 183.6H529.6V186.5H525.0ZM561.3 183.6H565.8V186.5H561.3ZM506.9 192.5H511.4V195.5H506.9ZM543.1 195.5H547.7V198.5H543.1Z" fill="#f5ff0a"/><path d="M547.7 141.7H552.2V144.7H547.7ZM538.6 159.6H543.1V162.6H538.6Z" fill="#fa0000"/><path d="M516.0 135.7H520.5V138.7H516.0ZM574.8 174.6H579.4V177.6H574.8ZM529.6 186.5H534.1V189.5H529.6ZM516.0 189.5H520.5V192.5H516.0ZM593.0 189.5H602.0V192.5H593.0Z" fill="#faff05"/><path d="M538.6 162.6H543.1V165.6H538.6ZM538.6 177.6H543.1V180.6H538.6ZM547.7 183.6H552.2V186.5H547.7Z" fill="#ff0000"/><path d="M547.7 138.7H552.2V141.7H547.7ZM538.6 168.6H543.1V171.6H538.6ZM552.2 180.6H556.7V183.6H552.2Z" fill="#ff0500"/><path d="M552.2 144.7H556.7V147.6H552.2ZM534.1 162.6H538.6V165.6H534.1Z" fill="#ff0a00"/><path d="M534.1 156.6H538.6V159.6H534.1Z" fill="#ff0f00"/><path d="M552.2 141.7H556.7V144.7H552.2ZM538.6 144.7H543.1V147.6H538.6ZM538.6 147.6H543.1V150.6H538.6Z" fill="#ff1400"/><path d="M538.6 141.7H543.1V144.7H538.6ZM534.1 150.6H538.6V153.6H534.1ZM552.2 177.6H556.7V180.6H552.2Z" fill="#ff1900"/><path d="M552.2 138.7H556.7V141.7H552.2ZM534.1 165.6H538.6V168.6H534.1ZM543.1 180.6H547.7V183.6H543.1Z" fill="#ff1e00"/><path d="M556.7 156.6H561.3V159.6H556.7ZM506.9 165.6H511.4V168.6H506.9ZM534.1 168.6H538.6V171.6H534.1Z" fill="#ff2300"/><path d="M506.9 156.6H511.4V159.6H506.9ZM506.9 162.6H511.4V165.6H506.9Z" fill="#ff2800"/><path d="M506.9 150.6H511.4V153.6H506.9Z" fill="#ff2d00"/><path d="M534.1 147.6H538.6V150.6H534.1Z" fill="#ff3200"/><path d="M543.1 138.7H547.7V141.7H543.1ZM543.1 183.6H547.7V186.5H543.1Z" fill="#ff3700"/><path d="M556.7 147.6H561.3V150.6H556.7ZM534.1 153.6H538.6V156.6H534.1ZM556.7 162.6H561.3V165.6H556.7ZM511.4 165.6H516.0V168.6H511.4Z" fill="#ff3c00"/><path d="M538.6 138.7H543.1V141.7H538.6ZM511.4 150.6H516.0V153.6H511.4ZM511.4 153.6H516.0V156.6H511.4ZM511.4 156.6H516.0V159.6H511.4ZM534.1 159.6H538.6V162.6H534.1ZM556.7 159.6H561.3V162.6H556.7ZM506.9 168.6H516.0V171.6H506.9ZM552.2 183.6H556.7V186.5H552.2ZM547.7 186.5H552.2V189.5H547.7Z" fill="#ff4100"/><path d="M556.7 150.6H561.3V153.6H556.7ZM506.9 159.6H516.0V162.6H506.9ZM506.9 171.6H511.4V174.6H506.9ZM556.7 171.6H561.3V174.6H556.7ZM534.1 177.6H538.6V180.6H534.1Z" fill="#ff4600"/><path d="M543.1 135.7H547.7V138.7H543.1ZM506.9 144.7H511.4V147.6H506.9ZM556.7 144.7H561.3V147.6H556.7ZM506.9 153.6H511.4V156.6H506.9ZM502.4 159.6H506.9V162.6H502.4ZM534.1 174.6H538.6V177.6H534.1ZM538.6 180.6H543.1V183.6H538.6ZM538.6 183.6H543.1V186.5H538.6Z" fill="#ff4b00"/><path d="M547.7 135.7H552.2V138.7H547.7ZM506.9 147.6H511.4V150.6H506.9ZM556.7 153.6H561.3V156.6H556.7ZM511.4 162.6H516.0V165.6H511.4ZM538.6 186.5H547.7V189.5H538.6Z" fill="#ff5000"/><path d="M511.4 144.7H516.0V147.6H511.4ZM502.4 165.6H506.9V168.6H502.4ZM556.7 165.6H561.3V168.6H556.7ZM534.1 171.6H538.6V174.6H534.1ZM556.7 174.6H561.3V177.6H556.7Z" fill="#ff5500"/><path d="M534.1 144.7H538.6V147.6H534.1ZM556.7 168.6H561.3V171.6H556.7ZM543.1 189.5H547.7V192.5H543.1Z" fill="#ff5a00"/><path d="M502.4 153.6H506.9V156.6H502.4ZM593.0 153.6H597.5V156.6H593.0ZM502.4 156.6H506.9V159.6H502.4ZM593.0 156.6H597.5V159.6H593.0ZM556.7 177.6H561.3V180.6H556.7Z" fill="#ff5f00"/><path d="M502.4 168.6H506.9V171.6H502.4ZM506.9 174.6H511.4V177.6H506.9ZM511.4 177.6H516.0V180.6H511.4ZM552.2 186.5H556.7V189.5H552.2ZM547.7 189.5H552.2V192.5H547.7Z" fill="#ff6400"/><path d="M538.6 135.7H543.1V138.7H538.6ZM588.4 156.6H593.0V159.6H588.4ZM597.5 156.6H602.0V159.6H597.5ZM502.4 162.6H506.9V165.6H502.4ZM593.0 165.6H597.5V168.6H593.0ZM511.4 174.6H516.0V177.6H511.4Z" fill="#ff6900"/><path d="M552.2 135.7H556.7V138.7H552.2ZM502.4 150.6H506.9V153.6H502.4ZM502.4 174.6H506.9V177.6H502.4Z" fill="#ff6e00"/><path d="M547.7 132.7H552.2V135.7H547.7ZM534.1 141.7H538.6V144.7H534.1ZM556.7 141.7H561.3V144.7H556.7ZM593.0 147.6H597.5V150.6H593.0ZM516.0 150.6H520.5V153.6H516.0ZM593.0 159.6H597.5V162.6H593.0ZM516.0 162.6H520.5V165.6H516.0ZM597.5 162.6H602.0V165.6H597.5ZM511.4 171.6H516.0V174.6H511.4ZM552.2 189.5H556.7V192.5H552.2Z" fill="#ff7300"/><path d="M511.4 147.6H516.0V150.6H511.4ZM588.4 162.6H597.5V165.6H588.4ZM534.1 180.6H538.6V183.6H534.1Z" fill="#ff7800"/><path d="M497.8 159.6H502.4V162.6H497.8ZM516.0 171.6H520.5V174.6H516.0Z" fill="#ff7d00"/><path d="M502.4 144.7H506.9V147.6H502.4ZM502.4 147.6H506.9V150.6H502.4ZM597.5 147.6H602.0V150.6H597.5ZM516.0 156.6H520.5V159.6H516.0ZM597.5 168.6H602.0V171.6H597.5ZM588.4 171.6H593.0V174.6H588.4ZM556.7 180.6H561.3V183.6H556.7Z" fill="#ff8200"/><path d="M597.5 165.6H602.0V168.6H597.5ZM593.0 168.6H597.5V171.6H593.0ZM597.5 171.6H602.0V174.6H597.5ZM506.9 183.6H511.4V186.5H506.9ZM534.1 183.6H538.6V186.5H534.1ZM538.6 189.5H543.1V192.5H538.6ZM547.7 192.5H552.2V195.5H547.7Z" fill="#ff8700"/><path d="M516.0 144.7H520.5V147.6H516.0ZM588.4 147.6H593.0V150.6H588.4ZM588.4 150.6H597.5V153.6H588.4ZM516.0 153.6H520.5V156.6H516.0ZM597.5 153.6H602.0V156.6H597.5ZM597.5 159.6H602.0V162.6H597.5ZM497.8 162.6H502.4V165.6H497.8ZM506.9 177.6H511.4V180.6H506.9Z" fill="#ff8c00"/><path d="M552.2 132.7H556.7V135.7H552.2ZM506.9 138.7H511.4V141.7H506.9ZM556.7 138.7H561.3V141.7H556.7ZM593.0 141.7H597.5V144.7H593.0ZM516.0 159.6H520.5V162.6H516.0ZM588.4 168.6H593.0V171.6H588.4ZM502.4 171.6H506.9V174.6H502.4ZM593.0 174.6H597.5V177.6H593.0ZM502.4 177.6H506.9V180.6H502.4ZM593.0 177.6H597.5V180.6H593.0ZM506.9 180.6H511.4V183.6H506.9Z" fill="#ff9100"/><path d="M506.9 141.7H511.4V144.7H506.9ZM588.4 144.7H593.0V147.6H588.4ZM529.6 147.6H534.1V150.6H529.6ZM597.5 150.6H602.0V153.6H597.5ZM516.0 165.6H520.5V168.6H516.0ZM588.4 165.6H593.0V168.6H588.4ZM516.0 168.6H520.5V171.6H516.0ZM529.6 171.6H534.1V174.6H529.6ZM534.1 186.5H538.6V189.5H534.1Z" fill="#ff9600"/><path d="M534.1 138.7H538.6V141.7H534.1ZM511.4 141.7H516.0V144.7H511.4ZM597.5 144.7H602.0V147.6H597.5ZM583.9 153.6H593.0V156.6H583.9ZM588.4 159.6H593.0V162.6H588.4ZM497.8 165.6H502.4V168.6H497.8Z" fill="#ff9b00"/><path d="M502.4 141.7H506.9V144.7H502.4ZM516.0 147.6H520.5V150.6H516.0ZM593.0 171.6H597.5V174.6H593.0ZM588.4 174.6H593.0V177.6H588.4Z" fill="#ffa000"/><path d="M502.4 138.7H506.9V141.7H502.4ZM583.9 150.6H588.4V153.6H583.9ZM561.3 153.6H565.8V156.6H561.3ZM520.5 162.6H525.0V165.6H520.5ZM561.3 162.6H565.8V165.6H561.3ZM529.6 174.6H534.1V177.6H529.6ZM556.7 183.6H561.3V186.5H556.7ZM506.9 186.5H511.4V189.5H506.9ZM552.2 192.5H556.7V195.5H552.2Z" fill="#ffa500"/><path d="M556.7 135.7H561.3V138.7H556.7ZM593.0 144.7H597.5V147.6H593.0ZM497.8 150.6H502.4V153.6H497.8ZM529.6 150.6H534.1V153.6H529.6ZM529.6 153.6H534.1V156.6H529.6ZM529.6 159.6H534.1V162.6H529.6ZM583.9 159.6H588.4V162.6H583.9ZM497.8 168.6H502.4V171.6H497.8ZM602.0 168.6H606.5V171.6H602.0ZM511.4 180.6H516.0V183.6H511.4Z" fill="#ffaa00"/><path d="M520.5 153.6H525.0V156.6H520.5ZM497.8 156.6H502.4V159.6H497.8ZM520.5 156.6H534.1V159.6H520.5ZM520.5 159.6H529.6V162.6H520.5ZM529.6 162.6H534.1V165.6H529.6ZM529.6 165.6H534.1V168.6H529.6ZM597.5 174.6H602.0V177.6H597.5ZM597.5 177.6H602.0V180.6H597.5ZM511.4 186.5H516.0V189.5H511.4ZM538.6 192.5H547.7V195.5H538.6Z" fill="#ffaf00"/><path d="M538.6 132.7H543.1V135.7H538.6ZM497.8 144.7H502.4V147.6H497.8ZM497.8 153.6H502.4V156.6H497.8ZM561.3 156.6H565.8V159.6H561.3ZM602.0 156.6H606.5V159.6H602.0ZM561.3 159.6H565.8V162.6H561.3ZM520.5 168.6H525.0V171.6H520.5ZM529.6 168.6H534.1V171.6H529.6ZM561.3 168.6H565.8V171.6H561.3ZM516.0 174.6H520.5V177.6H516.0ZM516.0 177.6H520.5V180.6H516.0ZM593.0 180.6H597.5V183.6H593.0ZM511.4 183.6H516.0V186.5H511.4ZM534.1 189.5H538.6V192.5H534.1Z" fill="#ffb400"/><path d="M543.1 132.7H547.7V135.7H543.1ZM520.5 147.6H525.0V150.6H520.5ZM520.5 150.6H525.0V153.6H520.5ZM561.3 150.6H565.8V153.6H561.3ZM602.0 150.6H606.5V153.6H602.0ZM525.0 153.6H529.6V156.6H525.0ZM525.0 162.6H529.6V165.6H525.0ZM583.9 162.6H588.4V165.6H583.9ZM602.0 162.6H606.5V165.6H602.0ZM525.0 165.6H529.6V168.6H525.0ZM561.3 171.6H565.8V174.6H561.3ZM583.9 171.6H588.4V174.6H583.9ZM529.6 177.6H534.1V180.6H529.6Z" fill="#ffb900"/><path d="M511.4 138.7H516.0V141.7H511.4ZM597.5 141.7H602.0V144.7H597.5ZM497.8 147.6H502.4V150.6H497.8ZM583.9 156.6H588.4V159.6H583.9ZM520.5 165.6H525.0V168.6H520.5ZM583.9 165.6H588.4V168.6H583.9ZM602.0 165.6H606.5V168.6H602.0ZM502.4 180.6H506.9V183.6H502.4Z" fill="#ffbe00"/><path d="M597.5 138.7H602.0V141.7H597.5ZM529.6 141.7H534.1V144.7H529.6ZM588.4 141.7H593.0V144.7H588.4ZM525.0 150.6H529.6V153.6H525.0ZM602.0 159.6H606.5V162.6H602.0ZM579.4 165.6H583.9V168.6H579.4ZM583.9 168.6H588.4V171.6H583.9ZM497.8 171.6H502.4V174.6H497.8ZM602.0 174.6H606.5V177.6H602.0ZM497.8 177.6H502.4V180.6H497.8ZM588.4 180.6H593.0V183.6H588.4Z" fill="#ffc300"/><path d="M506.9 135.7H511.4V138.7H506.9ZM583.9 147.6H588.4V150.6H583.9ZM561.3 165.6H565.8V168.6H561.3ZM561.3 174.6H565.8V177.6H561.3ZM588.4 177.6H593.0V180.6H588.4ZM597.5 180.6H602.0V183.6H597.5Z" fill="#ffc800"/><path d="M511.4 135.7H516.0V138.7H511.4ZM534.1 135.7H538.6V138.7H534.1ZM516.0 141.7H520.5V144.7H516.0ZM602.0 147.6H606.5V150.6H602.0ZM497.8 174.6H502.4V177.6H497.8ZM520.5 174.6H525.0V177.6H520.5ZM520.5 177.6H525.0V180.6H520.5ZM497.8 180.6H502.4V183.6H497.8ZM502.4 183.6H506.9V186.5H502.4ZM588.4 183.6H593.0V186.5H588.4ZM556.7 186.5H561.3V189.5H556.7Z" fill="#ffcd00"/><path d="M516.0 138.7H520.5V141.7H516.0ZM525.0 144.7H529.6V147.6H525.0ZM579.4 147.6H583.9V150.6H579.4ZM516.0 180.6H520.5V183.6H516.0ZM516.0 183.6H520.5V186.5H516.0Z" fill="#ffd200"/><path d="M593.0 135.7H597.5V138.7H593.0ZM529.6 144.7H534.1V147.6H529.6ZM493.3 165.6H497.8V168.6H493.3ZM520.5 171.6H525.0V174.6H520.5ZM602.0 171.6H606.5V174.6H602.0ZM583.9 174.6H588.4V177.6H583.9ZM502.4 186.5H506.9V189.5H502.4ZM556.7 189.5H561.3V192.5H556.7Z" fill="#ffd700"/><path d="M547.7 129.7H552.2V132.7H547.7ZM593.0 138.7H597.5V141.7H593.0ZM497.8 141.7H502.4V144.7H497.8ZM520.5 141.7H525.0V144.7H520.5ZM602.0 153.6H606.5V156.6H602.0ZM579.4 156.6H583.9V159.6H579.4ZM579.4 159.6H583.9V162.6H579.4ZM529.6 180.6H534.1V183.6H529.6ZM583.9 180.6H588.4V183.6H583.9ZM593.0 183.6H597.5V186.5H593.0Z" fill="#ffdc00"/><path d="M534.1 132.7H538.6V135.7H534.1ZM561.3 141.7H565.8V144.7H561.3ZM525.0 147.6H529.6V150.6H525.0ZM561.3 147.6H565.8V150.6H561.3ZM493.3 156.6H497.8V159.6H493.3ZM525.0 168.6H529.6V171.6H525.0ZM579.4 168.6H583.9V171.6H579.4ZM525.0 174.6H529.6V177.6H525.0ZM525.0 177.6H529.6V180.6H525.0ZM588.4 186.5H593.0V189.5H588.4Z" fill="#ffe100"/><path d="M588.4 138.7H593.0V141.7H588.4ZM602.0 144.7H606.5V147.6H602.0ZM565.8 150.6H570.3V153.6H565.8ZM602.0 177.6H606.5V180.6H602.0ZM593.0 186.5H597.5V189.5H593.0ZM502.4 189.5H511.4V192.5H502.4Z" fill="#ffe600"/><path d="M543.1 129.7H547.7V132.7H543.1ZM583.9 144.7H588.4V147.6H583.9ZM565.8 156.6H570.3V159.6H565.8ZM565.8 159.6H570.3V162.6H565.8ZM565.8 168.6H570.3V171.6H565.8ZM583.9 183.6H588.4V186.5H583.9ZM597.5 183.6H602.0V186.5H597.5ZM516.0 186.5H520.5V189.5H516.0Z" fill="#ffeb00"/><path d="M561.3 144.7H565.8V147.6H561.3ZM565.8 147.6H570.3V150.6H565.8ZM574.8 153.6H579.4V156.6H574.8ZM493.3 171.6H497.8V174.6H493.3ZM565.8 171.6H570.3V174.6H565.8ZM579.4 171.6H583.9V174.6H579.4ZM583.9 177.6H588.4V180.6H583.9ZM497.8 186.5H502.4V189.5H497.8ZM547.7 195.5H556.7V198.5H547.7Z" fill="#fff000"/><path d="M502.4 135.7H506.9V138.7H502.4ZM588.4 135.7H593.0V138.7H588.4ZM597.5 135.7H602.0V138.7H597.5ZM583.9 138.7H588.4V141.7H583.9ZM579.4 141.7H583.9V144.7H579.4ZM602.0 141.7H606.5V144.7H602.0ZM574.8 159.6H579.4V162.6H574.8ZM493.3 162.6H497.8V165.6H493.3ZM579.4 162.6H583.9V165.6H579.4ZM574.8 168.6H579.4V171.6H574.8ZM525.0 171.6H529.6V174.6H525.0ZM579.4 174.6H583.9V177.6H579.4ZM561.3 177.6H565.8V180.6H561.3ZM579.4 177.6H583.9V180.6H579.4ZM561.3 180.6H565.8V183.6H561.3ZM497.8 183.6H502.4V186.5H497.8ZM597.5 186.5H602.0V189.5H597.5Z" fill="#fff500"/><path d="M602.0 138.7H606.5V141.7H602.0ZM583.9 141.7H588.4V144.7H583.9ZM520.5 144.7H525.0V147.6H520.5ZM493.3 159.6H497.8V162.6H493.3ZM529.6 183.6H534.1V186.5H529.6ZM534.1 192.5H538.6V195.5H534.1ZM556.7 192.5H561.3V195.5H556.7Z" fill="#fffa00"/><path d="M538.6 129.7H543.1V132.7H538.6ZM529.6 138.7H534.1V141.7H529.6ZM493.3 150.6H497.8V153.6H493.3ZM579.4 150.6H583.9V153.6H579.4ZM493.3 153.6H497.8V156.6H493.3ZM565.8 153.6H574.8V156.6H565.8ZM579.4 153.6H583.9V156.6H579.4ZM565.8 162.6H570.3V165.6H565.8ZM493.3 168.6H497.8V171.6H493.3ZM574.8 171.6H579.4V174.6H574.8ZM493.3 174.6H497.8V177.6H493.3ZM493.3 177.6H497.8V180.6H493.3ZM520.5 180.6H529.6V183.6H520.5ZM511.4 189.5H516.0V192.5H511.4ZM511.4 192.5H516.0V195.5H511.4Z" fill="#ffff00"/></g>
<g shape-rendering="crispEdges"><path d="M171.7 224.1H176.2V227.1H171.7ZM63.4 227.1H67.9V230.1H63.4ZM108.5 227.1H113.0V230.1H108.5ZM189.7 227.1H194.2V230.1H189.7ZM72.4 251.1H76.9V254.1H72.4Z" fill="#000082"/><path d="M126.5 227.1H131.1V230.1H126.5ZM262.0 227.1H271.0V230.1H262.0ZM76.9 251.1H81.4V254.1H76.9ZM104.0 251.1H108.5V254.1H104.0ZM275.5 251.1H280.0V254.1H275.5ZM225.8 254.1H230.4V257.1H225.8Z" fill="#000087"/><path d="M67.9 227.1H72.4V230.1H67.9ZM243.9 227.1H262.0V230.1H243.9ZM49.8 248.1H54.3V251.1H49.8ZM135.6 251.1H140.1V254.1H135.6Z" fill="#00008c"/><path d="M72.4 227.1H76.9V230.1H72.4ZM239.4 227.1H243.9V230.1H239.4ZM49.8 230.1H54.3V233.1H49.8ZM81.4 251.1H85.9V254.1H81.4ZM189.7 251.1H198.8V254.1H189.7Z" fill="#000091"/><path d="M153.6 224.1H158.1V227.1H153.6ZM271.0 251.1H275.5V254.1H271.0Z" fill="#000096"/><path d="M167.2 224.1H171.7V227.1H167.2ZM76.9 227.1H81.4V230.1H76.9ZM289.0 230.1H293.5V233.1H289.0ZM85.9 251.1H90.4V254.1H85.9Z" fill="#00009b"/><path d="M131.1 227.1H135.6V230.1H131.1ZM198.8 227.1H203.3V230.1H198.8ZM234.9 227.1H239.4V230.1H234.9ZM289.0 248.1H293.5V251.1H289.0ZM207.8 254.1H212.3V257.1H207.8Z" fill="#0000a0"/><path d="M81.4 227.1H85.9V230.1H81.4ZM104.0 227.1H108.5V230.1H104.0ZM90.4 251.1H94.9V254.1H90.4ZM140.1 251.1H144.6V254.1H140.1ZM266.5 251.1H271.0V254.1H266.5ZM221.3 254.1H225.8V257.1H221.3Z" fill="#0000a5"/><path d="M162.7 224.1H167.2V227.1H162.7ZM99.5 251.1H104.0V254.1H99.5ZM262.0 251.1H266.5V254.1H262.0Z" fill="#0000aa"/><path d="M85.9 227.1H90.4V230.1H85.9ZM54.3 248.1H58.8V251.1H54.3ZM117.5 248.1H122.0V251.1H117.5ZM257.4 251.1H262.0V254.1H257.4Z" fill="#0000af"/><path d="M185.2 227.1H189.7V230.1H185.2ZM230.4 227.1H234.9V230.1H230.4ZM94.9 251.1H99.5V254.1H94.9ZM185.2 251.1H189.7V254.1H185.2ZM252.9 251.1H257.4V254.1H252.9Z" fill="#0000b4"/><path d="M158.1 224.1H162.7V227.1H158.1ZM54.3 230.1H58.8V233.1H54.3Z" fill="#0000b9"/><path d="M135.6 227.1H140.1V230.1H135.6ZM113.0 248.1H117.5V251.1H113.0ZM248.4 251.1H252.9V254.1H248.4Z" fill="#0000be"/><path d="M90.4 227.1H94.9V230.1H90.4ZM284.5 230.1H289.0V233.1H284.5ZM243.9 251.1H248.4V254.1H243.9Z" fill="#0000c3"/><path d="M289.0 233.1H293.5V236.1H289.0ZM49.8 245.1H54.3V248.1H49.8ZM122.0 248.1H126.5V251.1H122.0ZM284.5 248.1H289.0V251.1H284.5ZM144.6 251.1H149.1V254.1H144.6ZM239.4 251.1H243.9V254.1H239.4Z" fill="#0000c8"/><path d="M49.8 233.1H54.3V236.1H49.8ZM289.0 245.1H293.5V248.1H289.0ZM58.8 248.1H63.4V251.1H58.8ZM216.8 254.1H221.3V257.1H216.8Z" fill="#0000cd"/><path d="M94.9 227.1H104.0V230.1H94.9ZM117.5 230.1H122.0V233.1H117.5ZM280.0 230.1H284.5V233.1H280.0ZM63.4 248.1H67.9V251.1H63.4Z" fill="#0000d2"/><path d="M203.3 227.1H207.8V230.1H203.3ZM225.8 227.1H230.4V230.1H225.8ZM58.8 230.1H63.4V233.1H58.8Z" fill="#0000d7"/><path d="M63.4 230.1H67.9V233.1H63.4ZM289.0 236.1H293.5V239.1H289.0ZM289.0 242.1H293.5V245.1H289.0ZM67.9 248.1H72.4V251.1H67.9ZM180.7 251.1H185.2V254.1H180.7ZM198.8 251.1H203.3V254.1H198.8ZM234.9 251.1H239.4V254.1H234.9Z" fill="#0000dc"/><path d="M140.1 227.1H144.6V230.1H140.1ZM113.0 230.1H117.5V233.1H113.0ZM289.0 239.1H293.5V242.1H289.0ZM72.4 248.1H76.9V251.1H72.4ZM280.0 248.1H284.5V251.1H280.0Z" fill="#0000e1"/><path d="M67.9 230.1H72.4V233.1H67.9ZM275.5 230.1H280.0V233.1H275.5ZM49.8 236.1H54.3V239.1H49.8ZM49.8 242.1H54.3V245.1H49.8ZM76.9 248.1H81.4V251.1H76.9ZM126.5 248.1H131.1V251.1H126.5Z" fill="#0000e6"/><path d="M49.8 239.1H54.3V242.1H49.8ZM212.3 254.1H216.8V257.1H212.3Z" fill="#0000eb"/><path d="M72.4 230.1H76.9V233.1H72.4ZM122.0 230.1H126.5V233.1H122.0ZM108.5 248.1H113.0V251.1H108.5ZM149.1 251.1H153.6V254.1H149.1Z" fill="#0000f0"/><path d="M76.9 230.1H81.4V233.1H76.9Z" fill="#0000f5"/><path d="M180.7 227.1H185.2V230.1H180.7ZM271.0 230.1H275.5V233.1H271.0ZM54.3 245.1H58.8V248.1H54.3ZM81.4 248.1H85.9V251.1H81.4ZM275.5 248.1H280.0V251.1H275.5Z" fill="#0000fa"/><path d="M54.3 233.1H58.8V236.1H54.3ZM230.4 251.1H234.9V254.1H230.4Z" fill="#0000ff"/><path d="M221.3 227.1H225.8V230.1H221.3Z" fill="#0005ff"/><path d="M144.6 227.1H149.1V230.1H144.6ZM81.4 230.1H85.9V233.1H81.4ZM262.0 230.1H271.0V233.1H262.0ZM284.5 233.1H289.0V236.1H284.5ZM85.9 248.1H90.4V251.1H85.9ZM131.1 248.1H135.6V251.1H131.1ZM176.2 251.1H180.7V254.1H176.2Z" fill="#000aff"/><path d="M126.5 230.1H131.1V233.1H126.5ZM257.4 230.1H262.0V233.1H257.4ZM284.5 245.1H289.0V248.1H284.5ZM271.0 248.1H275.5V251.1H271.0Z" fill="#000fff"/><path d="M108.5 230.1H113.0V233.1H108.5ZM248.4 230.1H257.4V233.1H248.4ZM58.8 245.1H63.4V248.1H58.8Z" fill="#0014ff"/><path d="M207.8 227.1H212.3V230.1H207.8ZM239.4 230.1H248.4V233.1H239.4ZM58.8 233.1H63.4V236.1H58.8ZM54.3 242.1H58.8V245.1H54.3ZM63.4 245.1H67.9V248.1H63.4Z" fill="#0019ff"/><path d="M85.9 230.1H90.4V233.1H85.9ZM63.4 233.1H67.9V236.1H63.4ZM54.3 236.1H58.8V239.1H54.3ZM54.3 239.1H58.8V242.1H54.3ZM117.5 245.1H122.0V248.1H117.5Z" fill="#001eff"/><path d="M67.9 245.1H72.4V248.1H67.9ZM104.0 248.1H108.5V251.1H104.0ZM266.5 248.1H271.0V251.1H266.5ZM153.6 251.1H158.1V254.1H153.6Z" fill="#0023ff"/><path d="M67.9 233.1H72.4V236.1H67.9ZM280.0 233.1H284.5V236.1H280.0ZM72.4 245.1H76.9V248.1H72.4ZM171.7 251.1H176.2V254.1H171.7Z" fill="#0028ff"/><path d="M72.4 233.1H76.9V236.1H72.4ZM284.5 236.1H289.0V239.1H284.5ZM284.5 242.1H289.0V245.1H284.5ZM76.9 245.1H81.4V248.1H76.9ZM262.0 248.1H266.5V251.1H262.0Z" fill="#002dff"/><path d="M216.8 227.1H221.3V230.1H216.8ZM234.9 230.1H239.4V233.1H234.9ZM117.5 233.1H122.0V236.1H117.5ZM58.8 236.1H63.4V239.1H58.8ZM284.5 239.1H289.0V242.1H284.5ZM58.8 242.1H63.4V245.1H58.8ZM113.0 245.1H117.5V248.1H113.0ZM280.0 245.1H284.5V248.1H280.0ZM90.4 248.1H94.9V251.1H90.4ZM135.6 248.1H140.1V251.1H135.6ZM167.2 251.1H171.7V254.1H167.2Z" fill="#0032ff"/><path d="M131.1 230.1H135.6V233.1H131.1ZM76.9 233.1H81.4V236.1H76.9ZM58.8 239.1H63.4V242.1H58.8ZM257.4 248.1H262.0V251.1H257.4Z" fill="#0037ff"/><path d="M63.4 236.1H67.9V239.1H63.4ZM63.4 242.1H67.9V245.1H63.4ZM122.0 245.1H126.5V248.1H122.0ZM252.9 248.1H257.4V251.1H252.9ZM203.3 251.1H207.8V254.1H203.3ZM225.8 251.1H230.4V254.1H225.8Z" fill="#003cff"/><path d="M149.1 227.1H153.6V230.1H149.1ZM63.4 239.1H67.9V242.1H63.4ZM67.9 242.1H72.4V245.1H67.9ZM248.4 248.1H252.9V251.1H248.4ZM162.7 251.1H167.2V254.1H162.7Z" fill="#0041ff"/><path d="M104.0 230.1H108.5V233.1H104.0ZM113.0 233.1H117.5V236.1H113.0ZM275.5 233.1H280.0V236.1H275.5ZM67.9 236.1H72.4V239.1H67.9ZM67.9 239.1H72.4V242.1H67.9ZM72.4 242.1H76.9V245.1H72.4ZM81.4 245.1H85.9V248.1H81.4ZM243.9 248.1H248.4V251.1H243.9Z" fill="#0046ff"/><path d="M176.2 227.1H180.7V230.1H176.2ZM90.4 230.1H94.9V233.1H90.4ZM194.2 230.1H198.8V233.1H194.2ZM72.4 236.1H76.9V239.1H72.4ZM72.4 239.1H76.9V242.1H72.4ZM76.9 242.1H81.4V245.1H76.9Z" fill="#004bff"/><path d="M212.3 227.1H216.8V230.1H212.3ZM81.4 233.1H85.9V236.1H81.4ZM76.9 236.1H81.4V239.1H76.9ZM280.0 236.1H284.5V239.1H280.0ZM275.5 245.1H280.0V248.1H275.5ZM94.9 248.1H99.5V251.1H94.9ZM239.4 248.1H243.9V251.1H239.4ZM158.1 251.1H162.7V254.1H158.1Z" fill="#0050ff"/><path d="M230.4 230.1H234.9V233.1H230.4ZM122.0 233.1H126.5V236.1H122.0ZM76.9 239.1H81.4V242.1H76.9ZM117.5 242.1H122.0V245.1H117.5ZM280.0 242.1H284.5V245.1H280.0ZM99.5 248.1H104.0V251.1H99.5Z" fill="#0055ff"/><path d="M271.0 233.1H275.5V236.1H271.0ZM117.5 236.1H122.0V239.1H117.5ZM280.0 239.1H284.5V242.1H280.0ZM140.1 248.1H144.6V251.1H140.1Z" fill="#005aff"/><path d="M117.5 239.1H122.0V242.1H117.5Z" fill="#005fff"/><path d="M135.6 230.1H140.1V233.1H135.6ZM85.9 245.1H90.4V248.1H85.9ZM126.5 245.1H131.1V248.1H126.5Z" fill="#0064ff"/><path d="M189.7 230.1H194.2V233.1H189.7ZM81.4 236.1H85.9V239.1H81.4ZM81.4 242.1H85.9V245.1H81.4ZM113.0 242.1H117.5V245.1H113.0ZM271.0 245.1H275.5V248.1H271.0Z" fill="#0069ff"/><path d="M94.9 230.1H99.5V233.1H94.9ZM85.9 233.1H90.4V236.1H85.9ZM266.5 233.1H271.0V236.1H266.5ZM113.0 236.1H117.5V239.1H113.0ZM275.5 236.1H280.0V239.1H275.5ZM81.4 239.1H85.9V242.1H81.4ZM108.5 245.1H113.0V248.1H108.5ZM234.9 248.1H239.4V251.1H234.9Z" fill="#006eff"/><path d="M113.0 239.1H117.5V242.1H113.0ZM275.5 242.1H280.0V245.1H275.5Z" fill="#0073ff"/><path d="M99.5 230.1H104.0V233.1H99.5ZM262.0 233.1H266.5V236.1H262.0ZM275.5 239.1H280.0V242.1H275.5ZM122.0 242.1H126.5V245.1H122.0Z" fill="#0078ff"/><path d="M126.5 233.1H131.1V236.1H126.5ZM257.4 233.1H262.0V236.1H257.4ZM266.5 245.1H271.0V248.1H266.5ZM189.7 248.1H198.8V251.1H189.7Z" fill="#007dff"/><path d="M153.6 227.1H158.1V230.1H153.6ZM252.9 233.1H257.4V236.1H252.9ZM122.0 236.1H126.5V239.1H122.0Z" fill="#0082ff"/><path d="M108.5 233.1H113.0V236.1H108.5ZM243.9 233.1H252.9V236.1H243.9ZM122.0 239.1H126.5V242.1H122.0ZM262.0 245.1H266.5V248.1H262.0ZM221.3 251.1H225.8V254.1H221.3Z" fill="#0087ff"/><path d="M171.7 227.1H176.2V230.1H171.7ZM239.4 233.1H243.9V236.1H239.4ZM85.9 236.1H90.4V239.1H85.9ZM271.0 236.1H275.5V239.1H271.0ZM85.9 242.1H90.4V245.1H85.9ZM271.0 242.1H275.5V245.1H271.0ZM144.6 248.1H149.1V251.1H144.6Z" fill="#008cff"/><path d="M140.1 230.1H144.6V233.1H140.1ZM198.8 230.1H203.3V233.1H198.8ZM85.9 239.1H90.4V242.1H85.9ZM271.0 239.1H275.5V242.1H271.0ZM131.1 245.1H135.6V248.1H131.1ZM257.4 245.1H262.0V248.1H257.4Z" fill="#0091ff"/><path d="M252.9 245.1H257.4V248.1H252.9ZM230.4 248.1H234.9V251.1H230.4Z" fill="#009bff"/><path d="M225.8 230.1H230.4V233.1H225.8ZM266.5 236.1H271.0V239.1H266.5ZM126.5 242.1H131.1V245.1H126.5ZM90.4 245.1H94.9V248.1H90.4ZM248.4 245.1H252.9V248.1H248.4ZM207.8 251.1H212.3V254.1H207.8Z" fill="#00a0ff"/><path d="M266.5 242.1H271.0V245.1H266.5ZM243.9 245.1H248.4V248.1H243.9Z" fill="#00a5ff"/><path d="M167.2 227.1H171.7V230.1H167.2ZM234.9 233.1H239.4V236.1H234.9ZM126.5 236.1H131.1V239.1H126.5ZM262.0 236.1H266.5V239.1H262.0ZM266.5 239.1H271.0V242.1H266.5ZM239.4 245.1H243.9V248.1H239.4Z" fill="#00aaff"/><path d="M90.4 233.1H94.9V236.1H90.4ZM131.1 233.1H135.6V236.1H131.1ZM126.5 239.1H131.1V242.1H126.5ZM108.5 242.1H113.0V245.1H108.5ZM262.0 242.1H266.5V245.1H262.0ZM104.0 245.1H108.5V248.1H104.0Z" fill="#00afff"/><path d="M162.7 227.1H167.2V230.1H162.7ZM257.4 236.1H262.0V239.1H257.4ZM262.0 239.1H266.5V242.1H262.0Z" fill="#00b4ff"/><path d="M158.1 227.1H162.7V230.1H158.1ZM108.5 236.1H113.0V239.1H108.5ZM252.9 236.1H257.4V239.1H252.9ZM257.4 242.1H262.0V245.1H257.4ZM185.2 248.1H189.7V251.1H185.2Z" fill="#00b9ff"/><path d="M185.2 230.1H189.7V233.1H185.2ZM248.4 236.1H252.9V239.1H248.4ZM108.5 239.1H113.0V242.1H108.5ZM257.4 239.1H262.0V242.1H257.4ZM252.9 242.1H257.4V245.1H252.9Z" fill="#00beff"/><path d="M104.0 233.1H108.5V236.1H104.0ZM243.9 236.1H248.4V239.1H243.9ZM252.9 239.1H257.4V242.1H252.9ZM248.4 242.1H252.9V245.1H248.4ZM135.6 245.1H140.1V248.1H135.6Z" fill="#00c3ff"/><path d="M239.4 236.1H243.9V239.1H239.4ZM248.4 239.1H252.9V242.1H248.4ZM243.9 242.1H248.4V245.1H243.9Z" fill="#00c8ff"/><path d="M144.6 230.1H149.1V233.1H144.6ZM243.9 239.1H248.4V242.1H243.9ZM239.4 242.1H243.9V245.1H239.4ZM94.9 245.1H99.5V248.1H94.9ZM234.9 245.1H239.4V248.1H234.9ZM216.8 251.1H221.3V254.1H216.8Z" fill="#00cdff"/><path d="M239.4 239.1H243.9V242.1H239.4ZM90.4 242.1H94.9V245.1H90.4Z" fill="#00d2ff"/><path d="M90.4 236.1H94.9V239.1H90.4ZM131.1 242.1H135.6V245.1H131.1ZM149.1 248.1H153.6V251.1H149.1Z" fill="#00d7ff"/><path d="M94.9 233.1H99.5V236.1H94.9ZM230.4 233.1H234.9V236.1H230.4ZM131.1 236.1H135.6V239.1H131.1ZM90.4 239.1H94.9V242.1H90.4ZM198.8 248.1H203.3V251.1H198.8Z" fill="#00dcff"/><path d="M135.6 233.1H140.1V236.1H135.6ZM99.5 245.1H104.0V248.1H99.5Z" fill="#00e1ff"/><path d="M203.3 230.1H207.8V233.1H203.3ZM131.1 239.1H135.6V242.1H131.1Z" fill="#00e6ff"/><path d="M234.9 236.1H239.4V239.1H234.9Z" fill="#00ebff"/><path d="M140.1 245.1H144.6V248.1H140.1Z" fill="#00f0ff"/><path d="M221.3 230.1H225.8V233.1H221.3ZM99.5 233.1H104.0V236.1H99.5ZM234.9 239.1H239.4V242.1H234.9ZM104.0 242.1H108.5V245.1H104.0ZM234.9 242.1H239.4V245.1H234.9ZM212.3 251.1H216.8V254.1H212.3Z" fill="#00f5ff"/><path d="M104.0 236.1H108.5V239.1H104.0ZM225.8 248.1H230.4V251.1H225.8Z" fill="#00faff"/><path d="M104.0 239.1H108.5V242.1H104.0Z" fill="#00ffff"/><path d="M230.4 245.1H234.9V248.1H230.4Z" fill="#05fffa"/><path d="M94.9 242.1H99.5V245.1H94.9ZM135.6 242.1H140.1V245.1H135.6ZM180.7 248.1H185.2V251.1H180.7Z" fill="#0afff5"/><path d="M271.0 227.1H275.5V230.1H271.0Z" fill="#0f0f7d"/><path d="M94.9 236.1H99.5V239.1H94.9Z" fill="#0ffff0"/><path d="M58.8 227.1H63.4V230.1H58.8ZM67.9 251.1H72.4V254.1H67.9Z" fill="#14147d"/><path d="M140.1 233.1H144.6V236.1H140.1ZM135.6 236.1H140.1V239.1H135.6ZM94.9 239.1H99.5V242.1H94.9Z" fill="#14ffeb"/><path d="M280.0 251.1H284.5V254.1H280.0Z" fill="#19197d"/><path d="M149.1 224.1H153.6V227.1H149.1ZM212.3 224.1H216.8V227.1H212.3ZM63.4 251.1H67.9V254.1H63.4Z" fill="#191982"/><path d="M135.6 239.1H140.1V242.1H135.6Z" fill="#19ffe6"/><path d="M275.5 227.1H280.0V230.1H275.5ZM131.1 251.1H135.6V254.1H131.1Z" fill="#1e1e82"/><path d="M230.4 236.1H234.9V239.1H230.4Z" fill="#1effe1"/><path d="M194.2 227.1H198.8V230.1H194.2ZM58.8 251.1H63.4V254.1H58.8ZM158.1 254.1H162.7V257.1H158.1Z" fill="#232387"/><path d="M99.5 242.1H104.0V245.1H99.5Z" fill="#23ffdc"/><path d="M122.0 227.1H126.5V230.1H122.0ZM280.0 227.1H284.5V230.1H280.0ZM284.5 251.1H289.0V254.1H284.5ZM230.4 254.1H234.9V257.1H230.4Z" fill="#282887"/><path d="M149.1 230.1H153.6V233.1H149.1ZM230.4 242.1H234.9V245.1H230.4Z" fill="#28ffd7"/><path d="M99.5 236.1H104.0V239.1H99.5ZM230.4 239.1H234.9V242.1H230.4Z" fill="#2dffd2"/><path d="M216.8 224.1H221.3V227.1H216.8Z" fill="#32328c"/><path d="M284.5 227.1H289.0V230.1H284.5Z" fill="#323291"/><path d="M180.7 230.1H185.2V233.1H180.7ZM207.8 230.1H212.3V233.1H207.8ZM194.2 233.1H198.8V236.1H194.2ZM99.5 239.1H104.0V242.1H99.5ZM144.6 245.1H149.1V248.1H144.6ZM153.6 248.1H158.1V251.1H153.6Z" fill="#32ffcd"/><path d="M113.0 227.1H117.5V230.1H113.0ZM108.5 251.1H113.0V254.1H108.5ZM126.5 251.1H131.1V254.1H126.5ZM289.0 251.1H293.5V254.1H289.0ZM162.7 254.1H167.2V257.1H162.7ZM203.3 254.1H207.8V257.1H203.3Z" fill="#373791"/><path d="M144.6 224.1H149.1V227.1H144.6ZM54.3 227.1H58.8V230.1H54.3ZM289.0 227.1H293.5V230.1H289.0Z" fill="#3c3c91"/><path d="M176.2 224.1H180.7V227.1H176.2ZM117.5 227.1H122.0V230.1H117.5ZM153.6 254.1H158.1V257.1H153.6Z" fill="#414196"/><path d="M140.1 242.1H144.6V245.1H140.1Z" fill="#41ffbe"/><path d="M234.9 254.1H239.4V257.1H234.9Z" fill="#464696"/><path d="M54.3 251.1H58.8V254.1H54.3Z" fill="#46469b"/><path d="M216.8 230.1H221.3V233.1H216.8ZM225.8 233.1H230.4V236.1H225.8Z" fill="#46ffb9"/><path d="M221.3 224.1H225.8V227.1H221.3ZM167.2 254.1H171.7V257.1H167.2Z" fill="#4b4b9b"/><path d="M140.1 236.1H144.6V239.1H140.1Z" fill="#4bffb4"/><path d="M207.8 224.1H212.3V227.1H207.8ZM122.0 251.1H126.5V254.1H122.0ZM171.7 254.1H176.2V257.1H171.7Z" fill="#5050a0"/><path d="M140.1 239.1H144.6V242.1H140.1ZM194.2 245.1H198.8V248.1H194.2ZM176.2 248.1H180.7V251.1H176.2ZM203.3 248.1H207.8V251.1H203.3Z" fill="#50ffaf"/><path d="M94.9 224.1H99.5V227.1H94.9ZM239.4 254.1H243.9V257.1H239.4Z" fill="#5555a0"/><path d="M189.7 233.1H194.2V236.1H189.7Z" fill="#55ffaa"/><path d="M140.1 224.1H144.6V227.1H140.1ZM113.0 251.1H117.5V254.1H113.0ZM149.1 254.1H153.6V257.1H149.1ZM243.9 254.1H248.4V257.1H243.9Z" fill="#5a5aa5"/><path d="M144.6 233.1H149.1V236.1H144.6Z" fill="#5affa5"/><path d="M85.9 224.1H94.9V227.1H85.9ZM99.5 224.1H104.0V227.1H99.5ZM49.8 227.1H54.3V230.1H49.8ZM248.4 254.1H252.9V257.1H248.4Z" fill="#5f5fa5"/><path d="M225.8 224.1H230.4V227.1H225.8Z" fill="#5f5faa"/><path d="M81.4 224.1H85.9V227.1H81.4ZM117.5 251.1H122.0V254.1H117.5ZM252.9 254.1H257.4V257.1H252.9Z" fill="#6464aa"/><path d="M189.7 245.1H194.2V248.1H189.7Z" fill="#64ff9b"/><path d="M76.9 224.1H81.4V227.1H76.9ZM49.8 251.1H54.3V254.1H49.8ZM212.3 257.1H216.8V260.1H212.3Z" fill="#6969aa"/><path d="M257.4 254.1H262.0V257.1H257.4Z" fill="#6969af"/><path d="M212.3 230.1H216.8V233.1H212.3Z" fill="#69ff96"/><path d="M230.4 224.1H234.9V227.1H230.4ZM176.2 254.1H180.7V257.1H176.2ZM262.0 254.1H266.5V257.1H262.0Z" fill="#6e6eaf"/><path d="M167.2 248.1H176.2V251.1H167.2ZM221.3 248.1H225.8V251.1H221.3Z" fill="#6eff91"/><path d="M72.4 224.1H76.9V227.1H72.4ZM135.6 224.1H140.1V227.1H135.6ZM144.6 254.1H149.1V257.1H144.6Z" fill="#7373af"/><path d="M180.7 224.1H185.2V227.1H180.7ZM45.3 239.1H49.8V242.1H45.3ZM85.9 254.1H90.4V257.1H85.9ZM94.9 254.1H99.5V257.1H94.9ZM266.5 254.1H271.0V257.1H266.5Z" fill="#7373b4"/><path d="M158.1 248.1H167.2V251.1H158.1Z" fill="#73ff8c"/><path d="M67.9 224.1H72.4V227.1H67.9ZM45.3 236.1H49.8V239.1H45.3ZM45.3 242.1H49.8V245.1H45.3ZM76.9 254.1H85.9V257.1H76.9ZM90.4 254.1H94.9V257.1H90.4ZM198.8 254.1H203.3V257.1H198.8Z" fill="#7878b4"/><path d="M203.3 224.1H207.8V227.1H203.3ZM99.5 254.1H104.0V257.1H99.5ZM271.0 254.1H275.5V257.1H271.0ZM216.8 257.1H221.3V260.1H216.8Z" fill="#7d7db9"/><path d="M198.8 233.1H203.3V236.1H198.8ZM225.8 245.1H230.4V248.1H225.8Z" fill="#7dff82"/><path d="M63.4 224.1H67.9V227.1H63.4ZM104.0 224.1H108.5V227.1H104.0ZM234.9 224.1H239.4V227.1H234.9ZM72.4 254.1H76.9V257.1H72.4ZM230.4 257.1H234.9V260.1H230.4ZM252.9 257.1H257.4V260.1H252.9Z" fill="#8282b9"/><path d="M58.8 224.1H63.4V227.1H58.8ZM131.1 224.1H135.6V227.1H131.1ZM293.5 236.1H298.1V239.1H293.5ZM293.5 239.1H298.1V242.1H293.5ZM293.5 242.1H298.1V245.1H293.5ZM67.9 254.1H72.4V257.1H67.9ZM140.1 254.1H144.6V257.1H140.1ZM180.7 254.1H185.2V257.1H180.7ZM171.7 257.1H176.2V260.1H171.7Z" fill="#8787be"/><path d="M144.6 242.1H149.1V245.1H144.6Z" fill="#87ff78"/><path d="M239.4 224.1H257.4V227.1H239.4ZM63.4 254.1H67.9V257.1H63.4ZM275.5 254.1H280.0V257.1H275.5ZM289.0 254.1H293.5V257.1H289.0ZM162.7 257.1H167.2V260.1H162.7ZM189.7 260.1H194.2V263.0H189.7Z" fill="#8c8cbe"/><path d="M158.1 221.2H162.7V224.1H158.1ZM257.4 224.1H271.0V227.1H257.4ZM289.0 224.1H293.5V227.1H289.0ZM58.8 254.1H63.4V257.1H58.8ZM280.0 254.1H284.5V257.1H280.0ZM221.3 257.1H225.8V260.1H221.3Z" fill="#9191c3"/><path d="M153.6 230.1H158.1V233.1H153.6ZM144.6 236.1H149.1V239.1H144.6Z" fill="#91ff6e"/><path d="M271.0 224.1H275.5V227.1H271.0ZM45.3 233.1H49.8V236.1H45.3ZM99.5 257.1H104.0V260.1H99.5ZM122.0 257.1H126.5V260.1H122.0ZM162.7 260.1H167.2V263.0H162.7ZM194.2 260.1H198.8V263.0H194.2Z" fill="#9696c3"/><path d="M284.5 254.1H289.0V257.1H284.5ZM239.4 257.1H243.9V260.1H239.4Z" fill="#9696c8"/><path d="M176.2 230.1H180.7V233.1H176.2ZM144.6 239.1H149.1V242.1H144.6Z" fill="#96ff69"/><path d="M162.7 221.2H167.2V224.1H162.7ZM126.5 224.1H131.1V227.1H126.5ZM185.2 224.1H189.7V227.1H185.2ZM275.5 224.1H280.0V227.1H275.5ZM45.3 245.1H49.8V248.1H45.3ZM135.6 254.1H140.1V257.1H135.6ZM81.4 257.1H85.9V260.1H81.4ZM90.4 257.1H99.5V260.1H90.4ZM117.5 257.1H122.0V260.1H117.5ZM131.1 257.1H135.6V260.1H131.1ZM198.8 257.1H203.3V260.1H198.8ZM212.3 260.1H221.3V263.0H212.3ZM248.4 260.1H252.9V263.0H248.4Z" fill="#9b9bc8"/><path d="M225.8 236.1H230.4V239.1H225.8Z" fill="#9bff64"/><path d="M108.5 224.1H113.0V227.1H108.5ZM293.5 245.1H298.1V248.1H293.5ZM185.2 254.1H189.7V257.1H185.2ZM194.2 254.1H198.8V257.1H194.2ZM126.5 257.1H131.1V260.1H126.5ZM203.3 257.1H207.8V260.1H203.3ZM234.9 257.1H239.4V260.1H234.9ZM275.5 257.1H280.0V260.1H275.5ZM230.4 260.1H234.9V263.0H230.4ZM289.0 260.1H293.5V263.0H289.0Z" fill="#a0a0c8"/><path d="M194.2 221.2H198.8V224.1H194.2ZM280.0 224.1H289.0V227.1H280.0ZM293.5 233.1H298.1V236.1H293.5ZM104.0 254.1H108.5V257.1H104.0ZM117.5 254.1H122.0V257.1H117.5ZM126.5 254.1H131.1V257.1H126.5ZM207.8 257.1H212.3V260.1H207.8ZM225.8 257.1H230.4V260.1H225.8ZM99.5 260.1H104.0V263.0H99.5ZM149.1 260.1H153.6V263.0H149.1ZM243.9 260.1H248.4V263.0H243.9ZM284.5 260.1H289.0V263.0H284.5ZM216.8 263.0H221.3V266.0H216.8Z" fill="#a0a0cd"/><path d="M149.1 245.1H153.6V248.1H149.1Z" fill="#a0ff5f"/><path d="M153.6 221.2H158.1V224.1H153.6ZM243.9 221.2H248.4V224.1H243.9ZM54.3 224.1H58.8V227.1H54.3ZM198.8 224.1H203.3V227.1H198.8ZM131.1 254.1H135.6V257.1H131.1ZM85.9 257.1H90.4V260.1H85.9ZM108.5 257.1H113.0V260.1H108.5ZM158.1 257.1H162.7V260.1H158.1ZM167.2 257.1H171.7V260.1H167.2ZM189.7 257.1H194.2V260.1H189.7ZM275.5 260.1H280.0V263.0H275.5ZM194.2 263.0H198.8V266.0H194.2Z" fill="#a5a5cd"/><path d="M176.2 221.2H180.7V224.1H176.2ZM140.1 257.1H144.6V260.1H140.1ZM185.2 257.1H189.7V260.1H185.2ZM262.0 257.1H266.5V260.1H262.0ZM85.9 260.1H90.4V263.0H85.9ZM108.5 260.1H113.0V263.0H108.5ZM158.1 260.1H162.7V263.0H158.1Z" fill="#aaaacd"/><path d="M207.8 218.2H212.3V221.2H207.8ZM167.2 221.2H171.7V224.1H167.2ZM207.8 221.2H212.3V224.1H207.8ZM225.8 221.2H230.4V224.1H225.8ZM122.0 224.1H126.5V227.1H122.0ZM108.5 254.1H117.5V257.1H108.5ZM135.6 257.1H140.1V260.1H135.6ZM194.2 257.1H198.8V260.1H194.2ZM243.9 257.1H248.4V260.1H243.9ZM257.4 257.1H262.0V260.1H257.4ZM176.2 260.1H180.7V263.0H176.2ZM221.3 260.1H225.8V263.0H221.3Z" fill="#aaaad2"/><path d="M225.8 242.1H230.4V245.1H225.8ZM198.8 245.1H203.3V248.1H198.8Z" fill="#aaff55"/><path d="M176.2 218.2H180.7V221.2H176.2ZM189.7 221.2H194.2V224.1H189.7ZM239.4 221.2H243.9V224.1H239.4ZM257.4 221.2H262.0V224.1H257.4ZM54.3 254.1H58.8V257.1H54.3ZM176.2 257.1H180.7V260.1H176.2ZM153.6 260.1H158.1V263.0H153.6ZM171.7 260.1H176.2V263.0H171.7ZM225.8 260.1H230.4V263.0H225.8ZM280.0 260.1H284.5V263.0H280.0ZM212.3 263.0H216.8V266.0H212.3Z" fill="#afafd2"/><path d="M194.2 236.1H198.8V239.1H194.2ZM225.8 239.1H230.4V242.1H225.8Z" fill="#afff50"/><path d="M194.2 218.2H198.8V221.2H194.2ZM189.7 254.1H194.2V257.1H189.7Z" fill="#b4b4d2"/><path d="M185.2 218.2H189.7V221.2H185.2ZM266.5 218.2H275.5V221.2H266.5ZM284.5 218.2H289.0V221.2H284.5ZM149.1 221.2H153.6V224.1H149.1ZM212.3 221.2H221.3V224.1H212.3ZM113.0 224.1H117.5V227.1H113.0ZM122.0 254.1H126.5V257.1H122.0ZM67.9 257.1H72.4V260.1H67.9ZM104.0 257.1H108.5V260.1H104.0ZM113.0 257.1H117.5V260.1H113.0ZM271.0 257.1H275.5V260.1H271.0ZM81.4 260.1H85.9V263.0H81.4ZM221.3 263.0H225.8V266.0H221.3ZM252.9 263.0H257.4V266.0H252.9ZM262.0 263.0H266.5V266.0H262.0Z" fill="#b4b4d7"/><path d="M194.2 242.1H198.8V245.1H194.2ZM185.2 245.1H189.7V248.1H185.2Z" fill="#b4ff4b"/><path d="M171.7 239.1H176.2V242.1H171.7Z" fill="#b90000"/><path d="M167.2 215.2H171.7V218.2H167.2ZM180.7 218.2H185.2V221.2H180.7ZM189.7 218.2H194.2V221.2H189.7ZM212.3 218.2H216.8V221.2H212.3ZM225.8 218.2H230.4V221.2H225.8ZM239.4 218.2H248.4V221.2H239.4ZM275.5 218.2H284.5V221.2H275.5ZM140.1 221.2H144.6V224.1H140.1ZM171.7 221.2H176.2V224.1H171.7ZM234.9 221.2H239.4V224.1H234.9ZM248.4 221.2H257.4V224.1H248.4ZM284.5 221.2H289.0V224.1H284.5ZM49.8 224.1H54.3V227.1H49.8ZM117.5 224.1H122.0V227.1H117.5ZM153.6 257.1H158.1V260.1H153.6ZM248.4 257.1H252.9V260.1H248.4ZM266.5 257.1H271.0V260.1H266.5ZM280.0 257.1H284.5V260.1H280.0ZM144.6 260.1H149.1V263.0H144.6ZM252.9 260.1H257.4V263.0H252.9ZM293.5 260.1H298.1V263.0H293.5ZM104.0 263.0H108.5V266.0H104.0ZM144.6 263.0H149.1V266.0H144.6ZM162.7 263.0H167.2V266.0H162.7ZM207.8 263.0H212.3V266.0H207.8ZM225.8 263.0H234.9V266.0H225.8ZM271.0 263.0H275.5V266.0H271.0ZM284.5 263.0H289.0V266.0H284.5Z" fill="#b9b9d7"/><path d="M167.2 260.1H171.7V263.0H167.2ZM248.4 263.0H252.9V266.0H248.4Z" fill="#b9b9dc"/><path d="M185.2 233.1H189.7V236.1H185.2ZM207.8 248.1H212.3V251.1H207.8Z" fill="#b9ff46"/><path d="M167.2 239.1H171.7V242.1H167.2Z" fill="#be0000"/><path d="M189.7 215.2H194.2V218.2H189.7ZM262.0 218.2H266.5V221.2H262.0ZM144.6 221.2H149.1V224.1H144.6ZM180.7 221.2H185.2V224.1H180.7ZM266.5 221.2H271.0V224.1H266.5ZM275.5 221.2H284.5V224.1H275.5ZM289.0 221.2H293.5V224.1H289.0ZM189.7 224.1H198.8V227.1H189.7ZM49.8 254.1H54.3V257.1H49.8ZM298.1 257.1H302.6V260.1H298.1ZM63.4 260.1H72.4V263.0H63.4ZM76.9 260.1H81.4V263.0H76.9ZM113.0 260.1H122.0V263.0H113.0ZM185.2 260.1H189.7V263.0H185.2ZM298.1 260.1H302.6V263.0H298.1ZM198.8 263.0H203.3V266.0H198.8ZM266.5 263.0H271.0V266.0H266.5Z" fill="#bebedc"/><path d="M171.7 236.1H176.2V239.1H171.7Z" fill="#c30000"/><path d="M162.7 215.2H167.2V218.2H162.7ZM185.2 215.2H189.7V218.2H185.2ZM162.7 218.2H167.2V221.2H162.7ZM248.4 218.2H252.9V221.2H248.4ZM76.9 221.2H90.4V224.1H76.9ZM185.2 221.2H189.7V224.1H185.2ZM293.5 254.1H298.1V257.1H293.5ZM144.6 257.1H149.1V260.1H144.6ZM284.5 257.1H289.0V260.1H284.5ZM203.3 260.1H212.3V263.0H203.3ZM262.0 260.1H275.5V263.0H262.0ZM167.2 263.0H171.7V266.0H167.2ZM280.0 263.0H284.5V266.0H280.0ZM271.0 266.0H275.5V269.0H271.0Z" fill="#c3c3dc"/><path d="M216.8 215.2H221.3V218.2H216.8ZM94.9 221.2H99.5V224.1H94.9ZM262.0 221.2H266.5V224.1H262.0ZM271.0 221.2H275.5V224.1H271.0ZM76.9 257.1H81.4V260.1H76.9ZM104.0 260.1H108.5V263.0H104.0ZM198.8 260.1H203.3V263.0H198.8ZM90.4 263.0H94.9V266.0H90.4ZM189.7 263.0H194.2V266.0H189.7ZM234.9 263.0H239.4V266.0H234.9ZM275.5 263.0H280.0V266.0H275.5ZM216.8 266.0H221.3V269.0H216.8Z" fill="#c3c3e1"/><path d="M221.3 233.1H225.8V236.1H221.3ZM194.2 239.1H198.8V242.1H194.2Z" fill="#c3ff3c"/><path d="M167.2 236.1H171.7V239.1H167.2Z" fill="#c80000"/><path d="M176.2 215.2H180.7V218.2H176.2ZM212.3 215.2H216.8V218.2H212.3ZM243.9 215.2H248.4V218.2H243.9ZM198.8 218.2H207.8V221.2H198.8ZM230.4 218.2H234.9V221.2H230.4ZM257.4 218.2H262.0V221.2H257.4ZM72.4 221.2H76.9V224.1H72.4ZM90.4 221.2H94.9V224.1H90.4ZM221.3 221.2H225.8V224.1H221.3ZM45.3 230.1H49.8V233.1H45.3ZM293.5 248.1H298.1V251.1H293.5ZM298.1 254.1H302.6V257.1H298.1ZM63.4 257.1H67.9V260.1H63.4ZM289.0 257.1H298.1V260.1H289.0ZM58.8 260.1H63.4V263.0H58.8ZM72.4 260.1H76.9V263.0H72.4ZM126.5 260.1H140.1V263.0H126.5ZM234.9 260.1H239.4V263.0H234.9ZM257.4 260.1H262.0V263.0H257.4ZM85.9 263.0H90.4V266.0H85.9ZM99.5 263.0H104.0V266.0H99.5ZM149.1 263.0H158.1V266.0H149.1ZM239.4 263.0H248.4V266.0H239.4ZM289.0 263.0H293.5V266.0H289.0ZM262.0 266.0H266.5V269.0H262.0Z" fill="#c8c8e1"/><path d="M144.6 215.2H149.1V218.2H144.6ZM180.7 215.2H185.2V218.2H180.7ZM194.2 215.2H198.8V218.2H194.2ZM158.1 218.2H162.7V221.2H158.1ZM67.9 221.2H72.4V224.1H67.9ZM99.5 221.2H104.0V224.1H99.5ZM135.6 221.2H140.1V224.1H135.6ZM203.3 221.2H207.8V224.1H203.3ZM293.5 230.1H298.1V233.1H293.5ZM180.7 257.1H185.2V260.1H180.7ZM239.4 260.1H243.9V263.0H239.4ZM221.3 266.0H225.8V269.0H221.3Z" fill="#cdcde1"/><path d="M252.9 215.2H257.4V218.2H252.9ZM153.6 218.2H158.1V221.2H153.6ZM171.7 218.2H176.2V221.2H171.7ZM230.4 221.2H234.9V224.1H230.4ZM298.1 221.2H302.6V224.1H298.1ZM45.3 248.1H49.8V251.1H45.3ZM72.4 257.1H76.9V260.1H72.4ZM302.6 257.1H307.1V260.1H302.6ZM72.4 263.0H76.9V266.0H72.4ZM94.9 263.0H99.5V266.0H94.9ZM108.5 263.0H122.0V266.0H108.5ZM203.3 266.0H207.8V269.0H203.3ZM234.9 266.0H239.4V269.0H234.9ZM266.5 266.0H271.0V269.0H266.5Z" fill="#cdcde6"/><path d="M149.1 233.1H153.6V236.1H149.1ZM189.7 236.1H194.2V239.1H189.7Z" fill="#cdff32"/><path d="M176.2 239.1H180.7V242.1H176.2Z" fill="#d20000"/><path d="M140.1 215.2H144.6V218.2H140.1ZM149.1 215.2H158.1V218.2H149.1ZM257.4 215.2H262.0V218.2H257.4ZM289.0 215.2H298.1V218.2H289.0ZM135.6 218.2H149.1V221.2H135.6ZM234.9 218.2H239.4V221.2H234.9ZM252.9 218.2H257.4V221.2H252.9ZM58.8 221.2H67.9V224.1H58.8ZM198.8 221.2H203.3V224.1H198.8ZM293.5 221.2H298.1V224.1H293.5ZM293.5 224.1H298.1V227.1H293.5ZM293.5 251.1H302.6V254.1H293.5ZM149.1 257.1H153.6V260.1H149.1ZM54.3 260.1H58.8V263.0H54.3ZM90.4 260.1H99.5V263.0H90.4ZM140.1 260.1H144.6V263.0H140.1ZM180.7 260.1H185.2V263.0H180.7ZM63.4 263.0H67.9V266.0H63.4ZM76.9 263.0H81.4V266.0H76.9ZM122.0 263.0H126.5V266.0H122.0ZM171.7 263.0H176.2V266.0H171.7ZM180.7 263.0H185.2V266.0H180.7ZM104.0 266.0H108.5V269.0H104.0ZM189.7 266.0H198.8V269.0H189.7ZM239.4 266.0H243.9V269.0H239.4ZM280.0 266.0H284.5V269.0H280.0Z" fill="#d2d2e6"/><path d="M189.7 242.1H194.2V245.1H189.7ZM216.8 248.1H221.3V251.1H216.8Z" fill="#d2ff2d"/><path d="M171.7 242.1H176.2V245.1H171.7Z" fill="#d70000"/><path d="M171.7 215.2H176.2V218.2H171.7ZM203.3 215.2H212.3V218.2H203.3ZM221.3 215.2H225.8V218.2H221.3ZM248.4 215.2H252.9V218.2H248.4ZM293.5 227.1H298.1V230.1H293.5ZM49.8 257.1H54.3V260.1H49.8ZM302.6 260.1H307.1V263.0H302.6ZM203.3 263.0H207.8V266.0H203.3ZM108.5 266.0H113.0V269.0H108.5ZM117.5 266.0H126.5V269.0H117.5ZM153.6 266.0H158.1V269.0H153.6ZM275.5 266.0H280.0V269.0H275.5ZM284.5 266.0H289.0V269.0H284.5Z" fill="#d7d7e6"/><path d="M171.7 212.2H176.2V215.2H171.7ZM180.7 212.2H185.2V215.2H180.7ZM194.2 212.2H198.8V215.2H194.2ZM158.1 215.2H162.7V218.2H158.1ZM198.8 215.2H203.3V218.2H198.8ZM230.4 215.2H234.9V218.2H230.4ZM275.5 215.2H280.0V218.2H275.5ZM167.2 218.2H171.7V221.2H167.2ZM221.3 218.2H225.8V221.2H221.3ZM293.5 218.2H298.1V221.2H293.5ZM302.6 251.1H307.1V254.1H302.6ZM58.8 257.1H63.4V260.1H58.8ZM307.1 257.1H311.6V260.1H307.1ZM81.4 263.0H85.9V266.0H81.4ZM126.5 263.0H131.1V266.0H126.5ZM140.1 263.0H144.6V266.0H140.1ZM158.1 263.0H162.7V266.0H158.1ZM176.2 263.0H180.7V266.0H176.2ZM257.4 263.0H262.0V266.0H257.4ZM293.5 263.0H298.1V266.0H293.5ZM99.5 266.0H104.0V269.0H99.5ZM167.2 266.0H171.7V269.0H167.2ZM180.7 266.0H189.7V269.0H180.7ZM207.8 266.0H212.3V269.0H207.8ZM257.4 266.0H262.0V269.0H257.4Z" fill="#d7d7eb"/><path d="M158.1 230.1H162.7V233.1H158.1ZM171.7 230.1H176.2V233.1H171.7Z" fill="#d7ff28"/><path d="M162.7 239.1H167.2V242.1H162.7Z" fill="#dc0000"/><path d="M149.1 212.2H167.2V215.2H149.1ZM189.7 212.2H194.2V215.2H189.7ZM243.9 212.2H252.9V215.2H243.9ZM284.5 212.2H289.0V215.2H284.5ZM234.9 215.2H239.4V218.2H234.9ZM262.0 215.2H266.5V218.2H262.0ZM271.0 215.2H275.5V218.2H271.0ZM280.0 215.2H289.0V218.2H280.0ZM298.1 215.2H302.6V218.2H298.1ZM126.5 218.2H131.1V221.2H126.5ZM149.1 218.2H153.6V221.2H149.1ZM216.8 218.2H221.3V221.2H216.8ZM289.0 218.2H293.5V221.2H289.0ZM298.1 218.2H302.6V221.2H298.1ZM104.0 221.2H108.5V224.1H104.0ZM302.6 221.2H307.1V224.1H302.6ZM298.1 224.1H307.1V227.1H298.1ZM298.1 227.1H302.6V230.1H298.1ZM298.1 248.1H302.6V251.1H298.1ZM302.6 254.1H307.1V257.1H302.6ZM122.0 260.1H126.5V263.0H122.0ZM67.9 263.0H72.4V266.0H67.9ZM131.1 263.0H140.1V266.0H131.1ZM185.2 263.0H189.7V266.0H185.2ZM298.1 263.0H307.1V266.0H298.1ZM90.4 266.0H94.9V269.0H90.4ZM158.1 266.0H162.7V269.0H158.1ZM252.9 266.0H257.4V269.0H252.9Z" fill="#dcdceb"/><path d="M203.3 233.1H207.8V236.1H203.3Z" fill="#dcff23"/><path d="M176.2 236.1H180.7V239.1H176.2ZM167.2 242.1H171.7V245.1H167.2Z" fill="#e10000"/><path d="M144.6 212.2H149.1V215.2H144.6ZM176.2 212.2H180.7V215.2H176.2ZM225.8 212.2H230.4V215.2H225.8ZM131.1 221.2H135.6V224.1H131.1ZM171.7 266.0H176.2V269.0H171.7Z" fill="#e1e1eb"/><path d="M135.6 212.2H140.1V215.2H135.6ZM167.2 212.2H171.7V215.2H167.2ZM185.2 212.2H189.7V215.2H185.2ZM221.3 212.2H225.8V215.2H221.3ZM230.4 212.2H239.4V215.2H230.4ZM266.5 212.2H271.0V215.2H266.5ZM280.0 212.2H284.5V215.2H280.0ZM289.0 212.2H293.5V215.2H289.0ZM135.6 215.2H140.1V218.2H135.6ZM225.8 215.2H230.4V218.2H225.8ZM239.4 215.2H243.9V218.2H239.4ZM266.5 215.2H271.0V218.2H266.5ZM302.6 218.2H307.1V221.2H302.6ZM49.8 260.1H54.3V263.0H49.8ZM54.3 263.0H63.4V266.0H54.3ZM113.0 266.0H117.5V269.0H113.0ZM131.1 266.0H135.6V269.0H131.1ZM144.6 266.0H149.1V269.0H144.6ZM162.7 266.0H167.2V269.0H162.7ZM198.8 266.0H203.3V269.0H198.8ZM212.3 266.0H216.8V269.0H212.3ZM243.9 266.0H252.9V269.0H243.9ZM293.5 266.0H298.1V269.0H293.5ZM216.8 269.0H221.3V272.0H216.8ZM266.5 269.0H280.0V272.0H266.5Z" fill="#e1e1f0"/><path d="M189.7 239.1H194.2V242.1H189.7Z" fill="#e1ff1e"/><path d="M162.7 236.1H167.2V239.1H162.7Z" fill="#e60000"/><path d="M131.1 212.2H135.6V215.2H131.1ZM198.8 212.2H216.8V215.2H198.8ZM262.0 212.2H266.5V215.2H262.0ZM293.5 212.2H302.6V215.2H293.5ZM117.5 215.2H126.5V218.2H117.5ZM67.9 218.2H72.4V221.2H67.9ZM85.9 218.2H90.4V221.2H85.9ZM99.5 218.2H108.5V221.2H99.5ZM131.1 218.2H135.6V221.2H131.1ZM54.3 221.2H58.8V224.1H54.3ZM108.5 221.2H113.0V224.1H108.5ZM117.5 221.2H122.0V224.1H117.5ZM126.5 221.2H131.1V224.1H126.5ZM307.1 254.1H311.6V257.1H307.1ZM54.3 257.1H58.8V260.1H54.3ZM49.8 263.0H54.3V266.0H49.8ZM58.8 266.0H76.9V269.0H58.8ZM81.4 266.0H85.9V269.0H81.4ZM94.9 266.0H99.5V269.0H94.9ZM126.5 266.0H131.1V269.0H126.5ZM135.6 266.0H144.6V269.0H135.6ZM149.1 266.0H153.6V269.0H149.1ZM176.2 266.0H180.7V269.0H176.2ZM289.0 266.0H293.5V269.0H289.0ZM298.1 266.0H302.6V269.0H298.1ZM212.3 269.0H216.8V272.0H212.3ZM221.3 269.0H225.8V272.0H221.3ZM234.9 269.0H243.9V272.0H234.9Z" fill="#e6e6f0"/><path d="M262.0 269.0H266.5V272.0H262.0Z" fill="#e6e6f5"/><path d="M162.7 230.1H167.2V233.1H162.7Z" fill="#e6ff19"/><path d="M144.6 209.2H153.6V212.2H144.6ZM171.7 209.2H176.2V212.2H171.7ZM180.7 209.2H185.2V212.2H180.7ZM189.7 209.2H194.2V212.2H189.7ZM203.3 209.2H207.8V212.2H203.3ZM252.9 209.2H257.4V212.2H252.9ZM262.0 209.2H271.0V212.2H262.0ZM284.5 209.2H289.0V212.2H284.5ZM140.1 212.2H144.6V215.2H140.1ZM216.8 212.2H221.3V215.2H216.8ZM257.4 212.2H262.0V215.2H257.4ZM275.5 212.2H280.0V215.2H275.5ZM72.4 215.2H81.4V218.2H72.4ZM108.5 215.2H117.5V218.2H108.5ZM126.5 215.2H135.6V218.2H126.5ZM302.6 215.2H307.1V218.2H302.6ZM49.8 218.2H54.3V221.2H49.8ZM58.8 218.2H67.9V221.2H58.8ZM76.9 218.2H81.4V221.2H76.9ZM90.4 218.2H94.9V221.2H90.4ZM108.5 218.2H122.0V221.2H108.5ZM49.8 221.2H54.3V224.1H49.8ZM113.0 221.2H117.5V224.1H113.0ZM122.0 221.2H126.5V224.1H122.0ZM307.1 221.2H311.6V224.1H307.1ZM298.1 245.1H302.6V248.1H298.1ZM302.6 248.1H307.1V251.1H302.6ZM307.1 251.1H311.6V254.1H307.1ZM45.3 254.1H49.8V257.1H45.3ZM45.3 257.1H49.8V260.1H45.3ZM45.3 260.1H49.8V263.0H45.3ZM307.1 260.1H311.6V263.0H307.1ZM307.1 263.0H311.6V266.0H307.1ZM76.9 266.0H81.4V269.0H76.9ZM85.9 266.0H90.4V269.0H85.9ZM225.8 266.0H234.9V269.0H225.8ZM302.6 266.0H307.1V269.0H302.6ZM90.4 269.0H94.9V272.0H90.4ZM99.5 269.0H108.5V272.0H99.5ZM117.5 269.0H126.5V272.0H117.5ZM149.1 269.0H158.1V272.0H149.1ZM180.7 269.0H185.2V272.0H180.7ZM189.7 269.0H198.8V272.0H189.7ZM252.9 269.0H257.4V272.0H252.9ZM280.0 269.0H289.0V272.0H280.0Z" fill="#ebebf5"/><path d="M176.2 242.1H180.7V245.1H176.2Z" fill="#f00000"/><path d="M131.1 209.2H135.6V212.2H131.1ZM153.6 209.2H158.1V212.2H153.6ZM176.2 209.2H180.7V212.2H176.2ZM185.2 209.2H189.7V212.2H185.2ZM194.2 209.2H203.3V212.2H194.2ZM212.3 209.2H216.8V212.2H212.3ZM225.8 209.2H230.4V212.2H225.8ZM239.4 209.2H243.9V212.2H239.4ZM257.4 209.2H262.0V212.2H257.4ZM271.0 209.2H275.5V212.2H271.0ZM90.4 212.2H99.5V215.2H90.4ZM117.5 212.2H122.0V215.2H117.5ZM239.4 212.2H243.9V215.2H239.4ZM252.9 212.2H257.4V215.2H252.9ZM271.0 212.2H275.5V215.2H271.0ZM81.4 215.2H108.5V218.2H81.4ZM54.3 218.2H58.8V221.2H54.3ZM72.4 218.2H76.9V221.2H72.4ZM81.4 218.2H85.9V221.2H81.4ZM94.9 218.2H99.5V221.2H94.9ZM122.0 218.2H126.5V221.2H122.0ZM307.1 218.2H311.6V221.2H307.1ZM307.1 224.1H311.6V227.1H307.1ZM45.3 227.1H49.8V230.1H45.3ZM302.6 227.1H307.1V230.1H302.6ZM49.8 266.0H58.8V269.0H49.8ZM307.1 266.0H311.6V269.0H307.1ZM67.9 269.0H72.4V272.0H67.9ZM94.9 269.0H99.5V272.0H94.9ZM108.5 269.0H117.5V272.0H108.5ZM126.5 269.0H149.1V272.0H126.5ZM158.1 269.0H171.7V272.0H158.1ZM176.2 269.0H180.7V272.0H176.2ZM185.2 269.0H189.7V272.0H185.2ZM198.8 269.0H207.8V272.0H198.8ZM243.9 269.0H248.4V272.0H243.9ZM257.4 269.0H262.0V272.0H257.4ZM298.1 269.0H302.6V272.0H298.1ZM212.3 272.0H216.8V275.0H212.3ZM225.8 272.0H234.9V275.0H225.8ZM239.4 272.0H243.9V275.0H239.4Z" fill="#f0f0f5"/><path d="M158.1 209.2H162.7V212.2H158.1ZM207.8 209.2H212.3V212.2H207.8ZM275.5 209.2H280.0V212.2H275.5ZM113.0 212.2H117.5V215.2H113.0ZM122.0 212.2H131.1V215.2H122.0ZM54.3 215.2H58.8V218.2H54.3ZM298.1 230.1H302.6V233.1H298.1ZM307.1 248.1H311.6V251.1H307.1ZM45.3 251.1H49.8V254.1H45.3ZM207.8 269.0H212.3V272.0H207.8ZM302.6 269.0H307.1V272.0H302.6ZM198.8 272.0H203.3V275.0H198.8ZM234.9 272.0H239.4V275.0H234.9Z" fill="#f0f0fa"/><path d="M167.2 230.1H171.7V233.1H167.2Z" fill="#f0ff0f"/><path d="M149.1 206.2H153.6V209.2H149.1ZM158.1 206.2H167.2V209.2H158.1ZM171.7 206.2H176.2V209.2H171.7ZM180.7 206.2H189.7V209.2H180.7ZM198.8 206.2H203.3V209.2H198.8ZM252.9 206.2H257.4V209.2H252.9ZM262.0 206.2H266.5V209.2H262.0ZM275.5 206.2H280.0V209.2H275.5ZM122.0 209.2H131.1V212.2H122.0ZM135.6 209.2H144.6V212.2H135.6ZM162.7 209.2H171.7V212.2H162.7ZM216.8 209.2H225.8V212.2H216.8ZM230.4 209.2H239.4V212.2H230.4ZM243.9 209.2H252.9V212.2H243.9ZM280.0 209.2H284.5V212.2H280.0ZM289.0 209.2H302.6V212.2H289.0ZM49.8 212.2H54.3V215.2H49.8ZM58.8 212.2H63.4V215.2H58.8ZM72.4 212.2H90.4V215.2H72.4ZM99.5 212.2H113.0V215.2H99.5ZM302.6 212.2H311.6V215.2H302.6ZM49.8 215.2H54.3V218.2H49.8ZM58.8 215.2H72.4V218.2H58.8ZM307.1 215.2H311.6V218.2H307.1ZM45.3 218.2H49.8V221.2H45.3ZM45.3 221.2H49.8V224.1H45.3ZM45.3 224.1H49.8V227.1H45.3ZM307.1 227.1H311.6V230.1H307.1ZM302.6 230.1H311.6V233.1H302.6ZM298.1 233.1H307.1V236.1H298.1ZM302.6 245.1H311.6V248.1H302.6ZM45.3 263.0H49.8V266.0H45.3ZM54.3 269.0H67.9V272.0H54.3ZM72.4 269.0H90.4V272.0H72.4ZM171.7 269.0H176.2V272.0H171.7ZM225.8 269.0H234.9V272.0H225.8ZM248.4 269.0H252.9V272.0H248.4ZM289.0 269.0H298.1V272.0H289.0ZM307.1 269.0H311.6V272.0H307.1ZM135.6 272.0H144.6V275.0H135.6ZM153.6 272.0H162.7V275.0H153.6ZM185.2 272.0H189.7V275.0H185.2ZM203.3 272.0H212.3V275.0H203.3ZM216.8 272.0H225.8V275.0H216.8ZM243.9 272.0H266.5V275.0H243.9ZM271.0 272.0H293.5V275.0H271.0Z" fill="#f5f5fa"/><path d="M198.8 236.1H203.3V239.1H198.8Z" fill="#f5ff0a"/><path d="M162.7 242.1H167.2V245.1H162.7Z" fill="#fa0000"/><path d="M135.6 206.2H140.1V209.2H135.6ZM144.6 206.2H149.1V209.2H144.6ZM153.6 206.2H158.1V209.2H153.6ZM176.2 206.2H180.7V209.2H176.2ZM189.7 206.2H198.8V209.2H189.7ZM203.3 206.2H243.9V209.2H203.3ZM248.4 206.2H252.9V209.2H248.4ZM257.4 206.2H262.0V209.2H257.4ZM266.5 206.2H275.5V209.2H266.5ZM280.0 206.2H289.0V209.2H280.0ZM293.5 206.2H298.1V209.2H293.5ZM67.9 209.2H72.4V212.2H67.9ZM76.9 209.2H81.4V212.2H76.9ZM90.4 209.2H94.9V212.2H90.4ZM99.5 209.2H122.0V212.2H99.5ZM302.6 209.2H307.1V212.2H302.6ZM54.3 212.2H58.8V215.2H54.3ZM63.4 212.2H72.4V215.2H63.4ZM45.3 215.2H49.8V218.2H45.3ZM298.1 236.1H307.1V239.1H298.1ZM298.1 242.1H302.6V245.1H298.1ZM45.3 266.0H49.8V269.0H45.3ZM45.3 269.0H54.3V272.0H45.3ZM67.9 272.0H72.4V275.0H67.9ZM76.9 272.0H117.5V275.0H76.9ZM122.0 272.0H135.6V275.0H122.0ZM144.6 272.0H153.6V275.0H144.6ZM162.7 272.0H180.7V275.0H162.7ZM189.7 272.0H198.8V275.0H189.7ZM266.5 272.0H271.0V275.0H266.5ZM293.5 272.0H302.6V275.0H293.5ZM212.3 275.0H216.8V278.0H212.3ZM221.3 275.0H239.4V278.0H221.3ZM280.0 275.0H284.5V278.0H280.0Z" fill="#fafafa"/><path d="M99.5 206.2H104.0V209.2H99.5ZM108.5 206.2H135.6V209.2H108.5ZM140.1 206.2H144.6V209.2H140.1ZM167.2 206.2H171.7V209.2H167.2ZM243.9 206.2H248.4V209.2H243.9ZM289.0 206.2H293.5V209.2H289.0ZM298.1 206.2H307.1V209.2H298.1ZM49.8 209.2H67.9V212.2H49.8ZM72.4 209.2H76.9V212.2H72.4ZM81.4 209.2H90.4V212.2H81.4ZM307.1 209.2H311.6V212.2H307.1ZM45.3 212.2H49.8V215.2H45.3ZM307.1 233.1H311.6V236.1H307.1ZM302.6 242.1H311.6V245.1H302.6ZM54.3 272.0H67.9V275.0H54.3ZM72.4 272.0H76.9V275.0H72.4ZM117.5 272.0H122.0V275.0H117.5ZM180.7 272.0H185.2V275.0H180.7ZM302.6 272.0H311.6V275.0H302.6ZM90.4 275.0H99.5V278.0H90.4ZM140.1 275.0H144.6V278.0H140.1ZM153.6 275.0H158.1V278.0H153.6ZM171.7 275.0H180.7V278.0H171.7ZM185.2 275.0H212.3V278.0H185.2ZM216.8 275.0H221.3V278.0H216.8ZM239.4 275.0H262.0V278.0H239.4ZM271.0 275.0H280.0V278.0H271.0ZM284.5 275.0H298.1V278.0H284.5Z" fill="#fafaff"/><path d="M158.1 239.1H162.7V242.1H158.1ZM212.3 239.1H216.8V242.1H212.3Z" fill="#ff0f00"/><path d="M158.1 236.1H162.7V239.1H158.1ZM212.3 242.1H216.8V245.1H212.3Z" fill="#ff1400"/><path d="M158.1 242.1H162.7V245.1H158.1Z" fill="#ff2300"/><path d="M167.2 233.1H171.7V236.1H167.2Z" fill="#ff2800"/><path d="M171.7 233.1H176.2V236.1H171.7ZM212.3 236.1H216.8V239.1H212.3ZM207.8 239.1H212.3V242.1H207.8Z" fill="#ff2d00"/><path d="M180.7 239.1H185.2V242.1H180.7Z" fill="#ff3200"/><path d="M207.8 242.1H212.3V245.1H207.8Z" fill="#ff3700"/><path d="M162.7 233.1H167.2V236.1H162.7ZM216.8 239.1H221.3V242.1H216.8Z" fill="#ff3c00"/><path d="M180.7 236.1H185.2V239.1H180.7ZM216.8 242.1H221.3V245.1H216.8Z" fill="#ff4100"/><path d="M207.8 236.1H212.3V239.1H207.8ZM180.7 242.1H185.2V245.1H180.7Z" fill="#ff4b00"/><path d="M212.3 245.1H216.8V248.1H212.3Z" fill="#ff5000"/><path d="M176.2 233.1H180.7V236.1H176.2ZM216.8 236.1H221.3V239.1H216.8Z" fill="#ff5a00"/><path d="M158.1 233.1H162.7V236.1H158.1ZM153.6 239.1H158.1V242.1H153.6Z" fill="#ff5f00"/><path d="M153.6 236.1H158.1V239.1H153.6Z" fill="#ff6900"/><path d="M171.7 245.1H176.2V248.1H171.7Z" fill="#ff6e00"/><path d="M167.2 245.1H171.7V248.1H167.2Z" fill="#ff7300"/><path d="M153.6 242.1H158.1V245.1H153.6Z" fill="#ff7800"/><path d="M207.8 245.1H212.3V248.1H207.8ZM216.8 245.1H221.3V248.1H216.8Z" fill="#ff7d00"/><path d="M203.3 239.1H207.8V242.1H203.3ZM162.7 245.1H167.2V248.1H162.7Z" fill="#ff8200"/><path d="M176.2 245.1H180.7V248.1H176.2Z" fill="#ff8700"/><path d="M203.3 242.1H207.8V245.1H203.3Z" fill="#ff8c00"/><path d="M203.3 236.1H207.8V239.1H203.3ZM158.1 245.1H162.7V248.1H158.1Z" fill="#ff9b00"/><path d="M212.3 233.1H216.8V236.1H212.3Z" fill="#ffaa00"/><path d="M153.6 233.1H158.1V236.1H153.6ZM221.3 239.1H225.8V242.1H221.3Z" fill="#ffb400"/><path d="M221.3 242.1H225.8V245.1H221.3Z" fill="#ffb900"/><path d="M180.7 233.1H185.2V236.1H180.7ZM185.2 239.1H189.7V242.1H185.2Z" fill="#ffbe00"/><path d="M185.2 236.1H189.7V239.1H185.2ZM221.3 236.1H225.8V239.1H221.3Z" fill="#ffcd00"/><path d="M207.8 233.1H212.3V236.1H207.8ZM216.8 233.1H221.3V236.1H216.8ZM185.2 242.1H189.7V245.1H185.2Z" fill="#ffd200"/><path d="M180.7 245.1H185.2V248.1H180.7Z" fill="#ffd700"/><path d="M203.3 245.1H207.8V248.1H203.3Z" fill="#ffdc00"/><path d="M149.1 239.1H153.6V242.1H149.1Z" fill="#ffe600"/><path d="M153.6 245.1H158.1V248.1H153.6Z" fill="#ffeb00"/><path d="M149.1 236.1H153.6V239.1H149.1ZM198.8 239.1H203.3V242.1H198.8ZM221.3 245.1H225.8V248.1H221.3Z" fill="#fff000"/><path d="M149.1 242.1H153.6V245.1H149.1ZM198.8 242.1H203.3V245.1H198.8Z" fill="#fffa00"/><path d="M212.3 248.1H216.8V251.1H212.3Z" fill="#ffff00"/></g>
<g shape-rendering="crispEdges"><path d="M502.4 225.3H506.9V228.3H502.4ZM556.7 225.3H561.3V228.3H556.7ZM529.6 258.3H534.1V261.3H529.6Z" fill="#000082"/><path d="M638.2 249.3H642.8V252.3H638.2ZM606.5 252.3H611.1V255.3H606.5Z" fill="#000087"/><path d="M506.9 225.3H511.4V228.3H506.9ZM425.4 246.3H429.9V249.3H425.4ZM457.1 249.3H461.6V252.3H457.1ZM574.8 255.3H579.4V258.3H574.8ZM556.7 258.3H561.3V261.3H556.7Z" fill="#00008c"/><path d="M511.4 225.3H516.0V228.3H511.4ZM461.6 228.3H466.1V231.3H461.6Z" fill="#000091"/><path d="M638.2 231.3H642.8V234.3H638.2ZM502.4 255.3H506.9V258.3H502.4Z" fill="#000096"/><path d="M516.0 225.3H520.5V228.3H516.0ZM425.4 231.3H429.9V234.3H425.4ZM534.1 258.3H538.6V261.3H534.1Z" fill="#00009b"/><path d="M570.3 228.3H574.8V231.3H570.3ZM597.5 231.3H602.0V234.3H597.5ZM429.9 246.3H434.4V249.3H429.9ZM633.7 249.3H638.2V252.3H633.7Z" fill="#0000a0"/><path d="M520.5 225.3H525.0V228.3H520.5ZM552.2 225.3H556.7V228.3H552.2ZM602.0 231.3H606.5V234.3H602.0ZM466.1 252.3H470.7V255.3H466.1Z" fill="#0000a5"/><path d="M606.5 231.3H615.6V234.3H606.5ZM633.7 231.3H638.2V234.3H633.7ZM602.0 252.3H606.5V255.3H602.0ZM506.9 255.3H511.4V258.3H506.9Z" fill="#0000aa"/><path d="M525.0 225.3H529.6V228.3H525.0ZM615.6 231.3H620.1V234.3H615.6Z" fill="#0000af"/><path d="M429.9 231.3H434.4V234.3H429.9ZM620.1 231.3H624.7V234.3H620.1ZM434.4 246.3H439.0V249.3H434.4ZM629.2 249.3H633.7V252.3H629.2ZM570.3 255.3H574.8V258.3H570.3ZM538.6 258.3H543.1V261.3H538.6ZM552.2 258.3H556.7V261.3H552.2Z" fill="#0000b4"/><path d="M529.6 225.3H534.1V228.3H529.6ZM624.7 231.3H633.7V234.3H624.7Z" fill="#0000b9"/><path d="M439.0 246.3H443.5V249.3H439.0Z" fill="#0000be"/><path d="M534.1 225.3H538.6V228.3H534.1ZM593.0 231.3H597.5V234.3H593.0ZM511.4 255.3H516.0V258.3H511.4Z" fill="#0000c3"/><path d="M434.4 231.3H439.0V234.3H434.4ZM448.0 231.3H457.1V234.3H448.0ZM443.5 246.3H448.0V249.3H443.5ZM543.1 258.3H547.7V261.3H543.1Z" fill="#0000c8"/><path d="M538.6 225.3H543.1V228.3H538.6ZM565.8 228.3H570.3V231.3H565.8ZM439.0 231.3H448.0V234.3H439.0ZM624.7 249.3H629.2V252.3H624.7Z" fill="#0000cd"/><path d="M543.1 225.3H552.2V228.3H543.1ZM425.4 243.3H429.9V246.3H425.4ZM638.2 246.3H642.8V249.3H638.2ZM597.5 252.3H602.0V255.3H597.5Z" fill="#0000d2"/><path d="M638.2 234.3H642.8V237.3H638.2ZM448.0 246.3H452.6V249.3H448.0ZM470.7 252.3H475.2V255.3H470.7Z" fill="#0000d7"/><path d="M466.1 228.3H470.7V231.3H466.1ZM425.4 234.3H429.9V237.3H425.4ZM547.7 258.3H552.2V261.3H547.7Z" fill="#0000dc"/><path d="M588.4 231.3H593.0V234.3H588.4ZM452.6 246.3H457.1V249.3H452.6ZM516.0 255.3H520.5V258.3H516.0ZM565.8 255.3H570.3V258.3H565.8Z" fill="#0000e1"/><path d="M457.1 231.3H461.6V234.3H457.1Z" fill="#0000e6"/><path d="M620.1 249.3H624.7V252.3H620.1ZM475.2 252.3H479.7V255.3H475.2Z" fill="#0000eb"/><path d="M425.4 237.3H429.9V240.3H425.4ZM425.4 240.3H429.9V243.3H425.4ZM461.6 249.3H466.1V252.3H461.6Z" fill="#0000f0"/><path d="M429.9 243.3H434.4V246.3H429.9ZM638.2 243.3H642.8V246.3H638.2ZM593.0 252.3H597.5V255.3H593.0Z" fill="#0000f5"/><path d="M561.3 228.3H565.8V231.3H561.3ZM638.2 237.3H642.8V240.3H638.2Z" fill="#0000fa"/><path d="M583.9 231.3H588.4V234.3H583.9ZM638.2 240.3H642.8V243.3H638.2ZM434.4 243.3H439.0V246.3H434.4ZM520.5 255.3H525.0V258.3H520.5Z" fill="#0000ff"/><path d="M429.9 234.3H434.4V237.3H429.9ZM479.7 252.3H484.3V255.3H479.7Z" fill="#0005ff"/><path d="M470.7 228.3H475.2V231.3H470.7ZM434.4 234.3H439.0V237.3H434.4ZM439.0 243.3H443.5V246.3H439.0Z" fill="#000aff"/><path d="M439.0 234.3H448.0V237.3H439.0ZM443.5 243.3H448.0V246.3H443.5ZM561.3 255.3H565.8V258.3H561.3Z" fill="#000fff"/><path d="M588.4 252.3H593.0V255.3H588.4Z" fill="#0014ff"/><path d="M475.2 228.3H479.7V231.3H475.2ZM579.4 231.3H583.9V234.3H579.4ZM448.0 234.3H452.6V237.3H448.0ZM429.9 237.3H434.4V240.3H429.9ZM429.9 240.3H434.4V243.3H429.9ZM615.6 249.3H620.1V252.3H615.6Z" fill="#0019ff"/><path d="M434.4 237.3H439.0V240.3H434.4ZM434.4 240.3H443.5V243.3H434.4ZM448.0 243.3H452.6V246.3H448.0ZM457.1 246.3H461.6V249.3H457.1ZM484.3 252.3H488.8V255.3H484.3Z" fill="#001eff"/><path d="M452.6 234.3H457.1V237.3H452.6ZM439.0 237.3H443.5V240.3H439.0Z" fill="#0023ff"/><path d="M556.7 228.3H561.3V231.3H556.7ZM443.5 237.3H448.0V240.3H443.5ZM443.5 240.3H448.0V243.3H443.5ZM583.9 252.3H588.4V255.3H583.9ZM525.0 255.3H529.6V258.3H525.0Z" fill="#0028ff"/><path d="M479.7 228.3H484.3V231.3H479.7ZM452.6 243.3H457.1V246.3H452.6Z" fill="#002dff"/><path d="M448.0 237.3H452.6V240.3H448.0Z" fill="#0032ff"/><path d="M448.0 240.3H452.6V243.3H448.0ZM633.7 246.3H638.2V249.3H633.7ZM488.8 252.3H493.3V255.3H488.8ZM556.7 255.3H561.3V258.3H556.7Z" fill="#0037ff"/><path d="M574.8 231.3H579.4V234.3H574.8Z" fill="#003cff"/><path d="M484.3 228.3H488.8V231.3H484.3ZM461.6 231.3H466.1V234.3H461.6ZM633.7 234.3H638.2V237.3H633.7ZM452.6 237.3H457.1V240.3H452.6ZM579.4 252.3H583.9V255.3H579.4Z" fill="#0041ff"/><path d="M452.6 240.3H457.1V243.3H452.6Z" fill="#0046ff"/><path d="M611.1 249.3H615.6V252.3H611.1Z" fill="#004bff"/><path d="M488.8 228.3H493.3V231.3H488.8ZM493.3 252.3H497.8V255.3H493.3ZM529.6 255.3H534.1V258.3H529.6Z" fill="#0050ff"/><path d="M493.3 228.3H497.8V231.3H493.3ZM506.9 228.3H516.0V231.3H506.9ZM552.2 228.3H556.7V231.3H552.2Z" fill="#005aff"/><path d="M502.4 228.3H506.9V231.3H502.4ZM457.1 234.3H461.6V237.3H457.1ZM574.8 252.3H579.4V255.3H574.8Z" fill="#005fff"/><path d="M497.8 228.3H502.4V231.3H497.8ZM516.0 228.3H520.5V231.3H516.0ZM629.2 246.3H633.7V249.3H629.2ZM466.1 249.3H470.7V252.3H466.1ZM497.8 252.3H502.4V255.3H497.8Z" fill="#0064ff"/><path d="M570.3 231.3H574.8V234.3H570.3ZM629.2 234.3H633.7V237.3H629.2Z" fill="#0069ff"/><path d="M624.7 234.3H629.2V237.3H624.7ZM552.2 255.3H556.7V258.3H552.2Z" fill="#006eff"/><path d="M520.5 228.3H525.0V231.3H520.5ZM620.1 234.3H624.7V237.3H620.1Z" fill="#0073ff"/><path d="M502.4 252.3H506.9V255.3H502.4ZM534.1 255.3H538.6V258.3H534.1Z" fill="#0078ff"/><path d="M457.1 243.3H461.6V246.3H457.1Z" fill="#007dff"/><path d="M624.7 246.3H629.2V249.3H624.7Z" fill="#0082ff"/><path d="M615.6 234.3H620.1V237.3H615.6ZM506.9 252.3H511.4V255.3H506.9ZM570.3 252.3H574.8V255.3H570.3Z" fill="#0087ff"/><path d="M525.0 228.3H529.6V231.3H525.0ZM633.7 243.3H638.2V246.3H633.7ZM606.5 249.3H611.1V252.3H606.5Z" fill="#008cff"/><path d="M547.7 228.3H552.2V231.3H547.7ZM457.1 237.3H461.6V240.3H457.1ZM633.7 237.3H638.2V240.3H633.7Z" fill="#0091ff"/><path d="M565.8 231.3H570.3V234.3H565.8ZM457.1 240.3H461.6V243.3H457.1ZM461.6 246.3H466.1V249.3H461.6Z" fill="#0096ff"/><path d="M611.1 234.3H615.6V237.3H611.1ZM633.7 240.3H638.2V243.3H633.7ZM511.4 252.3H516.0V255.3H511.4ZM538.6 255.3H543.1V258.3H538.6Z" fill="#009bff"/><path d="M529.6 228.3H534.1V231.3H529.6ZM466.1 231.3H470.7V234.3H466.1ZM620.1 246.3H624.7V249.3H620.1ZM547.7 255.3H552.2V258.3H547.7Z" fill="#00a0ff"/><path d="M543.1 255.3H547.7V258.3H543.1Z" fill="#00aaff"/><path d="M543.1 228.3H547.7V231.3H543.1ZM470.7 249.3H475.2V252.3H470.7ZM565.8 252.3H570.3V255.3H565.8Z" fill="#00afff"/><path d="M534.1 228.3H538.6V231.3H534.1Z" fill="#00b4ff"/><path d="M606.5 234.3H611.1V237.3H606.5Z" fill="#00b9ff"/><path d="M538.6 228.3H543.1V231.3H538.6ZM561.3 231.3H565.8V234.3H561.3ZM516.0 252.3H520.5V255.3H516.0Z" fill="#00beff"/><path d="M629.2 237.3H633.7V240.3H629.2ZM629.2 243.3H633.7V246.3H629.2Z" fill="#00c8ff"/><path d="M461.6 234.3H466.1V237.3H461.6Z" fill="#00cdff"/><path d="M597.5 234.3H606.5V237.3H597.5ZM561.3 252.3H565.8V255.3H561.3Z" fill="#00d2ff"/><path d="M624.7 237.3H629.2V240.3H624.7ZM629.2 240.3H633.7V243.3H629.2ZM475.2 249.3H479.7V252.3H475.2Z" fill="#00d7ff"/><path d="M615.6 246.3H620.1V249.3H615.6ZM602.0 249.3H606.5V252.3H602.0Z" fill="#00dcff"/><path d="M470.7 231.3H475.2V234.3H470.7ZM624.7 243.3H629.2V246.3H624.7ZM520.5 252.3H525.0V255.3H520.5Z" fill="#00e1ff"/><path d="M556.7 231.3H561.3V234.3H556.7Z" fill="#00e6ff"/><path d="M620.1 237.3H624.7V240.3H620.1ZM624.7 240.3H629.2V243.3H624.7Z" fill="#00ebff"/><path d="M620.1 243.3H624.7V246.3H620.1Z" fill="#00f5ff"/><path d="M593.0 234.3H597.5V237.3H593.0ZM461.6 243.3H466.1V246.3H461.6ZM556.7 252.3H561.3V255.3H556.7Z" fill="#00faff"/><path d="M475.2 231.3H479.7V234.3H475.2ZM620.1 240.3H624.7V243.3H620.1ZM479.7 249.3H484.3V252.3H479.7Z" fill="#05fffa"/><path d="M588.4 234.3H593.0V237.3H588.4ZM461.6 237.3H466.1V240.3H461.6Z" fill="#0afff5"/><path d="M583.9 234.3H588.4V237.3H583.9ZM461.6 240.3H466.1V243.3H461.6ZM466.1 246.3H470.7V249.3H466.1Z" fill="#0ffff0"/><path d="M497.8 255.3H502.4V258.3H497.8Z" fill="#14147d"/><path d="M579.4 234.3H583.9V237.3H579.4Z" fill="#14ffeb"/><path d="M497.8 225.3H502.4V228.3H497.8Z" fill="#19197d"/><path d="M615.6 237.3H620.1V240.3H615.6ZM597.5 249.3H602.0V252.3H597.5Z" fill="#19ffe6"/><path d="M493.3 225.3H497.8V228.3H493.3ZM574.8 228.3H579.4V231.3H574.8Z" fill="#1e1e82"/><path d="M574.8 234.3H579.4V237.3H574.8ZM525.0 252.3H529.6V255.3H525.0Z" fill="#1effe1"/><path d="M452.6 249.3H457.1V252.3H452.6Z" fill="#232387"/><path d="M552.2 231.3H556.7V234.3H552.2ZM611.1 246.3H615.6V249.3H611.1Z" fill="#23ffdc"/><path d="M488.8 225.3H493.3V228.3H488.8ZM439.0 228.3H443.5V231.3H439.0ZM493.3 255.3H497.8V258.3H493.3Z" fill="#282887"/><path d="M611.1 252.3H615.6V255.3H611.1Z" fill="#2d2d87"/><path d="M448.0 249.3H452.6V252.3H448.0ZM579.4 255.3H583.9V258.3H579.4ZM525.0 258.3H529.6V261.3H525.0ZM561.3 258.3H565.8V261.3H561.3Z" fill="#2d2d8c"/><path d="M479.7 231.3H484.3V234.3H479.7Z" fill="#2dffd2"/><path d="M484.3 225.3H488.8V228.3H484.3ZM443.5 228.3H448.0V231.3H443.5Z" fill="#32328c"/><path d="M552.2 252.3H556.7V255.3H552.2Z" fill="#32ffcd"/><path d="M479.7 225.3H484.3V228.3H479.7ZM434.4 228.3H439.0V231.3H434.4ZM443.5 249.3H448.0V252.3H443.5Z" fill="#373791"/><path d="M511.4 231.3H516.0V234.3H511.4ZM466.1 234.3H470.7V237.3H466.1ZM570.3 234.3H574.8V237.3H570.3ZM615.6 243.3H620.1V246.3H615.6ZM484.3 249.3H488.8V252.3H484.3ZM579.4 249.3H583.9V252.3H579.4ZM593.0 249.3H597.5V252.3H593.0Z" fill="#37ffc8"/><path d="M488.8 255.3H493.3V258.3H488.8Z" fill="#3c3c91"/><path d="M561.3 225.3H565.8V228.3H561.3ZM439.0 249.3H443.5V252.3H439.0Z" fill="#3c3c96"/><path d="M615.6 240.3H620.1V243.3H615.6ZM574.8 249.3H579.4V252.3H574.8ZM583.9 249.3H593.0V252.3H583.9Z" fill="#3cffc3"/><path d="M475.2 225.3H479.7V228.3H475.2ZM448.0 228.3H452.6V231.3H448.0Z" fill="#414196"/><path d="M470.7 225.3H475.2V228.3H470.7ZM520.5 258.3H525.0V261.3H520.5Z" fill="#464696"/><path d="M457.1 228.3H461.6V231.3H457.1Z" fill="#46469b"/><path d="M516.0 231.3H520.5V234.3H516.0Z" fill="#46ffb9"/><path d="M452.6 228.3H457.1V231.3H452.6ZM615.6 252.3H620.1V255.3H615.6ZM484.3 255.3H488.8V258.3H484.3ZM583.9 255.3H588.4V258.3H583.9Z" fill="#4b4b9b"/><path d="M506.9 231.3H511.4V234.3H506.9ZM611.1 237.3H615.6V240.3H611.1ZM570.3 249.3H574.8V252.3H570.3Z" fill="#4bffb4"/><path d="M579.4 228.3H583.9V231.3H579.4Z" fill="#50509b"/><path d="M461.6 252.3H466.1V255.3H461.6ZM547.7 261.3H552.2V264.3H547.7Z" fill="#5050a0"/><path d="M565.8 234.3H570.3V237.3H565.8Z" fill="#50ffaf"/><path d="M429.9 228.3H434.4V231.3H429.9ZM434.4 249.3H439.0V252.3H434.4Z" fill="#5555a0"/><path d="M479.7 255.3H484.3V258.3H479.7Z" fill="#5a5aa0"/><path d="M547.7 222.3H552.2V225.3H547.7ZM565.8 258.3H570.3V261.3H565.8Z" fill="#5a5aa5"/><path d="M484.3 231.3H488.8V234.3H484.3ZM520.5 231.3H525.0V234.3H520.5ZM529.6 252.3H534.1V255.3H529.6Z" fill="#5affa5"/><path d="M516.0 258.3H520.5V261.3H516.0Z" fill="#5f5fa5"/><path d="M547.7 231.3H552.2V234.3H547.7ZM488.8 249.3H493.3V252.3H488.8Z" fill="#5fffa0"/><path d="M466.1 225.3H470.7V228.3H466.1ZM425.4 228.3H429.9V231.3H425.4ZM620.1 252.3H624.7V255.3H620.1ZM475.2 255.3H479.7V258.3H475.2Z" fill="#6464aa"/><path d="M470.7 246.3H475.2V249.3H470.7ZM565.8 249.3H570.3V252.3H565.8Z" fill="#64ff9b"/><path d="M543.1 222.3H547.7V225.3H543.1ZM638.2 228.3H642.8V231.3H638.2Z" fill="#6969aa"/><path d="M565.8 225.3H570.3V228.3H565.8Z" fill="#6969af"/><path d="M561.3 234.3H565.8V237.3H561.3ZM466.1 243.3H470.7V246.3H466.1ZM547.7 252.3H552.2V255.3H547.7Z" fill="#69ff96"/><path d="M583.9 228.3H588.4V231.3H583.9ZM429.9 249.3H434.4V252.3H429.9ZM470.7 255.3H475.2V258.3H470.7ZM588.4 255.3H593.0V258.3H588.4ZM543.1 261.3H547.7V264.3H543.1Z" fill="#6e6eaf"/><path d="M502.4 231.3H506.9V234.3H502.4Z" fill="#6eff91"/><path d="M538.6 222.3H543.1V225.3H538.6ZM602.0 222.3H606.5V225.3H602.0ZM511.4 258.3H516.0V261.3H511.4ZM552.2 261.3H556.7V264.3H552.2Z" fill="#7373b4"/><path d="M466.1 237.3H470.7V240.3H466.1ZM506.9 249.3H516.0V252.3H506.9Z" fill="#73ff8c"/><path d="M570.3 225.3H574.8V228.3H570.3ZM602.0 225.3H606.5V228.3H602.0ZM638.2 252.3H642.8V255.3H638.2Z" fill="#7878b4"/><path d="M488.8 231.3H493.3V234.3H488.8ZM466.1 240.3H470.7V243.3H466.1ZM611.1 243.3H615.6V246.3H611.1ZM561.3 249.3H565.8V252.3H561.3Z" fill="#78ff87"/><path d="M425.4 249.3H429.9V252.3H425.4Z" fill="#7d7db4"/><path d="M534.1 222.3H538.6V225.3H534.1ZM552.2 222.3H556.7V225.3H552.2ZM561.3 222.3H565.8V225.3H561.3ZM615.6 222.3H620.1V225.3H615.6ZM624.7 252.3H629.2V255.3H624.7Z" fill="#7d7db9"/><path d="M611.1 240.3H615.6V243.3H611.1ZM606.5 246.3H611.1V249.3H606.5ZM493.3 249.3H497.8V252.3H493.3Z" fill="#7dff82"/><path d="M529.6 222.3H534.1V225.3H529.6ZM597.5 225.3H602.0V228.3H597.5ZM570.3 258.3H574.8V261.3H570.3Z" fill="#8282b9"/><path d="M470.7 234.3H475.2V237.3H470.7ZM502.4 249.3H506.9V252.3H502.4Z" fill="#82ff7d"/><path d="M538.6 261.3H543.1V264.3H538.6Z" fill="#8787b9"/><path d="M579.4 219.3H583.9V222.3H579.4ZM602.0 219.3H606.5V222.3H602.0ZM493.3 222.3H497.8V225.3H493.3ZM525.0 222.3H529.6V225.3H525.0ZM597.5 222.3H602.0V225.3H597.5ZM606.5 222.3H611.1V225.3H606.5ZM579.4 225.3H583.9V228.3H579.4ZM606.5 225.3H611.1V228.3H606.5ZM593.0 255.3H597.5V258.3H593.0Z" fill="#8787be"/><path d="M493.3 231.3H497.8V234.3H493.3ZM525.0 231.3H529.6V234.3H525.0ZM556.7 234.3H561.3V237.3H556.7Z" fill="#87ff78"/><path d="M511.4 219.3H516.0V222.3H511.4ZM520.5 222.3H525.0V225.3H520.5ZM615.6 225.3H620.1V228.3H615.6ZM588.4 228.3H593.0V231.3H588.4ZM633.7 228.3H638.2V231.3H633.7ZM506.9 258.3H511.4V261.3H506.9Z" fill="#8c8cbe"/><path d="M583.9 222.3H588.4V225.3H583.9ZM620.1 222.3H624.7V225.3H620.1ZM629.2 228.3H633.7V231.3H629.2Z" fill="#8c8cc3"/><path d="M497.8 231.3H502.4V234.3H497.8ZM497.8 249.3H502.4V252.3H497.8Z" fill="#8cff73"/><path d="M597.5 219.3H602.0V222.3H597.5ZM497.8 222.3H506.9V225.3H497.8ZM516.0 222.3H520.5V225.3H516.0ZM611.1 222.3H615.6V225.3H611.1ZM642.8 222.3H647.3V225.3H642.8ZM597.5 228.3H602.0V231.3H597.5ZM624.7 228.3H629.2V231.3H624.7ZM629.2 252.3H633.7V255.3H629.2ZM466.1 255.3H470.7V258.3H466.1Z" fill="#9191c3"/><path d="M606.5 237.3H611.1V240.3H606.5ZM516.0 249.3H520.5V252.3H516.0ZM556.7 249.3H561.3V252.3H556.7ZM534.1 252.3H538.6V255.3H534.1Z" fill="#91ff6e"/><path d="M611.1 219.3H615.6V222.3H611.1ZM574.8 222.3H579.4V225.3H574.8ZM583.9 225.3H588.4V228.3H583.9ZM593.0 225.3H597.5V228.3H593.0ZM624.7 225.3H629.2V228.3H624.7ZM642.8 225.3H647.3V228.3H642.8ZM620.1 228.3H624.7V231.3H620.1ZM633.7 252.3H638.2V255.3H633.7ZM556.7 261.3H561.3V264.3H556.7ZM574.8 261.3H579.4V264.3H574.8Z" fill="#9696c3"/><path d="M565.8 222.3H570.3V225.3H565.8ZM579.4 222.3H583.9V225.3H579.4Z" fill="#9696c8"/><path d="M497.8 219.3H506.9V222.3H497.8ZM516.0 219.3H520.5V222.3H516.0ZM583.9 219.3H588.4V222.3H583.9ZM606.5 219.3H611.1V222.3H606.5ZM511.4 222.3H516.0V225.3H511.4ZM556.7 222.3H561.3V225.3H556.7ZM633.7 222.3H638.2V225.3H633.7ZM574.8 225.3H579.4V228.3H574.8ZM452.6 255.3H457.1V258.3H452.6ZM439.0 258.3H443.5V261.3H439.0ZM534.1 261.3H538.6V264.3H534.1ZM583.9 261.3H593.0V264.3H583.9ZM620.1 261.3H624.7V264.3H620.1Z" fill="#9b9bc8"/><path d="M543.1 252.3H547.7V255.3H543.1Z" fill="#9bff64"/><path d="M615.6 228.3H620.1V231.3H615.6ZM579.4 258.3H583.9V261.3H579.4ZM561.3 261.3H565.8V264.3H561.3ZM597.5 261.3H602.0V264.3H597.5Z" fill="#a0a0c8"/><path d="M552.2 219.3H556.7V222.3H552.2ZM593.0 222.3H597.5V225.3H593.0ZM439.0 225.3H443.5V228.3H439.0ZM461.6 225.3H466.1V228.3H461.6ZM457.1 252.3H461.6V255.3H457.1ZM597.5 255.3H602.0V258.3H597.5ZM493.3 258.3H497.8V261.3H493.3ZM615.6 261.3H620.1V264.3H615.6ZM633.7 261.3H638.2V264.3H633.7Z" fill="#a0a0cd"/><path d="M475.2 246.3H479.7V249.3H475.2Z" fill="#a0ff5f"/><path d="M511.4 216.3H516.0V219.3H511.4ZM520.5 216.3H525.0V219.3H520.5ZM506.9 219.3H511.4V222.3H506.9ZM570.3 219.3H574.8V222.3H570.3ZM506.9 222.3H511.4V225.3H506.9ZM638.2 222.3H642.8V225.3H638.2ZM593.0 228.3H597.5V231.3H593.0ZM457.1 255.3H461.6V258.3H457.1ZM434.4 258.3H439.0V261.3H434.4ZM502.4 258.3H506.9V261.3H502.4ZM593.0 258.3H597.5V261.3H593.0ZM624.7 258.3H629.2V261.3H624.7Z" fill="#a5a5cd"/><path d="M543.1 231.3H547.7V234.3H543.1Z" fill="#a5ff5a"/><path d="M611.1 228.3H615.6V231.3H611.1ZM429.9 255.3H434.4V258.3H429.9ZM529.6 261.3H534.1V264.3H529.6Z" fill="#aaaacd"/><path d="M543.1 219.3H552.2V222.3H543.1ZM556.7 219.3H565.8V222.3H556.7ZM629.2 219.3H633.7V222.3H629.2ZM570.3 222.3H574.8V225.3H570.3ZM624.7 222.3H629.2V225.3H624.7ZM443.5 225.3H448.0V228.3H443.5ZM606.5 228.3H611.1V231.3H606.5ZM448.0 252.3H457.1V255.3H448.0ZM629.2 255.3H633.7V258.3H629.2ZM457.1 258.3H461.6V261.3H457.1ZM466.1 258.3H475.2V261.3H466.1ZM574.8 258.3H579.4V261.3H574.8Z" fill="#aaaad2"/><path d="M538.6 252.3H543.1V255.3H538.6Z" fill="#aaff55"/><path d="M615.6 219.3H620.1V222.3H615.6ZM470.7 222.3H479.7V225.3H470.7ZM434.4 225.3H439.0V228.3H434.4ZM439.0 252.3H448.0V255.3H439.0ZM425.4 255.3H429.9V258.3H425.4ZM439.0 255.3H443.5V258.3H439.0ZM429.9 258.3H434.4V261.3H429.9ZM452.6 258.3H457.1V261.3H452.6ZM475.2 258.3H479.7V261.3H475.2ZM588.4 258.3H593.0V261.3H588.4ZM638.2 258.3H642.8V261.3H638.2ZM429.9 261.3H434.4V264.3H429.9ZM439.0 261.3H443.5V264.3H439.0ZM466.1 261.3H470.7V264.3H466.1ZM511.4 261.3H516.0V264.3H511.4ZM593.0 261.3H597.5V264.3H593.0ZM638.2 261.3H642.8V264.3H638.2ZM565.8 264.3H574.8V267.3H565.8Z" fill="#afafd2"/><path d="M529.6 231.3H534.1V234.3H529.6Z" fill="#afff50"/><path d="M488.8 219.3H497.8V222.3H488.8ZM642.8 219.3H647.3V222.3H642.8Z" fill="#b4b4d2"/><path d="M565.8 216.3H570.3V219.3H565.8ZM629.2 216.3H633.7V219.3H629.2ZM475.2 219.3H479.7V222.3H475.2ZM538.6 219.3H543.1V222.3H538.6ZM638.2 219.3H642.8V222.3H638.2ZM611.1 225.3H615.6V228.3H611.1ZM620.1 225.3H624.7V228.3H620.1ZM629.2 225.3H633.7V228.3H629.2ZM602.0 228.3H606.5V231.3H602.0ZM434.4 252.3H439.0V255.3H434.4ZM602.0 255.3H606.5V258.3H602.0ZM488.8 258.3H493.3V261.3H488.8ZM629.2 258.3H633.7V261.3H629.2ZM506.9 261.3H511.4V264.3H506.9ZM525.0 261.3H529.6V264.3H525.0ZM570.3 261.3H574.8V264.3H570.3ZM642.8 261.3H647.3V264.3H642.8ZM602.0 264.3H606.5V267.3H602.0Z" fill="#b4b4d7"/><path d="M570.3 237.3H579.4V240.3H570.3Z" fill="#b4ff4b"/><path d="M497.8 216.3H502.4V219.3H497.8ZM516.0 216.3H520.5V219.3H516.0ZM543.1 216.3H547.7V219.3H543.1ZM570.3 216.3H574.8V219.3H570.3ZM583.9 216.3H588.4V219.3H583.9ZM593.0 216.3H597.5V219.3H593.0ZM466.1 219.3H475.2V222.3H466.1ZM534.1 219.3H538.6V222.3H534.1ZM565.8 219.3H570.3V222.3H565.8ZM593.0 219.3H597.5V222.3H593.0ZM620.1 219.3H624.7V222.3H620.1ZM633.7 219.3H638.2V222.3H633.7ZM488.8 222.3H493.3V225.3H488.8ZM629.2 222.3H633.7V225.3H629.2ZM448.0 225.3H452.6V228.3H448.0ZM638.2 225.3H642.8V228.3H638.2ZM642.8 228.3H647.3V231.3H642.8ZM434.4 255.3H439.0V258.3H434.4ZM620.1 255.3H624.7V258.3H620.1ZM638.2 255.3H642.8V258.3H638.2ZM484.3 258.3H488.8V261.3H484.3ZM497.8 258.3H502.4V261.3H497.8ZM497.8 261.3H502.4V264.3H497.8ZM520.5 261.3H525.0V264.3H520.5ZM579.4 261.3H583.9V264.3H579.4ZM611.1 261.3H615.6V264.3H611.1ZM579.4 264.3H583.9V267.3H579.4ZM588.4 264.3H597.5V267.3H588.4ZM642.8 264.3H647.3V267.3H642.8Z" fill="#b9b9d7"/><path d="M461.6 219.3H466.1V222.3H461.6ZM461.6 222.3H466.1V225.3H461.6ZM615.6 258.3H620.1V261.3H615.6ZM502.4 261.3H506.9V264.3H502.4ZM611.1 264.3H615.6V267.3H611.1Z" fill="#b9b9dc"/><path d="M475.2 234.3H479.7V237.3H475.2ZM570.3 246.3H574.8V249.3H570.3ZM520.5 249.3H525.0V252.3H520.5Z" fill="#b9ff46"/><path d="M561.3 216.3H565.8V219.3H561.3ZM597.5 216.3H602.0V219.3H597.5ZM525.0 219.3H529.6V222.3H525.0ZM588.4 222.3H593.0V225.3H588.4ZM588.4 225.3H593.0V228.3H588.4ZM420.9 252.3H425.4V255.3H420.9ZM448.0 255.3H452.6V258.3H448.0ZM633.7 255.3H638.2V258.3H633.7ZM583.9 258.3H588.4V261.3H583.9ZM425.4 261.3H429.9V264.3H425.4ZM461.6 261.3H466.1V264.3H461.6ZM470.7 261.3H488.8V264.3H470.7ZM516.0 261.3H520.5V264.3H516.0ZM565.8 261.3H570.3V264.3H565.8ZM461.6 264.3H470.7V267.3H461.6ZM502.4 264.3H506.9V267.3H502.4ZM529.6 264.3H534.1V267.3H529.6ZM547.7 264.3H552.2V267.3H547.7ZM583.9 264.3H588.4V267.3H583.9ZM615.6 264.3H620.1V267.3H615.6Z" fill="#bebedc"/><path d="M552.2 234.3H556.7V237.3H552.2ZM565.8 237.3H570.3V240.3H565.8ZM470.7 243.3H475.2V246.3H470.7ZM574.8 246.3H579.4V249.3H574.8Z" fill="#beff41"/><path d="M534.1 240.3H538.6V243.3H534.1ZM534.1 243.3H538.6V246.3H534.1Z" fill="#c30000"/><path d="M588.4 216.3H593.0V219.3H588.4ZM615.6 216.3H620.1V219.3H615.6ZM642.8 216.3H647.3V219.3H642.8ZM439.0 219.3H443.5V222.3H439.0ZM624.7 219.3H629.2V222.3H624.7ZM466.1 222.3H470.7V225.3H466.1ZM452.6 225.3H457.1V228.3H452.6ZM416.3 252.3H420.9V255.3H416.3ZM461.6 255.3H466.1V258.3H461.6ZM606.5 255.3H611.1V258.3H606.5ZM642.8 255.3H647.3V258.3H642.8ZM425.4 258.3H429.9V261.3H425.4ZM606.5 258.3H611.1V261.3H606.5ZM443.5 261.3H452.6V264.3H443.5ZM629.2 261.3H633.7V264.3H629.2ZM497.8 264.3H502.4V267.3H497.8ZM534.1 264.3H538.6V267.3H534.1ZM561.3 264.3H565.8V267.3H561.3ZM574.8 264.3H579.4V267.3H574.8ZM624.7 264.3H629.2V267.3H624.7ZM597.5 267.3H602.0V270.3H597.5ZM615.6 267.3H620.1V270.3H615.6Z" fill="#c3c3dc"/><path d="M506.9 216.3H511.4V219.3H506.9ZM620.1 216.3H629.2V219.3H620.1ZM484.3 222.3H488.8V225.3H484.3ZM443.5 264.3H448.0V267.3H443.5ZM638.2 264.3H642.8V267.3H638.2ZM602.0 267.3H606.5V270.3H602.0Z" fill="#c3c3e1"/><path d="M538.6 240.3H543.1V243.3H538.6Z" fill="#c80000"/><path d="M574.8 216.3H583.9V219.3H574.8ZM416.3 219.3H425.4V222.3H416.3ZM484.3 219.3H488.8V222.3H484.3ZM520.5 219.3H525.0V222.3H520.5ZM529.6 219.3H534.1V222.3H529.6ZM574.8 219.3H579.4V222.3H574.8ZM434.4 222.3H439.0V225.3H434.4ZM479.7 222.3H484.3V225.3H479.7ZM425.4 225.3H434.4V228.3H425.4ZM457.1 225.3H461.6V228.3H457.1ZM425.4 252.3H429.9V255.3H425.4ZM461.6 258.3H466.1V261.3H461.6ZM642.8 258.3H647.3V261.3H642.8ZM420.9 261.3H425.4V264.3H420.9ZM434.4 261.3H439.0V264.3H434.4ZM602.0 261.3H611.1V264.3H602.0ZM597.5 264.3H602.0V267.3H597.5ZM629.2 264.3H638.2V267.3H629.2ZM565.8 267.3H570.3V270.3H565.8ZM620.1 267.3H624.7V270.3H620.1Z" fill="#c8c8e1"/><path d="M470.7 237.3H475.2V240.3H470.7ZM579.4 237.3H583.9V240.3H579.4ZM565.8 246.3H570.3V249.3H565.8ZM552.2 249.3H556.7V252.3H552.2Z" fill="#c8ff37"/><path d="M538.6 243.3H543.1V246.3H538.6Z" fill="#cd0000"/><path d="M502.4 216.3H506.9V219.3H502.4ZM606.5 216.3H611.1V219.3H606.5ZM434.4 219.3H439.0V222.3H434.4ZM611.1 255.3H615.6V258.3H611.1ZM624.7 261.3H629.2V264.3H624.7ZM556.7 264.3H561.3V267.3H556.7ZM606.5 264.3H611.1V267.3H606.5ZM620.1 264.3H624.7V267.3H620.1ZM538.6 267.3H543.1V270.3H538.6ZM552.2 267.3H556.7V270.3H552.2ZM611.1 267.3H615.6V270.3H611.1Z" fill="#cdcde1"/><path d="M520.5 213.3H525.0V216.3H520.5ZM484.3 216.3H488.8V219.3H484.3ZM602.0 216.3H606.5V219.3H602.0ZM448.0 219.3H452.6V222.3H448.0ZM457.1 219.3H461.6V222.3H457.1ZM588.4 219.3H593.0V222.3H588.4ZM642.8 240.3H647.3V243.3H642.8ZM420.9 255.3H425.4V258.3H420.9ZM443.5 255.3H448.0V258.3H443.5ZM416.3 258.3H420.9V261.3H416.3ZM448.0 258.3H452.6V261.3H448.0ZM457.1 261.3H461.6V264.3H457.1ZM479.7 264.3H484.3V267.3H479.7ZM493.3 264.3H497.8V267.3H493.3ZM506.9 264.3H511.4V267.3H506.9ZM525.0 264.3H529.6V267.3H525.0ZM543.1 264.3H547.7V267.3H543.1ZM561.3 267.3H565.8V270.3H561.3ZM588.4 267.3H593.0V270.3H588.4Z" fill="#cdcde6"/><path d="M534.1 231.3H543.1V234.3H534.1ZM561.3 237.3H565.8V240.3H561.3ZM470.7 240.3H475.2V243.3H470.7Z" fill="#cdff32"/><path d="M506.9 213.3H511.4V216.3H506.9ZM561.3 213.3H565.8V216.3H561.3ZM593.0 213.3H597.5V216.3H593.0ZM452.6 216.3H457.1V219.3H452.6ZM479.7 216.3H484.3V219.3H479.7ZM488.8 216.3H497.8V219.3H488.8ZM538.6 216.3H543.1V219.3H538.6ZM547.7 216.3H552.2V219.3H547.7ZM556.7 216.3H561.3V219.3H556.7ZM611.1 216.3H615.6V219.3H611.1ZM633.7 216.3H642.8V219.3H633.7ZM443.5 219.3H448.0V222.3H443.5ZM420.9 222.3H425.4V225.3H420.9ZM439.0 222.3H443.5V225.3H439.0ZM448.0 222.3H461.6V225.3H448.0ZM420.9 225.3H425.4V228.3H420.9ZM642.8 237.3H647.3V240.3H642.8ZM642.8 243.3H647.3V246.3H642.8ZM429.9 252.3H434.4V255.3H429.9ZM615.6 255.3H620.1V258.3H615.6ZM624.7 255.3H629.2V258.3H624.7ZM479.7 258.3H484.3V261.3H479.7ZM611.1 258.3H615.6V261.3H611.1ZM620.1 258.3H624.7V261.3H620.1ZM416.3 261.3H420.9V264.3H416.3ZM434.4 264.3H439.0V267.3H434.4ZM470.7 264.3H475.2V267.3H470.7ZM488.8 264.3H493.3V267.3H488.8ZM511.4 264.3H516.0V267.3H511.4ZM552.2 264.3H556.7V267.3H552.2ZM633.7 267.3H638.2V270.3H633.7Z" fill="#d2d2e6"/><path d="M606.5 243.3H611.1V246.3H606.5ZM561.3 246.3H565.8V249.3H561.3Z" fill="#d2ff2d"/><path d="M511.4 213.3H516.0V216.3H511.4ZM633.7 213.3H638.2V216.3H633.7ZM642.8 213.3H647.3V216.3H642.8ZM420.9 216.3H425.4V219.3H420.9ZM633.7 225.3H638.2V228.3H633.7ZM642.8 252.3H647.3V255.3H642.8ZM416.3 255.3H420.9V258.3H416.3ZM475.2 264.3H479.7V267.3H475.2ZM642.8 267.3H647.3V270.3H642.8Z" fill="#d7d7e6"/><path d="M516.0 213.3H520.5V216.3H516.0ZM529.6 213.3H534.1V216.3H529.6ZM570.3 213.3H574.8V216.3H570.3ZM416.3 216.3H420.9V219.3H416.3ZM429.9 216.3H434.4V219.3H429.9ZM448.0 216.3H452.6V219.3H448.0ZM461.6 216.3H466.1V219.3H461.6ZM475.2 216.3H479.7V219.3H475.2ZM452.6 219.3H457.1V222.3H452.6ZM425.4 222.3H429.9V225.3H425.4ZM443.5 222.3H448.0V225.3H443.5ZM642.8 234.3H647.3V237.3H642.8ZM642.8 249.3H647.3V252.3H642.8ZM443.5 258.3H448.0V261.3H443.5ZM597.5 258.3H606.5V261.3H597.5ZM633.7 258.3H638.2V261.3H633.7ZM452.6 261.3H457.1V264.3H452.6ZM425.4 264.3H434.4V267.3H425.4ZM448.0 264.3H452.6V267.3H448.0ZM484.3 264.3H488.8V267.3H484.3ZM538.6 264.3H543.1V267.3H538.6ZM525.0 267.3H529.6V270.3H525.0ZM543.1 267.3H547.7V270.3H543.1ZM583.9 267.3H588.4V270.3H583.9ZM593.0 267.3H597.5V270.3H593.0Z" fill="#d7d7eb"/><path d="M570.3 240.3H574.8V243.3H570.3ZM606.5 240.3H611.1V243.3H606.5ZM579.4 246.3H583.9V249.3H579.4Z" fill="#d7ff28"/><path d="M452.6 213.3H457.1V216.3H452.6ZM497.8 213.3H502.4V216.3H497.8ZM565.8 213.3H570.3V216.3H565.8ZM620.1 213.3H624.7V216.3H620.1ZM629.2 213.3H633.7V216.3H629.2ZM638.2 213.3H642.8V216.3H638.2ZM425.4 216.3H429.9V219.3H425.4ZM470.7 216.3H475.2V219.3H470.7ZM552.2 216.3H556.7V219.3H552.2ZM479.7 219.3H484.3V222.3H479.7ZM416.3 222.3H420.9V225.3H416.3ZM429.9 222.3H434.4V225.3H429.9ZM416.3 225.3H420.9V228.3H416.3ZM642.8 246.3H647.3V249.3H642.8ZM416.3 249.3H425.4V252.3H416.3ZM420.9 258.3H425.4V261.3H420.9ZM488.8 261.3H497.8V264.3H488.8ZM416.3 264.3H425.4V267.3H416.3ZM439.0 264.3H443.5V267.3H439.0ZM457.1 264.3H461.6V267.3H457.1ZM488.8 267.3H497.8V270.3H488.8ZM502.4 267.3H506.9V270.3H502.4ZM529.6 267.3H538.6V270.3H529.6ZM547.7 267.3H552.2V270.3H547.7ZM570.3 267.3H574.8V270.3H570.3ZM579.4 267.3H583.9V270.3H579.4ZM606.5 267.3H611.1V270.3H606.5ZM638.2 267.3H642.8V270.3H638.2ZM583.9 270.3H588.4V273.3H583.9ZM593.0 270.3H597.5V273.3H593.0Z" fill="#dcdceb"/><path d="M583.9 237.3H588.4V240.3H583.9ZM602.0 237.3H606.5V240.3H602.0ZM570.3 243.3H574.8V246.3H570.3ZM479.7 246.3H484.3V249.3H479.7Z" fill="#dcff23"/><path d="M534.1 237.3H538.6V240.3H534.1Z" fill="#e10000"/><path d="M547.7 213.3H552.2V216.3H547.7ZM588.4 213.3H593.0V216.3H588.4ZM606.5 213.3H615.6V216.3H606.5ZM434.4 216.3H439.0V219.3H434.4ZM529.6 216.3H534.1V219.3H529.6ZM642.8 231.3H647.3V234.3H642.8ZM511.4 267.3H516.0V270.3H511.4ZM556.7 267.3H561.3V270.3H556.7ZM547.7 270.3H552.2V273.3H547.7ZM565.8 270.3H570.3V273.3H565.8Z" fill="#e1e1eb"/><path d="M497.8 210.3H502.4V213.3H497.8ZM416.3 213.3H425.4V216.3H416.3ZM457.1 213.3H461.6V216.3H457.1ZM479.7 213.3H484.3V216.3H479.7ZM502.4 213.3H506.9V216.3H502.4ZM543.1 213.3H547.7V216.3H543.1ZM552.2 213.3H556.7V216.3H552.2ZM574.8 213.3H579.4V216.3H574.8ZM602.0 213.3H606.5V216.3H602.0ZM624.7 213.3H629.2V216.3H624.7ZM443.5 216.3H448.0V219.3H443.5ZM457.1 216.3H461.6V219.3H457.1ZM466.1 216.3H470.7V219.3H466.1ZM525.0 216.3H529.6V219.3H525.0ZM534.1 216.3H538.6V219.3H534.1ZM429.9 219.3H434.4V222.3H429.9ZM452.6 264.3H457.1V267.3H452.6ZM516.0 264.3H525.0V267.3H516.0ZM448.0 267.3H452.6V270.3H448.0ZM479.7 267.3H484.3V270.3H479.7ZM506.9 267.3H511.4V270.3H506.9ZM516.0 267.3H520.5V270.3H516.0ZM574.8 267.3H579.4V270.3H574.8ZM556.7 270.3H561.3V273.3H556.7ZM602.0 270.3H606.5V273.3H602.0Z" fill="#e1e1f0"/><path d="M511.4 234.3H516.0V237.3H511.4ZM556.7 237.3H561.3V240.3H556.7ZM565.8 240.3H570.3V243.3H565.8ZM565.8 243.3H570.3V246.3H565.8ZM602.0 246.3H606.5V249.3H602.0Z" fill="#e1ff1e"/><path d="M493.3 210.3H497.8V213.3H493.3ZM529.6 210.3H543.1V213.3H529.6ZM633.7 210.3H647.3V213.3H633.7ZM429.9 213.3H439.0V216.3H429.9ZM470.7 213.3H479.7V216.3H470.7ZM484.3 213.3H488.8V216.3H484.3ZM579.4 213.3H588.4V216.3H579.4ZM597.5 213.3H602.0V216.3H597.5ZM615.6 213.3H620.1V216.3H615.6ZM425.4 219.3H429.9V222.3H425.4ZM420.9 228.3H425.4V231.3H420.9ZM411.8 255.3H416.3V258.3H411.8ZM416.3 267.3H425.4V270.3H416.3ZM443.5 267.3H448.0V270.3H443.5ZM457.1 267.3H461.6V270.3H457.1ZM470.7 267.3H479.7V270.3H470.7ZM497.8 267.3H502.4V270.3H497.8ZM520.5 267.3H525.0V270.3H520.5ZM534.1 270.3H538.6V273.3H534.1ZM561.3 270.3H565.8V273.3H561.3ZM579.4 270.3H583.9V273.3H579.4ZM588.4 270.3H593.0V273.3H588.4ZM611.1 270.3H624.7V273.3H611.1ZM638.2 270.3H642.8V273.3H638.2Z" fill="#e6e6f0"/><path d="M561.3 240.3H565.8V243.3H561.3ZM574.8 240.3H579.4V243.3H574.8ZM574.8 243.3H579.4V246.3H574.8ZM556.7 246.3H561.3V249.3H556.7Z" fill="#e6ff19"/><path d="M538.6 237.3H543.1V240.3H538.6Z" fill="#eb0000"/><path d="M461.6 210.3H466.1V213.3H461.6ZM488.8 210.3H493.3V213.3H488.8ZM502.4 210.3H506.9V213.3H502.4ZM511.4 210.3H516.0V213.3H511.4ZM525.0 210.3H529.6V213.3H525.0ZM543.1 210.3H547.7V213.3H543.1ZM561.3 210.3H565.8V213.3H561.3ZM570.3 210.3H574.8V213.3H570.3ZM615.6 210.3H624.7V213.3H615.6ZM629.2 210.3H633.7V213.3H629.2ZM425.4 213.3H429.9V216.3H425.4ZM439.0 213.3H452.6V216.3H439.0ZM488.8 213.3H497.8V216.3H488.8ZM525.0 213.3H529.6V216.3H525.0ZM534.1 213.3H543.1V216.3H534.1ZM556.7 213.3H561.3V216.3H556.7ZM439.0 216.3H443.5V219.3H439.0ZM411.8 219.3H416.3V222.3H411.8ZM411.8 222.3H416.3V225.3H411.8ZM416.3 228.3H420.9V231.3H416.3ZM416.3 246.3H420.9V249.3H416.3ZM411.8 258.3H416.3V261.3H411.8ZM439.0 267.3H443.5V270.3H439.0ZM484.3 267.3H488.8V270.3H484.3ZM470.7 270.3H475.2V273.3H470.7ZM502.4 270.3H506.9V273.3H502.4ZM529.6 270.3H534.1V273.3H529.6ZM538.6 270.3H547.7V273.3H538.6ZM552.2 270.3H556.7V273.3H552.2ZM574.8 270.3H579.4V273.3H574.8ZM597.5 270.3H602.0V273.3H597.5ZM606.5 270.3H611.1V273.3H606.5ZM633.7 270.3H638.2V273.3H633.7ZM642.8 270.3H647.3V273.3H642.8Z" fill="#ebebf5"/><path d="M561.3 243.3H565.8V246.3H561.3Z" fill="#ebff14"/><path d="M534.1 246.3H543.1V249.3H534.1Z" fill="#f00000"/><path d="M429.9 210.3H457.1V213.3H429.9ZM466.1 210.3H470.7V213.3H466.1ZM479.7 210.3H488.8V213.3H479.7ZM506.9 210.3H511.4V213.3H506.9ZM520.5 210.3H525.0V213.3H520.5ZM552.2 210.3H556.7V213.3H552.2ZM565.8 210.3H570.3V213.3H565.8ZM574.8 210.3H583.9V213.3H574.8ZM588.4 210.3H593.0V213.3H588.4ZM602.0 210.3H615.6V213.3H602.0ZM624.7 210.3H629.2V213.3H624.7ZM411.8 213.3H416.3V216.3H411.8ZM461.6 213.3H470.7V216.3H461.6ZM411.8 216.3H416.3V219.3H411.8ZM411.8 225.3H416.3V228.3H411.8ZM416.3 231.3H420.9V234.3H416.3ZM420.9 246.3H425.4V249.3H420.9ZM411.8 252.3H416.3V255.3H411.8ZM452.6 267.3H457.1V270.3H452.6ZM461.6 267.3H466.1V270.3H461.6ZM624.7 267.3H633.7V270.3H624.7ZM479.7 270.3H497.8V273.3H479.7ZM506.9 270.3H511.4V273.3H506.9ZM520.5 270.3H529.6V273.3H520.5ZM570.3 270.3H574.8V273.3H570.3ZM543.1 273.3H547.7V276.3H543.1ZM552.2 273.3H561.3V276.3H552.2ZM597.5 273.3H602.0V276.3H597.5Z" fill="#f0f0f5"/><path d="M497.8 207.3H502.4V210.3H497.8ZM416.3 210.3H420.9V213.3H416.3ZM470.7 210.3H479.7V213.3H470.7ZM547.7 210.3H552.2V213.3H547.7ZM583.9 210.3H588.4V213.3H583.9ZM593.0 210.3H602.0V213.3H593.0ZM411.8 228.3H416.3V231.3H411.8ZM434.4 267.3H439.0V270.3H434.4ZM466.1 267.3H470.7V270.3H466.1ZM420.9 270.3H425.4V273.3H420.9ZM511.4 270.3H516.0V273.3H511.4ZM565.8 273.3H570.3V276.3H565.8ZM602.0 273.3H606.5V276.3H602.0Z" fill="#f0f0fa"/><path d="M516.0 234.3H520.5V237.3H516.0ZM597.5 237.3H602.0V240.3H597.5ZM583.9 246.3H588.4V249.3H583.9Z" fill="#f0ff0f"/><path d="M529.6 240.3H534.1V243.3H529.6Z" fill="#f50000"/><path d="M429.9 207.3H434.4V210.3H429.9ZM448.0 207.3H452.6V210.3H448.0ZM488.8 207.3H497.8V210.3H488.8ZM502.4 207.3H520.5V210.3H502.4ZM529.6 207.3H538.6V210.3H529.6ZM543.1 207.3H547.7V210.3H543.1ZM606.5 207.3H611.1V210.3H606.5ZM615.6 207.3H624.7V210.3H615.6ZM633.7 207.3H647.3V210.3H633.7ZM411.8 210.3H416.3V213.3H411.8ZM420.9 210.3H429.9V213.3H420.9ZM457.1 210.3H461.6V213.3H457.1ZM516.0 210.3H520.5V213.3H516.0ZM556.7 210.3H561.3V213.3H556.7ZM420.9 231.3H425.4V234.3H420.9ZM420.9 243.3H425.4V246.3H420.9ZM411.8 246.3H416.3V249.3H411.8ZM411.8 249.3H416.3V252.3H411.8ZM411.8 261.3H416.3V264.3H411.8ZM411.8 264.3H416.3V267.3H411.8ZM425.4 267.3H434.4V270.3H425.4ZM416.3 270.3H420.9V273.3H416.3ZM429.9 270.3H452.6V273.3H429.9ZM457.1 270.3H470.7V273.3H457.1ZM475.2 270.3H479.7V273.3H475.2ZM497.8 270.3H502.4V273.3H497.8ZM516.0 270.3H520.5V273.3H516.0ZM624.7 270.3H633.7V273.3H624.7ZM516.0 273.3H543.1V276.3H516.0ZM547.7 273.3H552.2V276.3H547.7ZM561.3 273.3H565.8V276.3H561.3ZM570.3 273.3H579.4V276.3H570.3ZM583.9 273.3H597.5V276.3H583.9ZM606.5 273.3H611.1V276.3H606.5ZM615.6 273.3H629.2V276.3H615.6Z" fill="#f5f5fa"/><path d="M479.7 234.3H484.3V237.3H479.7ZM588.4 237.3H593.0V240.3H588.4Z" fill="#f5ff0a"/><path d="M529.6 243.3H534.1V246.3H529.6Z" fill="#fa0000"/><path d="M416.3 207.3H420.9V210.3H416.3ZM425.4 207.3H429.9V210.3H425.4ZM434.4 207.3H448.0V210.3H434.4ZM452.6 207.3H475.2V210.3H452.6ZM479.7 207.3H488.8V210.3H479.7ZM525.0 207.3H529.6V210.3H525.0ZM538.6 207.3H543.1V210.3H538.6ZM547.7 207.3H579.4V210.3H547.7ZM583.9 207.3H606.5V210.3H583.9ZM611.1 207.3H615.6V210.3H611.1ZM624.7 207.3H629.2V210.3H624.7ZM411.8 231.3H416.3V234.3H411.8ZM416.3 234.3H425.4V237.3H416.3ZM416.3 240.3H425.4V243.3H416.3ZM411.8 243.3H420.9V246.3H411.8ZM411.8 267.3H416.3V270.3H411.8ZM452.6 270.3H457.1V273.3H452.6ZM439.0 273.3H443.5V276.3H439.0ZM452.6 273.3H475.2V276.3H452.6ZM484.3 273.3H516.0V276.3H484.3ZM579.4 273.3H583.9V276.3H579.4ZM611.1 273.3H615.6V276.3H611.1ZM629.2 273.3H633.7V276.3H629.2ZM638.2 273.3H647.3V276.3H638.2ZM552.2 276.3H570.3V279.3H552.2ZM574.8 276.3H579.4V279.3H574.8ZM583.9 276.3H588.4V279.3H583.9ZM593.0 276.3H602.0V279.3H593.0Z" fill="#fafafa"/><path d="M411.8 207.3H416.3V210.3H411.8ZM420.9 207.3H425.4V210.3H420.9ZM475.2 207.3H479.7V210.3H475.2ZM520.5 207.3H525.0V210.3H520.5ZM579.4 207.3H583.9V210.3H579.4ZM629.2 207.3H633.7V210.3H629.2ZM411.8 234.3H416.3V237.3H411.8ZM416.3 237.3H425.4V240.3H416.3ZM411.8 270.3H416.3V273.3H411.8ZM425.4 270.3H429.9V273.3H425.4ZM420.9 273.3H439.0V276.3H420.9ZM443.5 273.3H452.6V276.3H443.5ZM475.2 273.3H484.3V276.3H475.2ZM633.7 273.3H638.2V276.3H633.7ZM502.4 276.3H506.9V279.3H502.4ZM511.4 276.3H552.2V279.3H511.4ZM570.3 276.3H574.8V279.3H570.3ZM579.4 276.3H583.9V279.3H579.4ZM588.4 276.3H593.0V279.3H588.4ZM602.0 276.3H629.2V279.3H602.0Z" fill="#fafaff"/><path d="M547.7 234.3H552.2V237.3H547.7ZM556.7 240.3H561.3V243.3H556.7ZM556.7 243.3H561.3V246.3H556.7Z" fill="#faff05"/><path d="M493.3 240.3H502.4V243.3H493.3Z" fill="#ff0f00"/><path d="M529.6 237.3H534.1V240.3H529.6Z" fill="#ff1400"/><path d="M543.1 240.3H547.7V243.3H543.1ZM543.1 243.3H547.7V246.3H543.1Z" fill="#ff1900"/><path d="M493.3 237.3H502.4V240.3H493.3ZM493.3 243.3H502.4V246.3H493.3Z" fill="#ff1e00"/><path d="M529.6 246.3H534.1V249.3H529.6Z" fill="#ff2800"/><path d="M488.8 240.3H493.3V243.3H488.8Z" fill="#ff2d00"/><path d="M543.1 237.3H547.7V240.3H543.1Z" fill="#ff3200"/><path d="M488.8 237.3H493.3V240.3H488.8ZM543.1 246.3H547.7V249.3H543.1Z" fill="#ff3700"/><path d="M525.0 240.3H529.6V243.3H525.0ZM488.8 243.3H493.3V246.3H488.8Z" fill="#ff3c00"/><path d="M525.0 243.3H529.6V246.3H525.0Z" fill="#ff4100"/><path d="M534.1 234.3H538.6V237.3H534.1ZM525.0 237.3H529.6V240.3H525.0ZM502.4 240.3H506.9V243.3H502.4Z" fill="#ff5500"/><path d="M538.6 234.3H543.1V237.3H538.6ZM484.3 240.3H488.8V243.3H484.3Z" fill="#ff5a00"/><path d="M502.4 243.3H506.9V246.3H502.4Z" fill="#ff5f00"/><path d="M502.4 237.3H506.9V240.3H502.4Z" fill="#ff6400"/><path d="M484.3 237.3H488.8V240.3H484.3Z" fill="#ff6900"/><path d="M484.3 243.3H488.8V246.3H484.3Z" fill="#ff6e00"/><path d="M525.0 246.3H529.6V249.3H525.0ZM538.6 249.3H543.1V252.3H538.6Z" fill="#ff7300"/><path d="M529.6 234.3H534.1V237.3H529.6ZM534.1 249.3H538.6V252.3H534.1Z" fill="#ff7d00"/><path d="M493.3 234.3H502.4V237.3H493.3ZM497.8 246.3H502.4V249.3H497.8Z" fill="#ff8700"/><path d="M520.5 240.3H525.0V243.3H520.5ZM493.3 246.3H497.8V249.3H493.3Z" fill="#ff8c00"/><path d="M520.5 243.3H525.0V246.3H520.5ZM593.0 243.3H597.5V246.3H593.0Z" fill="#ff9100"/><path d="M593.0 240.3H597.5V243.3H593.0Z" fill="#ff9600"/><path d="M543.1 234.3H547.7V237.3H543.1ZM506.9 240.3H511.4V243.3H506.9ZM547.7 240.3H552.2V243.3H547.7ZM547.7 243.3H552.2V246.3H547.7Z" fill="#ff9b00"/><path d="M488.8 234.3H493.3V237.3H488.8ZM520.5 237.3H525.0V240.3H520.5ZM597.5 243.3H602.0V246.3H597.5ZM543.1 249.3H547.7V252.3H543.1Z" fill="#ffa000"/><path d="M479.7 240.3H484.3V243.3H479.7ZM597.5 240.3H602.0V243.3H597.5ZM506.9 243.3H511.4V246.3H506.9Z" fill="#ffa500"/><path d="M506.9 237.3H511.4V240.3H506.9ZM516.0 240.3H520.5V243.3H516.0Z" fill="#ffaa00"/><path d="M547.7 237.3H552.2V240.3H547.7ZM516.0 243.3H520.5V246.3H516.0ZM488.8 246.3H493.3V249.3H488.8ZM547.7 246.3H552.2V249.3H547.7Z" fill="#ffaf00"/><path d="M525.0 234.3H529.6V237.3H525.0ZM479.7 237.3H484.3V240.3H479.7ZM588.4 240.3H593.0V243.3H588.4ZM588.4 243.3H593.0V246.3H588.4ZM502.4 246.3H506.9V249.3H502.4Z" fill="#ffb400"/><path d="M479.7 243.3H484.3V246.3H479.7ZM529.6 249.3H534.1V252.3H529.6Z" fill="#ffb900"/><path d="M516.0 237.3H520.5V240.3H516.0ZM520.5 246.3H525.0V249.3H520.5Z" fill="#ffbe00"/><path d="M502.4 234.3H506.9V237.3H502.4ZM511.4 240.3H516.0V243.3H511.4ZM602.0 243.3H606.5V246.3H602.0Z" fill="#ffc300"/><path d="M484.3 234.3H488.8V237.3H484.3ZM602.0 240.3H606.5V243.3H602.0ZM511.4 243.3H516.0V246.3H511.4Z" fill="#ffc800"/><path d="M552.2 240.3H556.7V243.3H552.2ZM552.2 243.3H556.7V246.3H552.2Z" fill="#ffcd00"/><path d="M511.4 237.3H516.0V240.3H511.4Z" fill="#ffd200"/><path d="M583.9 243.3H588.4V246.3H583.9ZM593.0 246.3H597.5V249.3H593.0Z" fill="#ffd700"/><path d="M583.9 240.3H588.4V243.3H583.9ZM484.3 246.3H488.8V249.3H484.3Z" fill="#ffdc00"/><path d="M552.2 237.3H556.7V240.3H552.2ZM506.9 246.3H511.4V249.3H506.9ZM516.0 246.3H520.5V249.3H516.0ZM552.2 246.3H556.7V249.3H552.2Z" fill="#ffe600"/><path d="M597.5 246.3H602.0V249.3H597.5Z" fill="#ffeb00"/><path d="M475.2 240.3H479.7V243.3H475.2ZM588.4 246.3H593.0V249.3H588.4Z" fill="#fff000"/><path d="M520.5 234.3H525.0V237.3H520.5ZM475.2 237.3H479.7V240.3H475.2Z" fill="#fff500"/><path d="M593.0 237.3H597.5V240.3H593.0ZM579.4 240.3H583.9V243.3H579.4ZM579.4 243.3H583.9V246.3H579.4ZM525.0 249.3H529.6V252.3H525.0ZM547.7 249.3H552.2V252.3H547.7Z" fill="#fffa00"/><path d="M506.9 234.3H511.4V237.3H506.9ZM475.2 243.3H479.7V246.3H475.2ZM511.4 246.3H516.0V249.3H511.4Z" fill="#ffff00"/></g>
<g fill="#d4d4f0"><rect x="397.7" y="158.6" width="6.5" height="2" fill-opacity="0.8"/><rect x="404" y="160.5" width="6" height="2" fill-opacity="0.7"/><rect x="398.6" y="169" width="5.6" height="2" fill-opacity="0.7"/><rect x="432" y="184.7" width="5.7" height="2" fill-opacity="0.6"/><rect x="444" y="178.2" width="5" height="2.2" fill-opacity="0.7"/><rect x="450" y="157.7" width="6" height="2" fill-opacity="0.75"/><rect x="453.6" y="155.7" width="2.8" height="2" fill-opacity="0.8"/><rect x="454.5" y="168.9" width="2" height="2" fill-opacity="0.8"/><rect x="454.5" y="174.5" width="2" height="2" fill-opacity="0.8"/><rect x="391" y="151.4" width="20" height="1.3" fill-opacity="0.35"/><rect x="387.4" y="195.2" width="11" height="1.3" fill-opacity="0.35"/><rect x="436" y="168" width="10" height="1.3" fill-opacity="0.3"/><rect x="47" y="152" width="5" height="2" fill-opacity="0.6"/><rect x="47" y="156" width="5" height="2" fill-opacity="0.5"/><rect x="47" y="160" width="5" height="2" fill-opacity="0.45"/><rect x="300" y="137" width="9" height="1.3" fill-opacity="0.5"/><rect x="296" y="142" width="12" height="1.3" fill-opacity="0.4"/><rect x="308" y="190" width="3" height="3" fill-opacity="0.7"/></g>
<path d="M45.3 165.2H311.6M45.3 242.4H311.6" stroke="#000" stroke-width="2"/>
<path d="M380.1 166.1H647.3M380.1 243.6H647.3" stroke="#000" stroke-width="2"/>
<rect x="46.0" y="130.3" width="108.8" height="20.0" fill="#fff" fill-opacity="0.72"/>
<rect x="46.0" y="207.0" width="117.5" height="18.5" fill="#fff" fill-opacity="0.75"/>
<path d="M45.3 128.8H311.6V200.6H45.3ZM134.1 128.8v3M134.1 200.6v-3M222.8 128.8v3M222.8 200.6v-3M45.3 136.0h3M311.6 136.0h-3M45.3 164.7h3M311.6 164.7h-3M45.3 193.4h3M311.6 193.4h-3" fill="none" stroke="#7f7f7f" stroke-width="1.1"/>
<path d="M45.3 206.2H311.6V278.0H45.3ZM134.1 206.2v3M134.1 278.0v-3M222.8 206.2v3M222.8 278.0v-3M45.3 224.1h3M311.6 224.1h-3M45.3 242.1h3M311.6 242.1h-3M45.3 260.1h3M311.6 260.1h-3" fill="none" stroke="#7f7f7f" stroke-width="1.1"/>
<text x="31.5" y="57.9" font-size="11.5" text-anchor="middle" font-weight="normal" fill="#1e1e1e" >1</text>
<text x="31.5" y="91.5" font-size="11.5" text-anchor="middle" font-weight="normal" fill="#1e1e1e" textLength="17.0" lengthAdjust="spacingAndGlyphs" >0.5</text>
<text x="31.5" y="127.0" font-size="11.5" text-anchor="middle" font-weight="normal" fill="#1e1e1e" >0</text>
<text x="31.5" y="140.29999999999998" font-size="11.5" text-anchor="middle" font-weight="normal" fill="#1e1e1e" textLength="10.5" lengthAdjust="spacingAndGlyphs" >-2</text>
<text x="31.5" y="169.1" font-size="11.5" text-anchor="middle" font-weight="normal" fill="#1e1e1e" >0</text>
<text x="31.5" y="197.1" font-size="11.5" text-anchor="middle" font-weight="normal" fill="#1e1e1e" >2</text>
<text x="31.5" y="228.1" font-size="11.5" text-anchor="middle" font-weight="normal" fill="#1e1e1e" textLength="21.0" lengthAdjust="spacingAndGlyphs" >-0.2</text>
<text x="31.5" y="246.0" font-size="11.5" text-anchor="middle" font-weight="normal" fill="#1e1e1e" >0</text>
<text x="31.5" y="264.5" font-size="11.5" text-anchor="middle" font-weight="normal" fill="#1e1e1e" textLength="17.0" lengthAdjust="spacingAndGlyphs" >0.2</text>
<text x="45.3" y="289.8" font-size="11.5" text-anchor="middle" font-weight="normal" fill="#1e1e1e" textLength="17.2" lengthAdjust="spacingAndGlyphs" >0.3</text>
<text x="134.06666666666666" y="289.8" font-size="11.5" text-anchor="middle" font-weight="normal" fill="#1e1e1e" textLength="24.2" lengthAdjust="spacingAndGlyphs" >0.35</text>
<text x="222.83333333333343" y="289.8" font-size="11.5" text-anchor="middle" font-weight="normal" fill="#1e1e1e" textLength="17.4" lengthAdjust="spacingAndGlyphs" >0.4</text>
<text x="311.6000000000001" y="289.8" font-size="11.5" text-anchor="middle" font-weight="normal" fill="#1e1e1e" textLength="24.5" lengthAdjust="spacingAndGlyphs" >0.45</text>
<text x="179.6" y="305.0" font-size="11.5" text-anchor="middle" font-weight="normal" fill="#1e1e1e" textLength="91" lengthAdjust="spacingAndGlyphs" >Frequency / PHz</text>
<text transform="translate(11.0 87.6) rotate(-90)" font-size="11.5" text-anchor="middle" fill="#1e1e1e" textLength="31" lengthAdjust="spacingAndGlyphs">ampl.</text>
<text transform="translate(11.0 160.9) rotate(-90)" font-size="11.5" text-anchor="middle" fill="#1e1e1e" textLength="44" lengthAdjust="spacingAndGlyphs">x<tspan font-size="8" dy="2.5">2</tspan><tspan dy="-2.5"> / mm</tspan></text>
<text transform="translate(11.0 242.6) rotate(-90)" font-size="11.5" text-anchor="middle" fill="#1e1e1e" textLength="56" lengthAdjust="spacingAndGlyphs">k<tspan font-size="8" dy="2.5">x2</tspan><tspan dy="-2.5"> / mm</tspan><tspan font-size="8" dy="-5">-1</tspan></text>
<text x="49.0" y="66.6" font-size="11.8" fill="#1e1e1e" textLength="14.8" lengthAdjust="spacingAndGlyphs">(a)</text>
<text x="70.3" y="66.6" font-size="11.8" fill="#1e1e1e" textLength="94" lengthAdjust="spacingAndGlyphs">(Σ<tspan font-size="8" font-style="italic" dy="2.5">x2</tspan><tspan dy="-2.5">Σ</tspan><tspan font-size="8" font-style="italic" dy="2.5">y2</tspan><tspan dy="-2.5">|E(x,y,ω)|)</tspan><tspan font-size="8" dy="-4">2</tspan></text>
<text x="49.0" y="144.8" font-size="11.8" fill="#1e1e1e" textLength="14.8" lengthAdjust="spacingAndGlyphs">(b)</text>
<text x="70.0" y="144.8" font-size="11.8" fill="#1e1e1e" textLength="83.5" lengthAdjust="spacingAndGlyphs">|E(x<tspan font-size="8" dy="2.5">2</tspan><tspan dy="-2.5">,y</tspan><tspan font-size="8" dy="2.5">2</tspan><tspan dy="-2.5">=0,ω)|</tspan><tspan font-size="8" dy="-4">2</tspan></text>
<text x="49.0" y="221.7" font-size="11.8" fill="#1e1e1e" textLength="14.8" lengthAdjust="spacingAndGlyphs">(c)</text>
<text x="70.8" y="221.7" font-size="11.8" fill="#1e1e1e" textLength="91.5" lengthAdjust="spacingAndGlyphs">|E(k<tspan font-size="8" dy="2.5">x2</tspan><tspan dy="-2.5">,k</tspan><tspan font-size="8" dy="2.5">y2</tspan><tspan dy="-2.5">=0,ω)|</tspan><tspan font-size="8" dy="-4">2</tspan></text>
<rect x="384.7" y="130.6" width="105.2" height="19.5" fill="#fff" fill-opacity="0.72"/>
<rect x="381.0" y="208.0" width="114.0" height="18.0" fill="#fff" fill-opacity="0.75"/>
<path d="M380.1 129.7H647.3V201.5H380.1ZM469.2 129.7v3M469.2 201.5v-3M558.2 129.7v3M558.2 201.5v-3M380.1 136.9h3M647.3 136.9h-3M380.1 165.6h3M647.3 165.6h-3M380.1 194.3h3M647.3 194.3h-3" fill="none" stroke="#7f7f7f" stroke-width="1.1"/>
<path d="M380.1 207.3H647.3V279.3H380.1ZM469.2 207.3v3M469.2 279.3v-3M558.2 207.3v3M558.2 279.3v-3M380.1 225.3h3M647.3 225.3h-3M380.1 243.3h3M647.3 243.3h-3M380.1 261.3h3M647.3 261.3h-3" fill="none" stroke="#7f7f7f" stroke-width="1.1"/>
<text x="365.0" y="59.7" font-size="11.5" text-anchor="middle" font-weight="normal" fill="#1e1e1e" >1</text>
<text x="365.0" y="92.89999999999999" font-size="11.5" text-anchor="middle" font-weight="normal" fill="#1e1e1e" textLength="17.0" lengthAdjust="spacingAndGlyphs" >0.5</text>
<text x="365.0" y="128.4" font-size="11.5" text-anchor="middle" font-weight="normal" fill="#1e1e1e" >0</text>
<text x="365.0" y="141.4" font-size="11.5" text-anchor="middle" font-weight="normal" fill="#1e1e1e" textLength="10.5" lengthAdjust="spacingAndGlyphs" >-2</text>
<text x="365.0" y="169.9" font-size="11.5" text-anchor="middle" font-weight="normal" fill="#1e1e1e" >0</text>
<text x="365.0" y="198.4" font-size="11.5" text-anchor="middle" font-weight="normal" fill="#1e1e1e" >2</text>
<text x="365.0" y="229.29999999999998" font-size="11.5" text-anchor="middle" font-weight="normal" fill="#1e1e1e" textLength="21.0" lengthAdjust="spacingAndGlyphs" >-0.2</text>
<text x="365.0" y="247.4" font-size="11.5" text-anchor="middle" font-weight="normal" fill="#1e1e1e" >0</text>
<text x="365.0" y="265.8" font-size="11.5" text-anchor="middle" font-weight="normal" fill="#1e1e1e" textLength="17.0" lengthAdjust="spacingAndGlyphs" >0.2</text>
<text x="380.1" y="291.4" font-size="11.5" text-anchor="middle" font-weight="normal" fill="#1e1e1e" textLength="17.2" lengthAdjust="spacingAndGlyphs" >0.3</text>
<text x="469.16666666666663" y="291.4" font-size="11.5" text-anchor="middle" font-weight="normal" fill="#1e1e1e" textLength="24.2" lengthAdjust="spacingAndGlyphs" >0.35</text>
<text x="558.2333333333333" y="291.4" font-size="11.5" text-anchor="middle" font-weight="normal" fill="#1e1e1e" textLength="17.4" lengthAdjust="spacingAndGlyphs" >0.4</text>
<text x="647.3" y="291.4" font-size="11.5" text-anchor="middle" font-weight="normal" fill="#1e1e1e" textLength="24.5" lengthAdjust="spacingAndGlyphs" >0.45</text>
<text x="514.0" y="308.0" font-size="11.5" text-anchor="middle" font-weight="normal" fill="#1e1e1e" textLength="91" lengthAdjust="spacingAndGlyphs" >Frequency / PHz</text>
<text transform="translate(345.0 88.69999999999999) rotate(-90)" font-size="11.5" text-anchor="middle" fill="#1e1e1e" textLength="31" lengthAdjust="spacingAndGlyphs">ampl.</text>
<text transform="translate(345.0 162.0) rotate(-90)" font-size="11.5" text-anchor="middle" fill="#1e1e1e" textLength="44" lengthAdjust="spacingAndGlyphs">x<tspan font-size="8" dy="2.5">2</tspan><tspan dy="-2.5"> / mm</tspan></text>
<text transform="translate(345.0 243.7) rotate(-90)" font-size="11.5" text-anchor="middle" fill="#1e1e1e" textLength="56" lengthAdjust="spacingAndGlyphs">k<tspan font-size="8" dy="2.5">x2</tspan><tspan dy="-2.5"> / mm</tspan><tspan font-size="8" dy="-5">-1</tspan></text>
<text x="386.8" y="67.39999999999999" font-size="11.8" fill="#1e1e1e" textLength="14.8" lengthAdjust="spacingAndGlyphs">(e)</text>
<text x="406.6" y="67.39999999999999" font-size="11.8" fill="#1e1e1e" textLength="94" lengthAdjust="spacingAndGlyphs">(Σ<tspan font-size="8" font-style="italic" dy="2.5">x2</tspan><tspan dy="-2.5">Σ</tspan><tspan font-size="8" font-style="italic" dy="2.5">y2</tspan><tspan dy="-2.5">|E(x,y,ω)|)</tspan><tspan font-size="8" dy="-4">2</tspan></text>
<text x="386.8" y="145.7" font-size="11.8" fill="#1e1e1e" textLength="14.8" lengthAdjust="spacingAndGlyphs">(f)</text>
<text x="403.6" y="145.7" font-size="11.8" fill="#1e1e1e" textLength="83.5" lengthAdjust="spacingAndGlyphs">|E(x<tspan font-size="8" dy="2.5">2</tspan><tspan dy="-2.5">,y</tspan><tspan font-size="8" dy="2.5">2</tspan><tspan dy="-2.5">=0,ω)|</tspan><tspan font-size="8" dy="-4">2</tspan></text>
<text x="386.8" y="222.8" font-size="11.8" fill="#1e1e1e" textLength="14.8" lengthAdjust="spacingAndGlyphs">(g)</text>
<text x="403.2" y="222.8" font-size="11.8" fill="#1e1e1e" textLength="90.5" lengthAdjust="spacingAndGlyphs">|E(k<tspan font-size="8" dy="2.5">x2</tspan><tspan dy="-2.5">,k</tspan><tspan font-size="8" dy="2.5">y2</tspan><tspan dy="-2.5">=0,ω)|</tspan><tspan font-size="8" dy="-4">2</tspan></text>
<g>
<polygon points="172.9,380.3 291.5,439.8 291.5,582.3 172.9,523.3" fill="#e7e7e7"/>
<ellipse cx="84.0" cy="506.0" rx="16" ry="12" fill="#8a8ae0" fill-opacity="0.3" transform="rotate(-15 84.0 506.0)"/>
<ellipse cx="87.0" cy="503.0" rx="10" ry="7" fill="#8a8ae0" fill-opacity="0.3" transform="rotate(-15 87.0 503.0)"/>
<ellipse cx="143.0" cy="467.0" rx="9" ry="11" fill="#8a8ae0" fill-opacity="0.35" transform="rotate(0 143.0 467.0)"/>
<ellipse cx="196.5" cy="466.0" rx="4" ry="11" fill="#8a8ae0" fill-opacity="0.3" transform="rotate(0 196.5 466.0)"/>
<ellipse cx="150.0" cy="594.0" rx="12" ry="5" fill="#8a8ae0" fill-opacity="0.3" transform="rotate(0 150.0 594.0)"/>
<ellipse cx="201.0" cy="576.0" rx="9" ry="5" fill="#8a8ae0" fill-opacity="0.3" transform="rotate(0 201.0 576.0)"/>
<ellipse cx="257.0" cy="490.0" rx="6" ry="22" fill="#8a8ae0" fill-opacity="0.15" transform="rotate(-10 257.0 490.0)"/>
<g transform="matrix(20.240,-9.384,0.000,-29.072,113.6,481.6)"><circle cx="0" cy="0" r="1.45" fill="url(#bg1)"/></g>
<g transform="matrix(19.872,8.832,0.000,-28.704,232.6,482.3)"><circle cx="0" cy="0" r="1.45" fill="url(#bg2)"/></g>
<g transform="matrix(30.728,0.000,0.000,13.156,173.2,584.1)"><circle cx="0" cy="0" r="1.45" fill="url(#bg3)"/></g>
<path d="M113.7 525.3L113.8 522.6L114.1 519.6L114.5 516.6L115.1 513.6L115.8 510.6L116.6 507.9L117.6 505.4L118.9 503.0L120.3 500.8L121.7 498.6L123.1 496.5L124.3 494.4L125.3 492.3L126.2 490.3L127.0 488.4L127.8 486.4L128.8 484.6L130.1 482.8L131.7 481.1L133.4 479.4L135.3 477.8L137.3 476.3L139.5 474.7L141.7 473.2L144.0 471.6L146.5 470.0L149.2 468.4L151.8 466.9L154.5 465.6L157.1 464.5L159.7 463.7L162.3 463.2L165.0 462.8L167.6 462.6L170.1 462.5L172.6 462.5L175.0 462.7L177.4 463.1L179.7 463.6L182.0 464.2L184.1 464.8L186.1 465.4L187.9 466.0L189.4 466.7L190.9 467.4L192.4 468.1L193.9 468.8L195.7 469.3L197.7 469.7L199.9 469.9L202.2 470.0L204.5 470.2L206.9 470.6L209.2 471.2L211.5 472.1L213.9 473.2L216.4 474.4L218.7 475.8L220.9 477.3L222.8 479.0L224.5 480.9L226.1 483.1L227.4 485.4L228.7 487.8L229.7 490.2L230.5 492.5L231.1 494.8L231.6 497.0L231.8 499.2L231.9 501.5L231.8 503.8L231.4 506.0L230.8 508.2L229.8 510.5L228.7 512.8L227.4 515.0L226.1 517.2L224.7 519.5L223.2 521.8L221.6 524.0L219.9 526.2L218.2 528.5L216.5 530.8L215.0 533.0L213.6 535.3L212.4 537.6L211.3 540.0L210.1 542.3L208.8 544.5L207.3 546.5L205.7 548.4L203.9 550.2L202.1 551.8L200.1 553.4L198.0 554.9L195.7 556.2L193.2 557.5L190.4 558.7L187.5 559.8L184.5 560.7L181.5 561.5L178.4 562.0L175.3 562.2L172.1 562.2L168.9 562.0L165.6 561.7L162.3 561.4L159.1 561.0L155.8 560.7L152.5 560.4L149.2 560.0L145.9 559.5L142.7 558.9L139.7 558.1L136.8 557.1L134.0 556.0L131.3 554.8L128.8 553.4L126.4 552.0L124.3 550.4L122.4 548.7L120.7 546.9L119.1 545.0L117.7 543.0L116.6 540.9L115.6 538.8L114.8 536.7L114.3 534.6L113.9 532.4L113.7 530.2L113.7 527.8Z" fill="url(#cloudG)" fill-opacity="0.62" stroke="#b4e6e6" stroke-opacity="0.7" stroke-width="1.2"/>
<path d="M139.7 507.9L140.3 504.8L141.0 501.5L141.8 498.0L142.8 494.6L144.0 491.4L145.5 488.6L147.3 486.1L149.5 483.8L151.8 481.7L154.3 479.9L156.7 478.3L159.1 477.0L161.3 476.0L163.5 475.3L165.6 474.9L167.8 474.6L170.1 474.6L172.6 474.7L175.3 475.0L178.3 475.4L181.3 476.0L184.3 476.8L187.3 477.8L190.0 479.0L192.6 480.5L195.1 482.3L197.5 484.3L199.8 486.4L201.8 488.5L203.5 490.5L204.9 492.3L206.0 494.1L206.9 495.8L207.6 497.7L208.0 499.7L208.3 502.1L208.3 504.9L208.2 508.1L207.8 511.5L207.2 515.0L206.4 518.3L205.4 521.4L204.2 524.3L202.9 527.0L201.3 529.7L199.6 532.2L197.7 534.6L195.7 536.9L193.5 539.1L191.1 541.2L188.5 543.2L185.8 544.9L183.0 546.4L180.3 547.5L177.5 548.2L174.6 548.6L171.6 548.7L168.6 548.5L165.7 548.1L162.9 547.5L160.2 546.5L157.4 545.2L154.8 543.6L152.2 541.9L149.8 540.3L147.5 538.8L145.3 537.5L143.1 536.2L141.1 534.9L139.3 533.6L137.9 532.4L136.9 531.1L136.5 529.9L136.6 528.8L137.1 527.7L137.8 526.5L138.4 525.1L138.8 523.4L139.0 521.3L139.0 519.0L139.0 516.4L139.1 513.6L139.3 510.8Z" fill="url(#midG)" fill-opacity="0.85" stroke="#c2cdf0" stroke-opacity="0.6" stroke-width="1.2"/>
<ellipse cx="172.6" cy="511.6" rx="17.6" ry="18" fill="url(#pinkG)" fill-opacity="0.95"/>
<circle cx="172.6" cy="511.3" r="4.3" fill="#b9a3e6" fill-opacity="0.75"/>
<path d="M54.2 438.8V584.0L172.6 642.8L291.5 583.2M54.2 438.8l-3.8 -1.9M54.2 475.1l-3.8 -1.9M54.2 511.4l-3.8 -1.9M54.2 547.7l-3.8 -1.9M54.2 584.0l-3.8 -1.9M54.2 584.0l3.8 -1.9M113.4 613.4l3.8 -1.9M172.6 642.8l3.8 -1.9M172.6 642.8l-3.8 -1.9M232.1 613.0l-3.8 -1.9M291.5 583.2l-3.8 -1.9" fill="none" stroke="#3c3c3c" stroke-width="0.9"/>
<text x="45.2" y="440.6" font-size="11.5" text-anchor="end" font-weight="normal" fill="#1e1e1e" >20</text>
<text x="45.2" y="476.6" font-size="11.5" text-anchor="end" font-weight="normal" fill="#1e1e1e" >10</text>
<text x="45.2" y="510.8" font-size="11.5" text-anchor="end" font-weight="normal" fill="#1e1e1e" >0</text>
<text x="45.2" y="548.6" font-size="11.5" text-anchor="end" font-weight="normal" fill="#1e1e1e" >-10</text>
<text x="45.2" y="583.6" font-size="11.5" text-anchor="end" font-weight="normal" fill="#1e1e1e" >-20</text>
<text x="47.0" y="599.8" font-size="11.5" text-anchor="middle" font-weight="normal" fill="#1e1e1e" >-20</text>
<text x="105.0" y="624.6" font-size="11.5" text-anchor="middle" font-weight="normal" fill="#1e1e1e" >0</text>
<text x="158.0" y="653.6" font-size="11.5" text-anchor="middle" font-weight="normal" fill="#1e1e1e" >20</text>
<text x="183.0" y="653.4" font-size="11.5" text-anchor="middle" font-weight="normal" fill="#1e1e1e" >-20</text>
<text x="238.3" y="623.6" font-size="11.5" text-anchor="middle" font-weight="normal" fill="#1e1e1e" >0</text>
<text x="302.0" y="593.8" font-size="11.5" text-anchor="middle" font-weight="normal" fill="#1e1e1e" >20</text>
<text transform="translate(24.5 495.0) rotate(-90)" font-size="11.5" text-anchor="middle" fill="#1e1e1e" textLength="46" lengthAdjust="spacingAndGlyphs">time / fs</text>
<text x="90.3" y="644.3" font-size="11.5" text-anchor="middle" fill="#1e1e1e">x<tspan font-size="8" dy="2.5">3</tspan><tspan dy="-2.5"> / μm</tspan></text>
<text x="253.0" y="640.2" font-size="11.5" text-anchor="middle" fill="#1e1e1e">y<tspan font-size="8" dy="2.5">3</tspan><tspan dy="-2.5"> / μm</tspan></text>
</g>
<g>
<polygon points="518.2,374.5 636.8,434.0 636.8,576.5 518.2,517.5" fill="#e7e7e7"/>
<ellipse cx="432.0" cy="499.0" rx="11" ry="14" fill="#8a8ae0" fill-opacity="0.35" transform="rotate(-10 432.0 499.0)"/>
<ellipse cx="433.3" cy="496.2" rx="7" ry="9" fill="#8a8ae0" fill-opacity="0.3" transform="rotate(-10 433.3 496.2)"/>
<ellipse cx="487.0" cy="464.0" rx="7.5" ry="10" fill="#8a8ae0" fill-opacity="0.35" transform="rotate(0 487.0 464.0)"/>
<ellipse cx="495.3" cy="588.2" rx="12" ry="5" fill="#8a8ae0" fill-opacity="0.3" transform="rotate(0 495.3 588.2)"/>
<ellipse cx="546.3" cy="570.2" rx="9" ry="5" fill="#8a8ae0" fill-opacity="0.3" transform="rotate(0 546.3 570.2)"/>
<ellipse cx="599.3" cy="484.2" rx="6" ry="24" fill="#8a8ae0" fill-opacity="0.15" transform="rotate(-10 599.3 484.2)"/>
<g transform="matrix(19.780,-8.280,0.000,-26.036,458.9,475.3)"><circle cx="0" cy="0" r="1.45" fill="url(#bg4)"/></g>
<g transform="matrix(18.400,8.280,0.000,-25.760,577.9,476.5)"><circle cx="0" cy="0" r="1.45" fill="url(#bg5)"/></g>
<g transform="matrix(28.428,0.000,0.000,13.708,518.5,578.3)"><circle cx="0" cy="0" r="1.45" fill="url(#bg6)"/></g>
<path d="M450.8 543.8L451.2 542.4L451.9 541.1L453.0 539.9L454.2 538.7L455.4 537.8L456.6 537.0L457.9 536.6L459.3 536.7L460.9 536.9L462.3 537.0L463.5 536.8L464.3 536.0L464.5 534.5L464.3 532.6L463.9 530.3L463.4 527.8L463.1 525.2L463.3 522.6L464.0 519.9L465.0 517.0L466.2 514.0L467.5 511.0L468.9 508.0L470.1 505.2L471.2 502.5L472.2 499.8L473.1 497.2L474.2 494.6L475.4 492.1L476.9 489.7L478.6 487.3L480.5 484.9L482.5 482.6L484.7 480.4L487.0 478.3L489.4 476.2L492.0 474.2L494.8 472.1L497.7 470.2L500.7 468.4L503.7 466.8L506.8 465.6L509.9 464.7L513.0 464.2L516.2 463.9L519.5 463.8L522.8 463.7L526.1 463.7L529.6 463.6L533.2 463.6L536.9 463.7L540.6 463.9L544.1 464.2L547.3 464.7L550.3 465.3L553.1 465.9L555.7 466.6L558.2 467.6L560.6 468.8L562.8 470.4L565.0 472.4L567.1 474.8L569.1 477.4L570.9 480.2L572.4 483.1L573.4 485.9L574.0 488.7L574.2 491.7L574.2 494.7L573.8 497.7L573.2 500.6L572.4 503.3L571.3 505.8L569.8 508.2L568.1 510.4L566.3 512.6L564.5 514.7L562.8 516.8L561.2 518.8L559.6 520.7L558.1 522.6L556.5 524.5L554.8 526.4L553.1 528.4L551.3 530.6L549.4 532.8L547.5 535.1L545.6 537.5L543.6 539.7L541.5 541.9L539.4 544.1L537.3 546.3L535.1 548.5L532.9 550.5L530.5 552.2L528.0 553.5L525.3 554.3L522.5 554.6L519.5 554.6L516.5 554.5L513.5 554.4L510.6 554.4L507.7 554.6L504.7 554.7L501.7 554.8L498.8 555.0L496.0 555.2L493.3 555.4L490.8 555.7L488.5 556.0L486.3 556.3L484.1 556.7L481.9 557.0L479.7 557.3L477.4 557.6L475.1 557.9L472.8 558.2L470.5 558.4L468.3 558.5L466.2 558.3L464.1 557.9L461.9 557.3L459.9 556.6L457.9 555.7L456.2 554.7L454.7 553.5L453.5 552.1L452.5 550.5L451.7 548.8L451.1 547.0L450.8 545.3Z" fill="url(#cloudG)" fill-opacity="0.62" stroke="#b4e6e6" stroke-opacity="0.7" stroke-width="1.2"/>
<path d="M486.5 484.0L489.2 481.4L492.6 479.1L496.5 477.2L500.6 475.6L504.8 474.3L508.7 473.3L512.6 472.6L516.6 472.1L520.6 472.0L524.6 472.1L528.4 472.6L531.9 473.3L535.3 474.4L538.6 475.8L541.8 477.4L544.7 479.4L547.2 481.6L549.2 484.0L550.6 486.7L551.7 489.9L552.3 493.2L552.5 496.7L552.4 500.1L552.1 503.3L551.4 506.3L550.3 509.4L548.9 512.3L547.3 515.2L545.5 518.0L543.5 520.6L541.4 523.2L539.0 525.7L536.4 528.1L533.7 530.3L530.9 532.4L528.0 534.2L525.0 535.8L521.8 537.3L518.6 538.6L515.3 539.6L512.0 540.4L508.7 540.9L505.4 541.0L502.0 540.8L498.6 540.3L495.3 539.7L492.2 538.9L489.4 538.0L486.8 537.0L484.3 535.9L482.0 534.6L480.0 533.2L478.2 531.8L476.9 530.3L476.0 528.8L475.5 527.4L475.3 525.8L475.4 524.2L475.6 522.5L475.9 520.6L476.4 518.7L477.0 516.7L477.9 514.7L478.8 512.5L479.8 509.9L480.7 507.1L481.4 503.7L482.0 499.7L482.5 495.4L483.3 491.1L484.6 487.2Z" fill="url(#midG)" fill-opacity="0.85" stroke="#c2cdf0" stroke-opacity="0.6" stroke-width="1.2"/>
<ellipse cx="518.4" cy="505.6" rx="16.6" ry="15.8" fill="url(#pinkG)" fill-opacity="0.95"/>
<circle cx="518.4" cy="505.3" r="4.3" fill="#b9a3e6" fill-opacity="0.75"/>
<path d="M399.5 433.0V578.2L517.9 637.0L636.8 577.4M399.5 433.0l-3.8 -1.9M399.5 469.3l-3.8 -1.9M399.5 505.6l-3.8 -1.9M399.5 541.9l-3.8 -1.9M399.5 578.2l-3.8 -1.9M399.5 578.2l3.8 -1.9M458.7 607.6l3.8 -1.9M517.9 637.0l3.8 -1.9M517.9 637.0l-3.8 -1.9M577.4 607.2l-3.8 -1.9M636.8 577.4l-3.8 -1.9" fill="none" stroke="#3c3c3c" stroke-width="0.9"/>
<text x="392.9" y="437.3" font-size="11.5" text-anchor="end" font-weight="normal" fill="#1e1e1e" >20</text>
<text x="392.9" y="473.3" font-size="11.5" text-anchor="end" font-weight="normal" fill="#1e1e1e" >10</text>
<text x="392.9" y="507.5" font-size="11.5" text-anchor="end" font-weight="normal" fill="#1e1e1e" >0</text>
<text x="392.9" y="545.3" font-size="11.5" text-anchor="end" font-weight="normal" fill="#1e1e1e" >-10</text>
<text x="392.9" y="580.3" font-size="11.5" text-anchor="end" font-weight="normal" fill="#1e1e1e" >-20</text>
<text x="394.7" y="596.5" font-size="11.5" text-anchor="middle" font-weight="normal" fill="#1e1e1e" >-20</text>
<text x="452.7" y="621.3" font-size="11.5" text-anchor="middle" font-weight="normal" fill="#1e1e1e" >0</text>
<text x="505.7" y="650.3" font-size="11.5" text-anchor="middle" font-weight="normal" fill="#1e1e1e" >20</text>
<text x="530.7" y="650.1" font-size="11.5" text-anchor="middle" font-weight="normal" fill="#1e1e1e" >-20</text>
<text x="586.0" y="620.3" font-size="11.5" text-anchor="middle" font-weight="normal" fill="#1e1e1e" >0</text>
<text x="649.7" y="590.5" font-size="11.5" text-anchor="middle" font-weight="normal" fill="#1e1e1e" >20</text>
<text transform="translate(372.2 491.7) rotate(-90)" font-size="11.5" text-anchor="middle" fill="#1e1e1e" textLength="46" lengthAdjust="spacingAndGlyphs">time / fs</text>
<text x="437.8" y="641.0" font-size="11.5" text-anchor="middle" fill="#1e1e1e">x<tspan font-size="8" dy="2.5">3</tspan><tspan dy="-2.5"> / μm</tspan></text>
<text x="600.7" y="637.6" font-size="11.5" text-anchor="middle" fill="#1e1e1e">y<tspan font-size="8" dy="2.5">3</tspan><tspan dy="-2.5"> / μm</tspan></text>
</g>
<text x="40.0" y="360.3" font-size="10.5" text-anchor="middle" font-weight="normal" fill="#1e1e1e" textLength="15.2" lengthAdjust="spacingAndGlyphs" >(d)</text>
<text x="166.4" y="361.2" font-size="14" text-anchor="middle" font-weight="normal" fill="#1e1e1e" textLength="112.6" lengthAdjust="spacingAndGlyphs" >focus - near field</text>
<text x="394.8" y="360.3" font-size="10.5" text-anchor="middle" font-weight="normal" fill="#1e1e1e" textLength="15.5" lengthAdjust="spacingAndGlyphs" >(h)</text>
<text x="521.3" y="361.2" font-size="14" text-anchor="middle" font-weight="normal" fill="#1e1e1e" textLength="113.2" lengthAdjust="spacingAndGlyphs" >focus - near field</text>
<rect x="687.4" y="375.1" width="20.1" height="261.0" fill="url(#cbG)" stroke="#3c3c3c" stroke-width="0.9"/>
<text x="712.2" y="639.3000000000001" font-size="9.3" text-anchor="start" font-weight="normal" fill="#404040" >0</text>
<text x="712.2" y="613.2" font-size="9.3" text-anchor="start" font-weight="normal" fill="#404040" >0.1</text>
<text x="712.2" y="587.1" font-size="9.3" text-anchor="start" font-weight="normal" fill="#404040" >0.2</text>
<text x="712.2" y="561.0000000000001" font-size="9.3" text-anchor="start" font-weight="normal" fill="#404040" >0.3</text>
<text x="712.2" y="534.9000000000001" font-size="9.3" text-anchor="start" font-weight="normal" fill="#404040" >0.4</text>
<text x="712.2" y="508.8" font-size="9.3" text-anchor="start" font-weight="normal" fill="#404040" >0.5</text>
<text x="712.2" y="482.7" font-size="9.3" text-anchor="start" font-weight="normal" fill="#404040" >0.6</text>
<text x="712.2" y="456.6" font-size="9.3" text-anchor="start" font-weight="normal" fill="#404040" >0.7</text>
<text x="712.2" y="430.5" font-size="9.3" text-anchor="start" font-weight="normal" fill="#404040" >0.8</text>
<text x="712.2" y="404.40000000000003" font-size="9.3" text-anchor="start" font-weight="normal" fill="#404040" >0.9</text>
<text x="712.2" y="378.3" font-size="9.3" text-anchor="start" font-weight="normal" fill="#404040" >1</text>
<path d="M707.5 610.0h-2.5M707.5 583.9h-2.5M707.5 557.8h-2.5M707.5 531.7h-2.5M707.5 505.6h-2.5M707.5 479.5h-2.5M707.5 453.4h-2.5M707.5 427.3h-2.5M707.5 401.2h-2.5" stroke="#3c3c3c" stroke-width="0.9"/>
</svg></body></html>
